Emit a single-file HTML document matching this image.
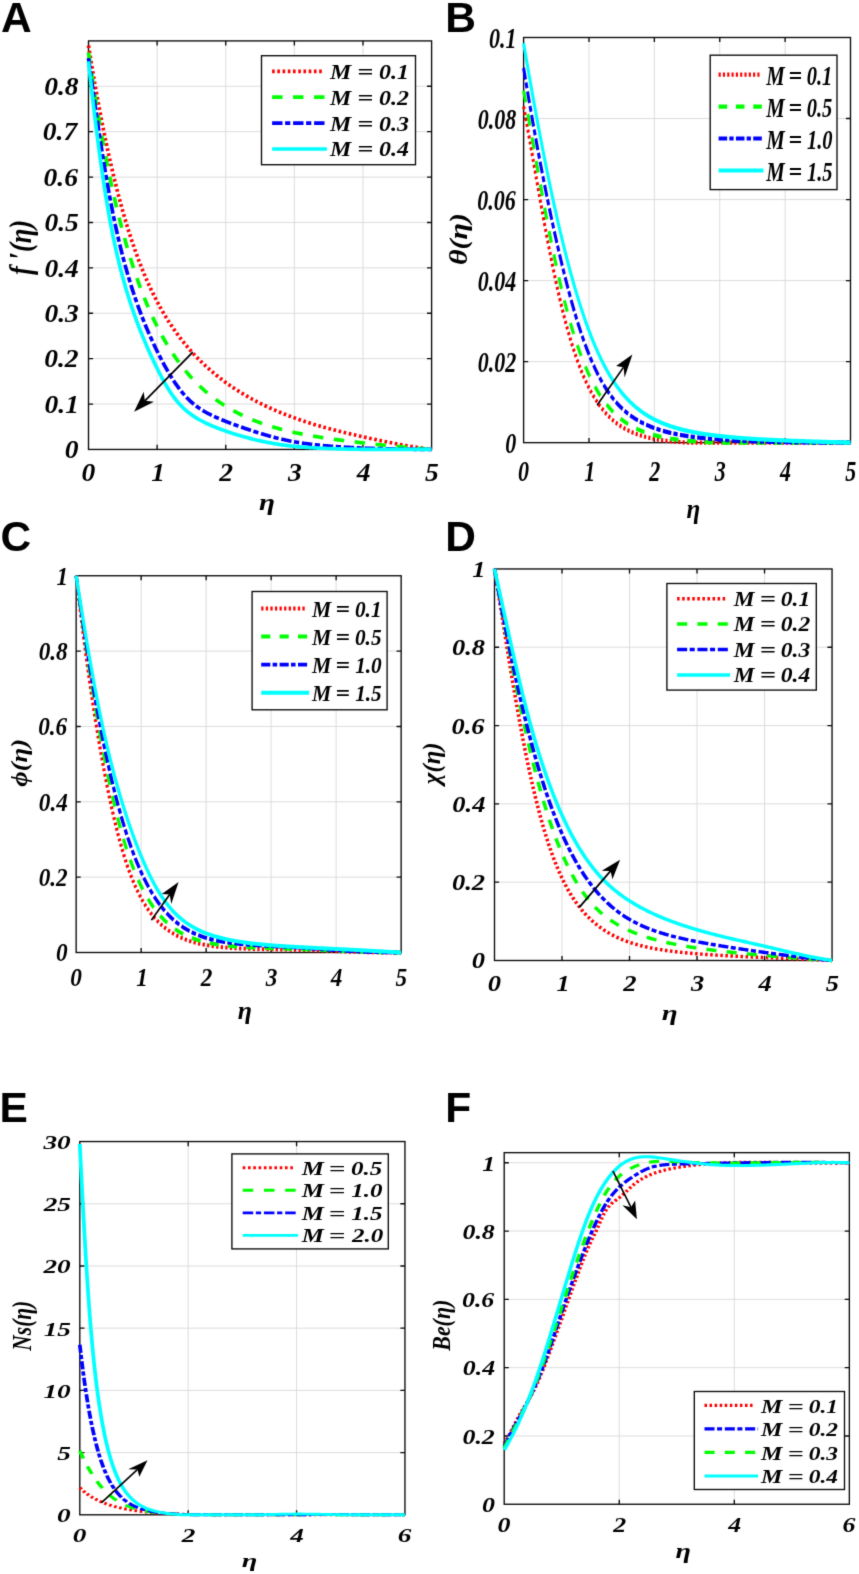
<!DOCTYPE html>
<html><head><meta charset="utf-8"><title>Figure</title>
<style>html,body{margin:0;padding:0;background:#fff}svg{display:block}text{fill:#000}</style></head>
<body><svg width="859" height="1574" viewBox="0 0 859 1574">
<defs><filter id="soft" filterUnits="userSpaceOnUse" x="0" y="0" width="859" height="1574" color-interpolation-filters="sRGB"><feConvolveMatrix order="3" kernelMatrix="0.0143 0.0910 0.0143 0.0910 0.5785 0.0910 0.0143 0.0910 0.0143" edgeMode="duplicate" preserveAlpha="true"/></filter></defs>
<rect width="859" height="1574" fill="#fff"/>
<g filter="url(#soft)">
<rect x="-20" y="-20" width="899" height="1614" fill="#fff"/>
<path d="M157.12,40.90V449.45M225.74,40.90V449.45M294.36,40.90V449.45M362.98,40.90V449.45M88.50,404.06H431.60M88.50,358.66H431.60M88.50,313.27H431.60M88.50,267.87H431.60M88.50,222.48H431.60M88.50,177.08H431.60M88.50,131.69H431.60M88.50,86.29H431.60" stroke="#d8d8d8" stroke-width="0.9" fill="none"/>
<path d="M157.12,449.45v-4.6M157.12,40.90v4.6M225.74,449.45v-4.6M225.74,40.90v4.6M294.36,449.45v-4.6M294.36,40.90v4.6M362.98,449.45v-4.6M362.98,40.90v4.6M88.50,404.06h4.6M431.60,404.06h-4.6M88.50,358.66h4.6M431.60,358.66h-4.6M88.50,313.27h4.6M431.60,313.27h-4.6M88.50,267.87h4.6M431.60,267.87h-4.6M88.50,222.48h4.6M431.60,222.48h-4.6M88.50,177.08h4.6M431.60,177.08h-4.6M88.50,131.69h4.6M431.60,131.69h-4.6M88.50,86.29h4.6M431.60,86.29h-4.6" stroke="#0a0a0a" stroke-width="1.35" fill="none"/>
<rect x="88.50" y="40.90" width="343.10" height="408.55" fill="none" stroke="#0a0a0a" stroke-width="1.35"/>
<g transform="scale(1.0,1)" fill="none" stroke-width="3.672">
<path d="M88.50,45.49 L88.52,45.64 L88.57,45.94 L88.64,46.36 L88.72,46.86 L88.81,47.45 L88.92,48.11 L89.03,48.84 L89.16,49.64 L89.30,50.50 L89.44,51.41 L89.60,52.37 L89.76,53.39 L89.93,54.46 L90.11,55.58 L90.30,56.74 L90.50,57.94 L90.70,59.19 L90.91,60.47 L91.13,61.80 L91.35,63.16 L91.59,64.56 L91.82,66.00 L92.07,67.47 L92.32,68.97 L92.58,70.50 L92.84,72.07 L93.11,73.66 L93.39,75.28 L93.67,76.93 L93.96,78.61 L94.25,80.31 L94.55,82.04 L94.86,83.80 L95.17,85.57 L95.49,87.37 L95.81,89.19 L96.14,91.03 L96.47,92.89 L96.81,94.77 L97.15,96.66 L97.50,98.58 L97.86,100.51 L98.21,102.46 L98.58,104.43 L98.95,106.41 L99.32,108.40 L99.70,110.41 L100.08,112.43 L100.47,114.46 L100.87,116.51 L101.26,118.56 L101.67,120.63 L102.07,122.70 L102.49,124.79 L102.90,126.88 L103.32,128.98 L103.75,131.09 L104.18,133.21 L104.61,135.33 L105.05,137.46 L105.50,139.60 L105.95,141.74 L106.40,143.88 L106.85,146.03 L107.32,148.18 L107.78,150.33 L108.25,152.49 L108.72,154.64 L109.20,156.80 L109.68,158.96 L110.17,161.12 L110.66,163.28 L111.16,165.44 L111.65,167.60 L112.16,169.76 L112.66,171.92 L113.17,174.07 L113.69,176.22 L114.21,178.37 L114.73,180.52 L115.26,182.66 L115.79,184.80 L116.32,186.93 L116.86,189.06 L117.40,191.19 L117.95,193.31 L118.50,195.42 L119.05,197.53 L119.61,199.63 L120.17,201.72 L120.74,203.81 L121.30,205.89 L121.88,207.96 L122.45,210.02 L123.03,212.08 L123.62,214.12 L124.20,216.16 L124.79,218.19 L125.39,220.21 L125.99,222.22 L126.59,224.22 L127.19,226.21 L127.80,228.20 L128.41,230.17 L129.03,232.13 L129.65,234.07 L130.27,236.01 L130.90,237.94 L131.53,239.85 L132.16,241.76 L132.80,243.65 L133.44,245.53 L134.08,247.40 L134.73,249.25 L135.38,251.09 L136.03,252.93 L136.69,254.74 L137.35,256.55 L138.02,258.34 L138.68,260.12 L139.35,261.88 L140.03,263.64 L140.71,265.38 L141.39,267.10 L142.07,268.81 L142.76,270.51 L143.45,272.20 L144.14,273.87 L144.84,275.52 L145.54,277.17 L146.24,278.80 L146.95,280.42 L147.66,282.02 L148.37,283.61 L149.09,285.19 L149.81,286.75 L150.53,288.30 L151.26,289.84 L151.99,291.36 L152.72,292.87 L153.46,294.37 L154.19,295.86 L154.94,297.33 L155.68,298.79 L156.43,300.23 L157.18,301.66 L157.93,303.08 L158.69,304.49 L159.45,305.88 L160.22,307.27 L160.98,308.64 L161.75,309.99 L162.52,311.34 L163.30,312.67 L164.08,313.99 L164.86,315.30 L165.64,316.60 L166.43,317.88 L167.22,319.15 L168.02,320.42 L168.81,321.67 L169.61,322.91 L170.42,324.13 L171.22,325.35 L172.03,326.55 L172.84,327.75 L173.66,328.93 L174.47,330.11 L175.29,331.27 L176.12,332.42 L176.94,333.56 L177.77,334.69 L178.60,335.81 L179.44,336.92 L180.28,338.03 L181.12,339.12 L181.96,340.20 L182.81,341.27 L183.65,342.33 L184.51,343.38 L185.36,344.43 L186.22,345.46 L187.08,346.49 L187.94,347.50 L188.81,348.51 L189.68,349.51 L190.55,350.50 L191.42,351.48 L192.30,352.45 L193.18,353.41 L194.06,354.37 L194.95,355.32 L195.84,356.26 L196.73,357.19 L197.62,358.11 L198.52,359.03 L199.42,359.93 L200.32,360.83 L201.23,361.73 L202.13,362.61 L203.05,363.49 L203.96,364.36 L204.87,365.22 L205.79,366.08 L206.71,366.92 L207.64,367.76 L208.57,368.60 L209.49,369.42 L210.43,370.24 L211.36,371.05 L212.30,371.86 L213.24,372.66 L214.18,373.45 L215.13,374.23 L216.08,375.01 L217.03,375.78 L217.98,376.55 L218.94,377.31 L219.89,378.06 L220.86,378.80 L221.82,379.54 L222.79,380.27 L223.75,381.00 L224.73,381.72 L225.70,382.43 L226.68,383.14 L227.66,383.84 L228.64,384.54 L229.62,385.22 L230.61,385.91 L231.60,386.59 L232.59,387.26 L233.59,387.92 L234.59,388.58 L235.59,389.24 L236.59,389.89 L237.59,390.53 L238.60,391.17 L239.61,391.80 L240.63,392.43 L241.64,393.05 L242.66,393.67 L243.68,394.28 L244.70,394.88 L245.73,395.49 L246.76,396.08 L247.79,396.67 L248.82,397.26 L249.86,397.84 L250.89,398.41 L251.93,398.99 L252.98,399.55 L254.02,400.11 L255.07,400.67 L256.12,401.22 L257.17,401.77 L258.23,402.31 L259.29,402.85 L260.35,403.38 L261.41,403.91 L262.48,404.44 L263.54,404.96 L264.61,405.47 L265.69,405.98 L266.76,406.49 L267.84,406.99 L268.92,407.49 L270.00,407.99 L271.09,408.48 L272.17,408.96 L273.26,409.45 L274.36,409.92 L275.45,410.40 L276.55,410.87 L277.65,411.34 L278.75,411.80 L279.85,412.26 L280.96,412.71 L282.07,413.16 L283.18,413.61 L284.29,414.05 L285.41,414.49 L286.53,414.93 L287.65,415.36 L288.77,415.79 L289.90,416.22 L291.02,416.64 L292.15,417.06 L293.29,417.48 L294.42,417.89 L295.56,418.30 L296.70,418.70 L297.84,419.10 L298.98,419.50 L300.13,419.90 L301.28,420.29 L302.43,420.68 L303.58,421.06 L304.74,421.44 L305.90,421.82 L307.06,422.20 L308.22,422.57 L309.39,422.94 L310.56,423.31 L311.73,423.67 L312.90,424.03 L314.07,424.39 L315.25,424.75 L316.43,425.10 L317.61,425.45 L318.79,425.79 L319.98,426.13 L321.17,426.47 L322.36,426.81 L323.55,427.15 L324.75,427.48 L325.94,427.81 L327.14,428.13 L328.34,428.46 L329.55,428.78 L330.75,429.10 L331.96,429.41 L333.17,429.72 L334.39,430.04 L335.60,430.34 L336.82,430.65 L338.04,430.96 L339.26,431.26 L340.49,431.56 L341.71,431.86 L342.94,432.16 L344.17,432.46 L345.41,432.75 L346.64,433.05 L347.88,433.34 L349.12,433.63 L350.36,433.92 L351.61,434.21 L352.85,434.50 L354.10,434.79 L355.35,435.08 L356.61,435.37 L357.86,435.65 L359.12,435.94 L360.38,436.22 L361.64,436.51 L362.90,436.79 L364.17,437.07 L365.44,437.36 L366.71,437.64 L367.98,437.92 L369.26,438.20 L370.54,438.48 L371.81,438.75 L373.10,439.03 L374.38,439.31 L375.67,439.58 L376.95,439.86 L378.24,440.13 L379.54,440.40 L380.83,440.68 L382.13,440.95 L383.43,441.22 L384.73,441.48 L386.03,441.75 L387.34,442.02 L388.64,442.28 L389.95,442.54 L391.27,442.80 L392.58,443.06 L393.90,443.32 L395.21,443.57 L396.53,443.83 L397.86,444.08 L399.18,444.33 L400.51,444.58 L401.84,444.82 L403.17,445.06 L404.50,445.30 L405.83,445.54 L407.17,445.77 L408.51,446.01 L409.85,446.23 L411.20,446.46 L412.54,446.68 L413.89,446.90 L415.24,447.12 L416.59,447.33 L417.95,447.54 L419.30,447.75 L420.66,447.95 L422.02,448.15 L423.38,448.34 L424.75,448.53 L426.11,448.72 L427.48,448.90 L428.85,449.08 L430.23,449.26 L431.60,449.43" stroke="#ff0000" stroke-dasharray="2.60 2.63"/>
<path d="M88.50,52.51 L88.52,52.68 L88.57,53.02 L88.64,53.49 L88.72,54.06 L88.81,54.72 L88.92,55.46 L89.03,56.29 L89.16,57.18 L89.30,58.14 L89.44,59.17 L89.60,60.25 L89.76,61.39 L89.93,62.59 L90.11,63.84 L90.30,65.14 L90.50,66.49 L90.70,67.88 L90.91,69.32 L91.13,70.80 L91.35,72.32 L91.59,73.88 L91.82,75.48 L92.07,77.12 L92.32,78.79 L92.58,80.49 L92.84,82.23 L93.11,84.00 L93.39,85.80 L93.67,87.62 L93.96,89.48 L94.25,91.36 L94.55,93.27 L94.86,95.20 L95.17,97.16 L95.49,99.14 L95.81,101.14 L96.14,103.17 L96.47,105.21 L96.81,107.27 L97.15,109.35 L97.50,111.45 L97.86,113.56 L98.21,115.69 L98.58,117.84 L98.95,120.00 L99.32,122.17 L99.70,124.35 L100.08,126.55 L100.47,128.76 L100.87,130.98 L101.26,133.21 L101.67,135.45 L102.07,137.69 L102.49,139.95 L102.90,142.21 L103.32,144.48 L103.75,146.75 L104.18,149.03 L104.61,151.32 L105.05,153.60 L105.50,155.90 L105.95,158.19 L106.40,160.49 L106.85,162.79 L107.32,165.09 L107.78,167.39 L108.25,169.70 L108.72,172.00 L109.20,174.30 L109.68,176.60 L110.17,178.90 L110.66,181.20 L111.16,183.50 L111.65,185.79 L112.16,188.08 L112.66,190.37 L113.17,192.65 L113.69,194.93 L114.21,197.20 L114.73,199.47 L115.26,201.74 L115.79,204.00 L116.32,206.25 L116.86,208.49 L117.40,210.73 L117.95,212.96 L118.50,215.19 L119.05,217.40 L119.61,219.61 L120.17,221.81 L120.74,224.00 L121.30,226.19 L121.88,228.36 L122.45,230.53 L123.03,232.68 L123.62,234.83 L124.20,236.97 L124.79,239.09 L125.39,241.21 L125.99,243.31 L126.59,245.41 L127.19,247.49 L127.80,249.56 L128.41,251.62 L129.03,253.67 L129.65,255.71 L130.27,257.73 L130.90,259.75 L131.53,261.75 L132.16,263.74 L132.80,265.72 L133.44,267.68 L134.08,269.63 L134.73,271.57 L135.38,273.50 L136.03,275.41 L136.69,277.31 L137.35,279.20 L138.02,281.07 L138.68,282.93 L139.35,284.78 L140.03,286.62 L140.71,288.44 L141.39,290.24 L142.07,292.04 L142.76,293.82 L143.45,295.58 L144.14,297.33 L144.84,299.07 L145.54,300.80 L146.24,302.51 L146.95,304.20 L147.66,305.89 L148.37,307.56 L149.09,309.21 L149.81,310.85 L150.53,312.48 L151.26,314.09 L151.99,315.69 L152.72,317.28 L153.46,318.85 L154.19,320.40 L154.94,321.95 L155.68,323.48 L156.43,324.99 L157.18,326.49 L157.93,327.98 L158.69,329.45 L159.45,330.91 L160.22,332.36 L160.98,333.79 L161.75,335.21 L162.52,336.62 L163.30,338.01 L164.08,339.39 L164.86,340.75 L165.64,342.10 L166.43,343.44 L167.22,344.76 L168.02,346.07 L168.81,347.37 L169.61,348.65 L170.42,349.92 L171.22,351.18 L172.03,352.43 L172.84,353.66 L173.66,354.88 L174.47,356.08 L175.29,357.28 L176.12,358.46 L176.94,359.62 L177.77,360.78 L178.60,361.92 L179.44,363.05 L180.28,364.17 L181.12,365.28 L181.96,366.37 L182.81,367.45 L183.65,368.52 L184.51,369.58 L185.36,370.62 L186.22,371.66 L187.08,372.68 L187.94,373.69 L188.81,374.69 L189.68,375.68 L190.55,376.66 L191.42,377.62 L192.30,378.57 L193.18,379.52 L194.06,380.45 L194.95,381.37 L195.84,382.28 L196.73,383.18 L197.62,384.07 L198.52,384.95 L199.42,385.81 L200.32,386.67 L201.23,387.52 L202.13,388.36 L203.05,389.18 L203.96,390.00 L204.87,390.81 L205.79,391.60 L206.71,392.39 L207.64,393.17 L208.57,393.94 L209.49,394.69 L210.43,395.44 L211.36,396.18 L212.30,396.91 L213.24,397.63 L214.18,398.35 L215.13,399.05 L216.08,399.75 L217.03,400.43 L217.98,401.11 L218.94,401.78 L219.89,402.44 L220.86,403.09 L221.82,403.73 L222.79,404.37 L223.75,404.99 L224.73,405.61 L225.70,406.22 L226.68,406.83 L227.66,407.42 L228.64,408.01 L229.62,408.59 L230.61,409.16 L231.60,409.73 L232.59,410.28 L233.59,410.83 L234.59,411.38 L235.59,411.91 L236.59,412.44 L237.59,412.96 L238.60,413.48 L239.61,413.98 L240.63,414.48 L241.64,414.98 L242.66,415.47 L243.68,415.95 L244.70,416.42 L245.73,416.89 L246.76,417.35 L247.79,417.81 L248.82,418.26 L249.86,418.70 L250.89,419.14 L251.93,419.57 L252.98,419.99 L254.02,420.41 L255.07,420.83 L256.12,421.24 L257.17,421.64 L258.23,422.04 L259.29,422.43 L260.35,422.82 L261.41,423.20 L262.48,423.57 L263.54,423.94 L264.61,424.31 L265.69,424.67 L266.76,425.03 L267.84,425.38 L268.92,425.72 L270.00,426.06 L271.09,426.40 L272.17,426.73 L273.26,427.06 L274.36,427.38 L275.45,427.70 L276.55,428.01 L277.65,428.32 L278.75,428.62 L279.85,428.92 L280.96,429.22 L282.07,429.51 L283.18,429.80 L284.29,430.08 L285.41,430.36 L286.53,430.64 L287.65,430.91 L288.77,431.18 L289.90,431.44 L291.02,431.70 L292.15,431.96 L293.29,432.21 L294.42,432.46 L295.56,432.70 L296.70,432.95 L297.84,433.19 L298.98,433.42 L300.13,433.65 L301.28,433.88 L302.43,434.11 L303.58,434.33 L304.74,434.55 L305.90,434.77 L307.06,434.98 L308.22,435.20 L309.39,435.41 L310.56,435.61 L311.73,435.82 L312.90,436.02 L314.07,436.22 L315.25,436.42 L316.43,436.61 L317.61,436.81 L318.79,437.00 L319.98,437.19 L321.17,437.38 L322.36,437.56 L323.55,437.74 L324.75,437.93 L325.94,438.11 L327.14,438.29 L328.34,438.46 L329.55,438.64 L330.75,438.81 L331.96,438.98 L333.17,439.15 L334.39,439.32 L335.60,439.49 L336.82,439.66 L338.04,439.82 L339.26,439.99 L340.49,440.15 L341.71,440.31 L342.94,440.47 L344.17,440.63 L345.41,440.79 L346.64,440.95 L347.88,441.10 L349.12,441.26 L350.36,441.41 L351.61,441.57 L352.85,441.72 L354.10,441.87 L355.35,442.02 L356.61,442.17 L357.86,442.32 L359.12,442.47 L360.38,442.61 L361.64,442.76 L362.90,442.91 L364.17,443.05 L365.44,443.20 L366.71,443.34 L367.98,443.48 L369.26,443.62 L370.54,443.76 L371.81,443.90 L373.10,444.04 L374.38,444.18 L375.67,444.32 L376.95,444.46 L378.24,444.60 L379.54,444.73 L380.83,444.87 L382.13,445.00 L383.43,445.14 L384.73,445.27 L386.03,445.40 L387.34,445.53 L388.64,445.67 L389.95,445.80 L391.27,445.93 L392.58,446.05 L393.90,446.18 L395.21,446.31 L396.53,446.44 L397.86,446.56 L399.18,446.69 L400.51,446.81 L401.84,446.94 L403.17,447.06 L404.50,447.18 L405.83,447.30 L407.17,447.42 L408.51,447.54 L409.85,447.66 L411.20,447.78 L412.54,447.89 L413.89,448.01 L415.24,448.13 L416.59,448.24 L417.95,448.35 L419.30,448.46 L420.66,448.57 L422.02,448.68 L423.38,448.79 L424.75,448.90 L426.11,449.01 L427.48,449.11 L428.85,449.22 L430.23,449.32 L431.60,449.42" stroke="#00ff00" stroke-dasharray="10.40 10.60"/>
<path d="M88.50,58.13 L88.52,58.30 L88.57,58.65 L88.64,59.13 L88.72,59.71 L88.81,60.39 L88.92,61.16 L89.03,62.01 L89.16,62.93 L89.30,63.92 L89.44,64.98 L89.60,66.11 L89.76,67.30 L89.93,68.55 L90.11,69.86 L90.30,71.23 L90.50,72.64 L90.70,74.12 L90.91,75.64 L91.13,77.21 L91.35,78.84 L91.59,80.50 L91.82,82.22 L92.07,83.98 L92.32,85.78 L92.58,87.63 L92.84,89.51 L93.11,91.44 L93.39,93.40 L93.67,95.40 L93.96,97.44 L94.25,99.52 L94.55,101.63 L94.86,103.77 L95.17,105.94 L95.49,108.15 L95.81,110.39 L96.14,112.65 L96.47,114.94 L96.81,117.27 L97.15,119.61 L97.50,121.98 L97.86,124.38 L98.21,126.79 L98.58,129.23 L98.95,131.69 L99.32,134.17 L99.70,136.66 L100.08,139.18 L100.47,141.71 L100.87,144.25 L101.26,146.81 L101.67,149.38 L102.07,151.96 L102.49,154.55 L102.90,157.16 L103.32,159.77 L103.75,162.38 L104.18,165.01 L104.61,167.64 L105.05,170.27 L105.50,172.90 L105.95,175.54 L106.40,178.18 L106.85,180.82 L107.32,183.45 L107.78,186.09 L108.25,188.72 L108.72,191.34 L109.20,193.96 L109.68,196.57 L110.17,199.18 L110.66,201.78 L111.16,204.36 L111.65,206.94 L112.16,209.51 L112.66,212.06 L113.17,214.60 L113.69,217.12 L114.21,219.63 L114.73,222.13 L115.26,224.60 L115.79,227.06 L116.32,229.50 L116.86,231.93 L117.40,234.33 L117.95,236.72 L118.50,239.10 L119.05,241.45 L119.61,243.79 L120.17,246.10 L120.74,248.40 L121.30,250.69 L121.88,252.95 L122.45,255.20 L123.03,257.43 L123.62,259.64 L124.20,261.84 L124.79,264.02 L125.39,266.18 L125.99,268.32 L126.59,270.45 L127.19,272.56 L127.80,274.66 L128.41,276.74 L129.03,278.80 L129.65,280.84 L130.27,282.87 L130.90,284.88 L131.53,286.88 L132.16,288.86 L132.80,290.83 L133.44,292.78 L134.08,294.72 L134.73,296.64 L135.38,298.54 L136.03,300.43 L136.69,302.31 L137.35,304.17 L138.02,306.02 L138.68,307.86 L139.35,309.68 L140.03,311.49 L140.71,313.28 L141.39,315.06 L142.07,316.83 L142.76,318.59 L143.45,320.33 L144.14,322.06 L144.84,323.78 L145.54,325.48 L146.24,327.18 L146.95,328.86 L147.66,330.53 L148.37,332.19 L149.09,333.83 L149.81,335.47 L150.53,337.09 L151.26,338.71 L151.99,340.31 L152.72,341.90 L153.46,343.49 L154.19,345.06 L154.94,346.62 L155.68,348.17 L156.43,349.71 L157.18,351.24 L157.93,352.76 L158.69,354.27 L159.45,355.77 L160.22,357.27 L160.98,358.75 L161.75,360.22 L162.52,361.68 L163.30,363.14 L164.08,364.58 L164.86,366.01 L165.64,367.42 L166.43,368.82 L167.22,370.21 L168.02,371.58 L168.81,372.94 L169.61,374.28 L170.42,375.60 L171.22,376.91 L172.03,378.19 L172.84,379.46 L173.66,380.71 L174.47,381.94 L175.29,383.16 L176.12,384.35 L176.94,385.52 L177.77,386.67 L178.60,387.80 L179.44,388.91 L180.28,389.99 L181.12,391.06 L181.96,392.10 L182.81,393.12 L183.65,394.12 L184.51,395.10 L185.36,396.05 L186.22,396.98 L187.08,397.89 L187.94,398.78 L188.81,399.65 L189.68,400.49 L190.55,401.31 L191.42,402.10 L192.30,402.88 L193.18,403.63 L194.06,404.36 L194.95,405.07 L195.84,405.76 L196.73,406.43 L197.62,407.08 L198.52,407.71 L199.42,408.33 L200.32,408.93 L201.23,409.52 L202.13,410.09 L203.05,410.65 L203.96,411.20 L204.87,411.73 L205.79,412.25 L206.71,412.76 L207.64,413.26 L208.57,413.75 L209.49,414.23 L210.43,414.70 L211.36,415.16 L212.30,415.61 L213.24,416.05 L214.18,416.49 L215.13,416.92 L216.08,417.35 L217.03,417.77 L217.98,418.18 L218.94,418.59 L219.89,418.99 L220.86,419.39 L221.82,419.79 L222.79,420.18 L223.75,420.57 L224.73,420.96 L225.70,421.34 L226.68,421.73 L227.66,422.11 L228.64,422.49 L229.62,422.86 L230.61,423.24 L231.60,423.61 L232.59,423.98 L233.59,424.35 L234.59,424.72 L235.59,425.08 L236.59,425.45 L237.59,425.81 L238.60,426.17 L239.61,426.53 L240.63,426.89 L241.64,427.24 L242.66,427.60 L243.68,427.95 L244.70,428.30 L245.73,428.65 L246.76,429.00 L247.79,429.35 L248.82,429.69 L249.86,430.03 L250.89,430.38 L251.93,430.72 L252.98,431.05 L254.02,431.39 L255.07,431.73 L256.12,432.06 L257.17,432.39 L258.23,432.72 L259.29,433.05 L260.35,433.38 L261.41,433.71 L262.48,434.03 L263.54,434.35 L264.61,434.67 L265.69,434.99 L266.76,435.30 L267.84,435.61 L268.92,435.92 L270.00,436.22 L271.09,436.53 L272.17,436.82 L273.26,437.12 L274.36,437.40 L275.45,437.69 L276.55,437.97 L277.65,438.25 L278.75,438.52 L279.85,438.79 L280.96,439.05 L282.07,439.31 L283.18,439.56 L284.29,439.81 L285.41,440.06 L286.53,440.29 L287.65,440.53 L288.77,440.76 L289.90,440.98 L291.02,441.20 L292.15,441.42 L293.29,441.63 L294.42,441.83 L295.56,442.03 L296.70,442.23 L297.84,442.42 L298.98,442.60 L300.13,442.78 L301.28,442.96 L302.43,443.13 L303.58,443.30 L304.74,443.46 L305.90,443.62 L307.06,443.78 L308.22,443.93 L309.39,444.08 L310.56,444.23 L311.73,444.37 L312.90,444.51 L314.07,444.64 L315.25,444.77 L316.43,444.90 L317.61,445.03 L318.79,445.15 L319.98,445.27 L321.17,445.39 L322.36,445.50 L323.55,445.61 L324.75,445.72 L325.94,445.83 L327.14,445.93 L328.34,446.04 L329.55,446.13 L330.75,446.23 L331.96,446.33 L333.17,446.42 L334.39,446.51 L335.60,446.60 L336.82,446.68 L338.04,446.76 L339.26,446.85 L340.49,446.93 L341.71,447.00 L342.94,447.08 L344.17,447.16 L345.41,447.23 L346.64,447.30 L347.88,447.37 L349.12,447.44 L350.36,447.50 L351.61,447.57 L352.85,447.63 L354.10,447.69 L355.35,447.75 L356.61,447.81 L357.86,447.86 L359.12,447.92 L360.38,447.97 L361.64,448.03 L362.90,448.08 L364.17,448.13 L365.44,448.18 L366.71,448.23 L367.98,448.27 L369.26,448.32 L370.54,448.36 L371.81,448.41 L373.10,448.45 L374.38,448.49 L375.67,448.53 L376.95,448.57 L378.24,448.61 L379.54,448.64 L380.83,448.68 L382.13,448.71 L383.43,448.75 L384.73,448.78 L386.03,448.81 L387.34,448.84 L388.64,448.88 L389.95,448.90 L391.27,448.93 L392.58,448.96 L393.90,448.99 L395.21,449.01 L396.53,449.04 L397.86,449.06 L399.18,449.09 L400.51,449.11 L401.84,449.13 L403.17,449.15 L404.50,449.18 L405.83,449.20 L407.17,449.21 L408.51,449.23 L409.85,449.25 L411.20,449.27 L412.54,449.28 L413.89,449.30 L415.24,449.32 L416.59,449.33 L417.95,449.34 L419.30,449.36 L420.66,449.37 L422.02,449.38 L423.38,449.39 L424.75,449.40 L426.11,449.41 L427.48,449.42 L428.85,449.43 L430.23,449.44 L431.60,449.45" stroke="#0000ff" stroke-dasharray="10.40 2.60 5.20 2.80"/>
<path d="M88.50,61.33 L88.52,61.55 L88.57,61.99 L88.64,62.59 L88.72,63.32 L88.81,64.18 L88.92,65.14 L89.03,66.20 L89.16,67.36 L89.30,68.60 L89.44,69.93 L89.60,71.34 L89.76,72.82 L89.93,74.37 L90.11,75.99 L90.30,77.68 L90.50,79.43 L90.70,81.25 L90.91,83.12 L91.13,85.05 L91.35,87.03 L91.59,89.07 L91.82,91.16 L92.07,93.29 L92.32,95.47 L92.58,97.70 L92.84,99.97 L93.11,102.28 L93.39,104.63 L93.67,107.02 L93.96,109.45 L94.25,111.91 L94.55,114.40 L94.86,116.92 L95.17,119.48 L95.49,122.06 L95.81,124.67 L96.14,127.30 L96.47,129.96 L96.81,132.64 L97.15,135.34 L97.50,138.06 L97.86,140.80 L98.21,143.55 L98.58,146.32 L98.95,149.10 L99.32,151.89 L99.70,154.69 L100.08,157.50 L100.47,160.31 L100.87,163.14 L101.26,165.96 L101.67,168.79 L102.07,171.62 L102.49,174.46 L102.90,177.29 L103.32,180.11 L103.75,182.94 L104.18,185.76 L104.61,188.57 L105.05,191.37 L105.50,194.17 L105.95,196.96 L106.40,199.73 L106.85,202.49 L107.32,205.24 L107.78,207.98 L108.25,210.69 L108.72,213.39 L109.20,216.08 L109.68,218.74 L110.17,221.38 L110.66,224.00 L111.16,226.60 L111.65,229.18 L112.16,231.74 L112.66,234.27 L113.17,236.78 L113.69,239.27 L114.21,241.74 L114.73,244.18 L115.26,246.61 L115.79,249.01 L116.32,251.39 L116.86,253.75 L117.40,256.08 L117.95,258.40 L118.50,260.70 L119.05,262.97 L119.61,265.22 L120.17,267.46 L120.74,269.67 L121.30,271.86 L121.88,274.04 L122.45,276.19 L123.03,278.32 L123.62,280.44 L124.20,282.54 L124.79,284.62 L125.39,286.68 L125.99,288.72 L126.59,290.75 L127.19,292.75 L127.80,294.75 L128.41,296.72 L129.03,298.68 L129.65,300.62 L130.27,302.55 L130.90,304.46 L131.53,306.36 L132.16,308.24 L132.80,310.11 L133.44,311.96 L134.08,313.80 L134.73,315.63 L135.38,317.44 L136.03,319.24 L136.69,321.03 L137.35,322.81 L138.02,324.57 L138.68,326.32 L139.35,328.07 L140.03,329.80 L140.71,331.51 L141.39,333.22 L142.07,334.92 L142.76,336.61 L143.45,338.29 L144.14,339.96 L144.84,341.61 L145.54,343.26 L146.24,344.90 L146.95,346.54 L147.66,348.16 L148.37,349.77 L149.09,351.38 L149.81,352.98 L150.53,354.57 L151.26,356.15 L151.99,357.72 L152.72,359.29 L153.46,360.85 L154.19,362.40 L154.94,363.94 L155.68,365.48 L156.43,367.01 L157.18,368.53 L157.93,370.04 L158.69,371.55 L159.45,373.04 L160.22,374.52 L160.98,375.99 L161.75,377.44 L162.52,378.88 L163.30,380.30 L164.08,381.71 L164.86,383.09 L165.64,384.46 L166.43,385.80 L167.22,387.12 L168.02,388.42 L168.81,389.70 L169.61,390.95 L170.42,392.18 L171.22,393.39 L172.03,394.57 L172.84,395.72 L173.66,396.84 L174.47,397.94 L175.29,399.02 L176.12,400.06 L176.94,401.08 L177.77,402.07 L178.60,403.04 L179.44,403.97 L180.28,404.88 L181.12,405.76 L181.96,406.62 L182.81,407.45 L183.65,408.27 L184.51,409.05 L185.36,409.82 L186.22,410.57 L187.08,411.29 L187.94,412.00 L188.81,412.69 L189.68,413.36 L190.55,414.01 L191.42,414.65 L192.30,415.27 L193.18,415.88 L194.06,416.47 L194.95,417.04 L195.84,417.61 L196.73,418.16 L197.62,418.70 L198.52,419.22 L199.42,419.74 L200.32,420.24 L201.23,420.74 L202.13,421.22 L203.05,421.70 L203.96,422.16 L204.87,422.62 L205.79,423.06 L206.71,423.50 L207.64,423.93 L208.57,424.36 L209.49,424.78 L210.43,425.19 L211.36,425.59 L212.30,425.99 L213.24,426.38 L214.18,426.77 L215.13,427.15 L216.08,427.52 L217.03,427.90 L217.98,428.26 L218.94,428.63 L219.89,428.99 L220.86,429.34 L221.82,429.69 L222.79,430.04 L223.75,430.39 L224.73,430.73 L225.70,431.07 L226.68,431.41 L227.66,431.74 L228.64,432.08 L229.62,432.41 L230.61,432.73 L231.60,433.06 L232.59,433.38 L233.59,433.70 L234.59,434.01 L235.59,434.33 L236.59,434.64 L237.59,434.94 L238.60,435.25 L239.61,435.55 L240.63,435.85 L241.64,436.14 L242.66,436.43 L243.68,436.72 L244.70,437.01 L245.73,437.29 L246.76,437.57 L247.79,437.84 L248.82,438.12 L249.86,438.39 L250.89,438.65 L251.93,438.91 L252.98,439.17 L254.02,439.43 L255.07,439.68 L256.12,439.93 L257.17,440.18 L258.23,440.42 L259.29,440.66 L260.35,440.90 L261.41,441.13 L262.48,441.36 L263.54,441.58 L264.61,441.81 L265.69,442.02 L266.76,442.24 L267.84,442.45 L268.92,442.66 L270.00,442.86 L271.09,443.06 L272.17,443.26 L273.26,443.45 L274.36,443.64 L275.45,443.82 L276.55,444.00 L277.65,444.18 L278.75,444.35 L279.85,444.52 L280.96,444.68 L282.07,444.84 L283.18,445.00 L284.29,445.15 L285.41,445.30 L286.53,445.44 L287.65,445.58 L288.77,445.72 L289.90,445.85 L291.02,445.98 L292.15,446.10 L293.29,446.23 L294.42,446.34 L295.56,446.46 L296.70,446.57 L297.84,446.67 L298.98,446.78 L300.13,446.88 L301.28,446.97 L302.43,447.07 L303.58,447.16 L304.74,447.25 L305.90,447.33 L307.06,447.41 L308.22,447.49 L309.39,447.57 L310.56,447.65 L311.73,447.72 L312.90,447.79 L314.07,447.86 L315.25,447.92 L316.43,447.99 L317.61,448.05 L318.79,448.11 L319.98,448.17 L321.17,448.22 L322.36,448.28 L323.55,448.33 L324.75,448.38 L325.94,448.43 L327.14,448.48 L328.34,448.52 L329.55,448.57 L330.75,448.61 L331.96,448.65 L333.17,448.69 L334.39,448.73 L335.60,448.77 L336.82,448.80 L338.04,448.84 L339.26,448.87 L340.49,448.91 L341.71,448.94 L342.94,448.97 L344.17,449.00 L345.41,449.02 L346.64,449.05 L347.88,449.08 L349.12,449.10 L350.36,449.13 L351.61,449.15 L352.85,449.17 L354.10,449.19 L355.35,449.21 L356.61,449.23 L357.86,449.25 L359.12,449.27 L360.38,449.29 L361.64,449.30 L362.90,449.32 L364.17,449.33 L365.44,449.35 L366.71,449.36 L367.98,449.37 L369.26,449.38 L370.54,449.40 L371.81,449.41 L373.10,449.42 L374.38,449.42 L375.67,449.43 L376.95,449.44 L378.24,449.45 L379.54,449.45 L380.83,449.45 L382.13,449.45 L383.43,449.45 L384.73,449.45 L386.03,449.45 L387.34,449.45 L388.64,449.45 L389.95,449.45 L391.27,449.45 L392.58,449.45 L393.90,449.45 L395.21,449.45 L396.53,449.45 L397.86,449.45 L399.18,449.45 L400.51,449.45 L401.84,449.45 L403.17,449.45 L404.50,449.45 L405.83,449.45 L407.17,449.45 L408.51,449.45 L409.85,449.45 L411.20,449.45 L412.54,449.45 L413.89,449.45 L415.24,449.45 L416.59,449.45 L417.95,449.45 L419.30,449.45 L420.66,449.45 L422.02,449.45 L423.38,449.45 L424.75,449.45 L426.11,449.45 L427.48,449.45 L428.85,449.45 L430.23,449.45 L431.60,449.45" stroke="#00ffff"/>
</g>
<rect x="261.50" y="55.70" width="154.00" height="109.00" fill="#fff" stroke="#0a0a0a" stroke-width="1.35"/>
<g transform="scale(1.0,1)" fill="none" stroke-width="3.672">
<path d="M272.10,71.40H321.87" stroke="#ff0000" stroke-dasharray="2.60 2.63"/>
<path d="M272.10,97.20H326.90" stroke="#00ff00" stroke-dasharray="10.40 10.60"/>
<path d="M272.10,123.10H326.90" stroke="#0000ff" stroke-dasharray="10.40 2.60 5.20 2.80"/>
<path d="M272.10,149.00H326.90" stroke="#00ffff"/>
</g>
<text transform="translate(330.04,78.75) scale(1.1247,1.0000)" font-size="21.32" text-anchor="start" font-family="Liberation Serif" font-weight="bold" font-style="italic"  xml:space="preserve">M</text>
<text transform="translate(357.30,78.75) scale(1.3256,1.0000)" font-size="21.32" text-anchor="start" font-family="Liberation Serif" font-weight="bold" font-style="italic"  xml:space="preserve">=</text>
<text transform="translate(379.08,78.75) scale(1.1218,1.0000)" font-size="21.32" text-anchor="start" font-family="Liberation Serif" font-weight="bold" font-style="italic"  xml:space="preserve">0.1</text>
<text transform="translate(330.04,104.65) scale(1.1247,1.0000)" font-size="21.32" text-anchor="start" font-family="Liberation Serif" font-weight="bold" font-style="italic"  xml:space="preserve">M</text>
<text transform="translate(357.30,104.65) scale(1.3256,1.0000)" font-size="21.32" text-anchor="start" font-family="Liberation Serif" font-weight="bold" font-style="italic"  xml:space="preserve">=</text>
<text transform="translate(379.08,104.65) scale(1.1218,1.0000)" font-size="21.32" text-anchor="start" font-family="Liberation Serif" font-weight="bold" font-style="italic"  xml:space="preserve">0.2</text>
<text transform="translate(330.04,130.55) scale(1.1247,1.0000)" font-size="21.32" text-anchor="start" font-family="Liberation Serif" font-weight="bold" font-style="italic"  xml:space="preserve">M</text>
<text transform="translate(357.30,130.55) scale(1.3256,1.0000)" font-size="21.32" text-anchor="start" font-family="Liberation Serif" font-weight="bold" font-style="italic"  xml:space="preserve">=</text>
<text transform="translate(379.08,130.55) scale(1.1218,1.0000)" font-size="21.32" text-anchor="start" font-family="Liberation Serif" font-weight="bold" font-style="italic"  xml:space="preserve">0.3</text>
<text transform="translate(330.04,156.45) scale(1.1247,1.0000)" font-size="21.32" text-anchor="start" font-family="Liberation Serif" font-weight="bold" font-style="italic"  xml:space="preserve">M</text>
<text transform="translate(357.30,156.45) scale(1.3256,1.0000)" font-size="21.32" text-anchor="start" font-family="Liberation Serif" font-weight="bold" font-style="italic"  xml:space="preserve">=</text>
<text transform="translate(379.08,156.45) scale(1.1218,1.0000)" font-size="21.32" text-anchor="start" font-family="Liberation Serif" font-weight="bold" font-style="italic"  xml:space="preserve">0.4</text>
<g transform="scale(1.0,1)"><path d="M192.80,352.10L144.86,400.78" stroke="#000" stroke-width="1.80" fill="none"/><path d="M134.10,411.70L143.71,391.69L144.86,400.78L153.97,401.79Z" fill="#000"/></g>
<text transform="translate(64.82,458.17) scale(1.1250,1.0000)" font-size="24.50" text-anchor="start" font-family="Liberation Serif" font-weight="bold" font-style="italic"  xml:space="preserve">0</text>
<text transform="translate(44.56,412.90) scale(1.1250,1.0000)" font-size="24.50" text-anchor="start" font-family="Liberation Serif" font-weight="bold" font-style="italic"  xml:space="preserve">0.1</text>
<text transform="translate(44.15,367.38) scale(1.1250,1.0000)" font-size="24.50" text-anchor="start" font-family="Liberation Serif" font-weight="bold" font-style="italic"  xml:space="preserve">0.2</text>
<text transform="translate(44.42,321.98) scale(1.1250,1.0000)" font-size="24.50" text-anchor="start" font-family="Liberation Serif" font-weight="bold" font-style="italic"  xml:space="preserve">0.3</text>
<text transform="translate(44.42,276.59) scale(1.1250,1.0000)" font-size="24.50" text-anchor="start" font-family="Liberation Serif" font-weight="bold" font-style="italic"  xml:space="preserve">0.4</text>
<text transform="translate(44.42,231.20) scale(1.1250,1.0000)" font-size="24.50" text-anchor="start" font-family="Liberation Serif" font-weight="bold" font-style="italic"  xml:space="preserve">0.5</text>
<text transform="translate(43.60,185.80) scale(1.1250,1.0000)" font-size="24.50" text-anchor="start" font-family="Liberation Serif" font-weight="bold" font-style="italic"  xml:space="preserve">0.6</text>
<text transform="translate(42.77,140.41) scale(1.1250,1.0000)" font-size="24.50" text-anchor="start" font-family="Liberation Serif" font-weight="bold" font-style="italic"  xml:space="preserve">0.7</text>
<text transform="translate(44.15,95.01) scale(1.1250,1.0000)" font-size="24.50" text-anchor="start" font-family="Liberation Serif" font-weight="bold" font-style="italic"  xml:space="preserve">0.8</text>
<text transform="translate(81.47,480.50) scale(1.1250,1.0000)" font-size="24.50" text-anchor="start" font-family="Liberation Serif" font-weight="bold" font-style="italic"  xml:space="preserve">0</text>
<text transform="translate(151.33,480.50) scale(1.1250,1.0000)" font-size="24.50" text-anchor="start" font-family="Liberation Serif" font-weight="bold" font-style="italic"  xml:space="preserve">1</text>
<text transform="translate(219.26,480.50) scale(1.1250,1.0000)" font-size="24.50" text-anchor="start" font-family="Liberation Serif" font-weight="bold" font-style="italic"  xml:space="preserve">2</text>
<text transform="translate(288.02,480.50) scale(1.1250,1.0000)" font-size="24.50" text-anchor="start" font-family="Liberation Serif" font-weight="bold" font-style="italic"  xml:space="preserve">3</text>
<text transform="translate(356.64,480.50) scale(1.1250,1.0000)" font-size="24.50" text-anchor="start" font-family="Liberation Serif" font-weight="bold" font-style="italic"  xml:space="preserve">4</text>
<text transform="translate(424.99,480.50) scale(1.1250,1.0000)" font-size="24.50" text-anchor="start" font-family="Liberation Serif" font-weight="bold" font-style="italic"  xml:space="preserve">5</text>
<text transform="translate(259.12,509.80) scale(1.2243,1.0000)" font-size="23.82" text-anchor="start" font-family="Liberation Serif" font-weight="bold" font-style="italic"  xml:space="preserve">η</text>
<text transform="translate(31.28,275.00) scale(1.1893,1.0000) rotate(-90)" font-size="26.52" text-anchor="start" font-family="Liberation Serif" font-weight="bold" font-style="italic"  xml:space="preserve">f ′(η)</text>
<text transform="translate(1.02,32.32) scale(1.0000,1.0000)" font-size="42.50" text-anchor="start" font-family="Liberation Sans" font-weight="bold"  xml:space="preserve">A</text>
<path d="M588.98,37.50V442.65M654.36,37.50V442.65M719.74,37.50V442.65M785.12,37.50V442.65M523.60,361.62H850.50M523.60,280.59H850.50M523.60,199.56H850.50M523.60,118.53H850.50" stroke="#d8d8d8" stroke-width="0.9" fill="none"/>
<path d="M588.98,442.65v-4.6M588.98,37.50v4.6M654.36,442.65v-4.6M654.36,37.50v4.6M719.74,442.65v-4.6M719.74,37.50v4.6M785.12,442.65v-4.6M785.12,37.50v4.6M523.60,361.62h4.6M850.50,361.62h-4.6M523.60,280.59h4.6M850.50,280.59h-4.6M523.60,199.56h4.6M850.50,199.56h-4.6M523.60,118.53h4.6M850.50,118.53h-4.6" stroke="#0a0a0a" stroke-width="1.35" fill="none"/>
<rect x="523.60" y="37.50" width="326.90" height="405.15" fill="none" stroke="#0a0a0a" stroke-width="1.35"/>
<g transform="scale(0.717,1)" fill="none" stroke-width="4.212">
<path d="M730.26,106.42 L730.30,106.54 L730.36,106.79 L730.45,107.12 L730.55,107.53 L730.68,108.00 L730.82,108.54 L730.97,109.14 L731.14,109.79 L731.32,110.49 L731.52,111.24 L731.72,112.04 L731.94,112.88 L732.17,113.78 L732.41,114.71 L732.66,115.69 L732.92,116.71 L733.19,117.77 L733.47,118.88 L733.76,120.02 L734.06,121.20 L734.37,122.42 L734.68,123.68 L735.01,124.98 L735.34,126.31 L735.69,127.69 L736.04,129.09 L736.40,130.54 L736.76,132.02 L737.14,133.53 L737.52,135.08 L737.91,136.66 L738.31,138.28 L738.72,139.93 L739.13,141.61 L739.55,143.33 L739.98,145.08 L740.41,146.86 L740.86,148.67 L741.31,150.51 L741.76,152.38 L742.23,154.29 L742.70,156.22 L743.17,158.18 L743.66,160.17 L744.15,162.19 L744.64,164.23 L745.15,166.30 L745.66,168.40 L746.17,170.53 L746.70,172.68 L747.23,174.85 L747.76,177.05 L748.30,179.27 L748.85,181.52 L749.40,183.78 L749.96,186.07 L750.53,188.38 L751.10,190.71 L751.68,193.06 L752.26,195.43 L752.85,197.82 L753.45,200.22 L754.05,202.65 L754.66,205.08 L755.27,207.54 L755.89,210.00 L756.51,212.48 L757.14,214.98 L757.78,217.48 L758.42,220.00 L759.06,222.53 L759.71,225.07 L760.37,227.61 L761.03,230.17 L761.70,232.73 L762.38,235.30 L763.05,237.87 L763.74,240.45 L764.43,243.04 L765.12,245.62 L765.82,248.21 L766.53,250.80 L767.24,253.39 L767.95,255.98 L768.67,258.57 L769.40,261.15 L770.13,263.74 L770.86,266.32 L771.60,268.90 L772.35,271.47 L773.10,274.03 L773.86,276.59 L774.62,279.14 L775.38,281.68 L776.15,284.21 L776.93,286.74 L777.71,289.25 L778.49,291.75 L779.28,294.24 L780.08,296.71 L780.88,299.18 L781.68,301.62 L782.49,304.06 L783.30,306.47 L784.12,308.87 L784.94,311.26 L785.77,313.63 L786.61,315.97 L787.44,318.30 L788.28,320.62 L789.13,322.91 L789.98,325.18 L790.84,327.43 L791.70,329.66 L792.56,331.87 L793.43,334.05 L794.30,336.21 L795.18,338.35 L796.06,340.47 L796.95,342.57 L797.84,344.63 L798.74,346.68 L799.64,348.70 L800.54,350.69 L801.45,352.67 L802.36,354.61 L803.28,356.53 L804.20,358.42 L805.13,360.29 L806.06,362.13 L807.00,363.95 L807.94,365.73 L808.88,367.50 L809.83,369.23 L810.78,370.94 L811.74,372.62 L812.70,374.28 L813.66,375.91 L814.63,377.51 L815.60,379.08 L816.58,380.63 L817.56,382.15 L818.55,383.65 L819.54,385.11 L820.53,386.56 L821.53,387.97 L822.53,389.36 L823.54,390.72 L824.55,392.06 L825.56,393.37 L826.58,394.66 L827.60,395.92 L828.63,397.16 L829.66,398.37 L830.70,399.55 L831.74,400.72 L832.78,401.85 L833.82,402.97 L834.88,404.06 L835.93,405.13 L836.99,406.17 L838.05,407.19 L839.12,408.19 L840.19,409.17 L841.26,410.12 L842.34,411.06 L843.42,411.97 L844.51,412.86 L845.60,413.73 L846.69,414.58 L847.79,415.41 L848.89,416.22 L850.00,417.01 L851.11,417.78 L852.22,418.54 L853.34,419.27 L854.46,419.99 L855.58,420.69 L856.71,421.37 L857.84,422.03 L858.98,422.68 L860.12,423.31 L861.26,423.93 L862.41,424.52 L863.56,425.11 L864.71,425.68 L865.87,426.23 L867.04,426.77 L868.20,427.29 L869.37,427.80 L870.54,428.30 L871.72,428.78 L872.90,429.25 L874.09,429.71 L875.27,430.15 L876.47,430.58 L877.66,431.00 L878.86,431.41 L880.06,431.81 L881.27,432.19 L882.48,432.57 L883.69,432.93 L884.91,433.29 L886.13,433.63 L887.35,433.96 L888.58,434.29 L889.81,434.60 L891.05,434.91 L892.29,435.20 L893.53,435.49 L894.77,435.77 L896.02,436.04 L897.28,436.30 L898.53,436.56 L899.79,436.80 L901.06,437.04 L902.32,437.28 L903.59,437.50 L904.87,437.72 L906.14,437.93 L907.43,438.14 L908.71,438.34 L910.00,438.53 L911.29,438.72 L912.58,438.90 L913.88,439.07 L915.18,439.24 L916.49,439.41 L917.80,439.57 L919.11,439.72 L920.42,439.87 L921.74,440.02 L923.07,440.16 L924.39,440.29 L925.72,440.42 L927.05,440.55 L928.39,440.67 L929.73,440.79 L931.07,440.91 L932.42,441.02 L933.77,441.13 L935.12,441.23 L936.47,441.33 L937.83,441.43 L939.20,441.52 L940.56,441.61 L941.93,441.70 L943.31,441.78 L944.68,441.86 L946.06,441.94 L947.44,442.02 L948.83,442.09 L950.22,442.16 L951.61,442.23 L953.01,442.29 L954.41,442.35 L955.81,442.41 L957.22,442.47 L958.62,442.52 L960.04,442.58 L961.45,442.63 L962.87,442.65 L964.29,442.65 L965.72,442.65 L967.15,442.65 L968.58,442.65 L970.01,442.65 L971.45,442.65 L972.89,442.65 L974.34,442.65 L975.79,442.65 L977.24,442.65 L978.69,442.65 L980.15,442.65 L981.61,442.65 L983.07,442.65 L984.54,442.65 L986.01,442.65 L987.49,442.65 L988.96,442.65 L990.44,442.65 L991.93,442.65 L993.41,442.65 L994.90,442.65 L996.39,442.65 L997.89,442.65 L999.39,442.65 L1000.89,442.65 L1002.39,442.65 L1003.90,442.65 L1005.41,442.65 L1006.93,442.65 L1008.45,442.65 L1009.97,442.65 L1011.49,442.65 L1013.02,442.65 L1014.55,442.65 L1016.08,442.65 L1017.62,442.65 L1019.16,442.65 L1020.70,442.65 L1022.24,442.65 L1023.79,442.65 L1025.34,442.65 L1026.90,442.65 L1028.46,442.65 L1030.02,442.65 L1031.58,442.65 L1033.15,442.65 L1034.72,442.65 L1036.29,442.65 L1037.87,442.65 L1039.44,442.65 L1041.03,442.65 L1042.61,442.65 L1044.20,442.65 L1045.79,442.65 L1047.38,442.65 L1048.98,442.65 L1050.58,442.65 L1052.18,442.65 L1053.79,442.65 L1055.40,442.65 L1057.01,442.65 L1058.63,442.65 L1060.24,442.65 L1061.87,442.65 L1063.49,442.65 L1065.12,442.65 L1066.75,442.65 L1068.38,442.65 L1070.02,442.65 L1071.65,442.65 L1073.30,442.65 L1074.94,442.65 L1076.59,442.65 L1078.24,442.65 L1079.89,442.65 L1081.55,442.65 L1083.21,442.65 L1084.87,442.65 L1086.54,442.65 L1088.20,442.65 L1089.88,442.65 L1091.55,442.65 L1093.23,442.65 L1094.91,442.65 L1096.59,442.65 L1098.28,442.65 L1099.96,442.65 L1101.66,442.65 L1103.35,442.65 L1105.05,442.65 L1106.75,442.65 L1108.45,442.65 L1110.16,442.65 L1111.86,442.65 L1113.58,442.65 L1115.29,442.65 L1117.01,442.65 L1118.73,442.65 L1120.45,442.65 L1122.18,442.64 L1123.91,442.63 L1125.64,442.61 L1127.37,442.59 L1129.11,442.58 L1130.85,442.56 L1132.59,442.55 L1134.34,442.54 L1136.09,442.52 L1137.84,442.51 L1139.59,442.50 L1141.35,442.49 L1143.11,442.48 L1144.87,442.48 L1146.64,442.47 L1148.41,442.46 L1150.18,442.46 L1151.95,442.45 L1153.73,442.45 L1155.51,442.45 L1157.29,442.45 L1159.08,442.45 L1160.87,442.45 L1162.66,442.46 L1164.45,442.46 L1166.25,442.47 L1168.05,442.48 L1169.85,442.49 L1171.65,442.50 L1173.46,442.51 L1175.27,442.52 L1177.09,442.54 L1178.90,442.56 L1180.72,442.58 L1182.54,442.60 L1184.37,442.62 L1186.19,442.65" stroke="#ff0000" stroke-dasharray="2.99 3.02"/>
<path d="M730.26,90.67 L730.30,90.79 L730.36,91.04 L730.45,91.37 L730.55,91.78 L730.68,92.26 L730.82,92.80 L730.97,93.40 L731.14,94.05 L731.32,94.76 L731.52,95.51 L731.72,96.31 L731.94,97.16 L732.17,98.05 L732.41,98.99 L732.66,99.97 L732.92,100.99 L733.19,102.06 L733.47,103.16 L733.76,104.30 L734.06,105.48 L734.37,106.70 L734.68,107.96 L735.01,109.25 L735.34,110.58 L735.69,111.94 L736.04,113.34 L736.40,114.78 L736.76,116.25 L737.14,117.75 L737.52,119.29 L737.91,120.86 L738.31,122.47 L738.72,124.10 L739.13,125.77 L739.55,127.47 L739.98,129.20 L740.41,130.96 L740.86,132.75 L741.31,134.58 L741.76,136.43 L742.23,138.31 L742.70,140.21 L743.17,142.15 L743.66,144.11 L744.15,146.10 L744.64,148.12 L745.15,150.17 L745.66,152.23 L746.17,154.33 L746.70,156.45 L747.23,158.59 L747.76,160.75 L748.30,162.94 L748.85,165.15 L749.40,167.39 L749.96,169.64 L750.53,171.92 L751.10,174.21 L751.68,176.52 L752.26,178.86 L752.85,181.21 L753.45,183.58 L754.05,185.96 L754.66,188.36 L755.27,190.78 L755.89,193.21 L756.51,195.66 L757.14,198.11 L757.78,200.59 L758.42,203.07 L759.06,205.56 L759.71,208.07 L760.37,210.58 L761.03,213.11 L761.70,215.64 L762.38,218.18 L763.05,220.73 L763.74,223.28 L764.43,225.84 L765.12,228.40 L765.82,230.97 L766.53,233.54 L767.24,236.11 L767.95,238.68 L768.67,241.26 L769.40,243.83 L770.13,246.40 L770.86,248.98 L771.60,251.55 L772.35,254.11 L773.10,256.68 L773.86,259.24 L774.62,261.79 L775.38,264.34 L776.15,266.88 L776.93,269.42 L777.71,271.94 L778.49,274.46 L779.28,276.97 L780.08,279.47 L780.88,281.96 L781.68,284.43 L782.49,286.90 L783.30,289.35 L784.12,291.79 L784.94,294.21 L785.77,296.63 L786.61,299.02 L787.44,301.40 L788.28,303.77 L789.13,306.11 L789.98,308.45 L790.84,310.76 L791.70,313.05 L792.56,315.33 L793.43,317.59 L794.30,319.83 L795.18,322.05 L796.06,324.24 L796.95,326.42 L797.84,328.58 L798.74,330.71 L799.64,332.83 L800.54,334.92 L801.45,336.99 L802.36,339.03 L803.28,341.06 L804.20,343.06 L805.13,345.03 L806.06,346.99 L807.00,348.92 L807.94,350.82 L808.88,352.70 L809.83,354.56 L810.78,356.39 L811.74,358.20 L812.70,359.98 L813.66,361.74 L814.63,363.47 L815.60,365.18 L816.58,366.86 L817.56,368.52 L818.55,370.15 L819.54,371.76 L820.53,373.34 L821.53,374.90 L822.53,376.43 L823.54,377.94 L824.55,379.42 L825.56,380.88 L826.58,382.31 L827.60,383.72 L828.63,385.10 L829.66,386.46 L830.70,387.79 L831.74,389.10 L832.78,390.39 L833.82,391.65 L834.88,392.89 L835.93,394.11 L836.99,395.30 L838.05,396.47 L839.12,397.62 L840.19,398.74 L841.26,399.84 L842.34,400.92 L843.42,401.98 L844.51,403.01 L845.60,404.03 L846.69,405.02 L847.79,405.99 L848.89,406.94 L850.00,407.88 L851.11,408.79 L852.22,409.68 L853.34,410.55 L854.46,411.40 L855.58,412.23 L856.71,413.05 L857.84,413.84 L858.98,414.62 L860.12,415.38 L861.26,416.12 L862.41,416.84 L863.56,417.55 L864.71,418.24 L865.87,418.91 L867.04,419.57 L868.20,420.21 L869.37,420.84 L870.54,421.45 L871.72,422.05 L872.90,422.63 L874.09,423.19 L875.27,423.75 L876.47,424.29 L877.66,424.81 L878.86,425.32 L880.06,425.82 L881.27,426.31 L882.48,426.79 L883.69,427.25 L884.91,427.70 L886.13,428.14 L887.35,428.57 L888.58,428.99 L889.81,429.40 L891.05,429.79 L892.29,430.18 L893.53,430.56 L894.77,430.93 L896.02,431.28 L897.28,431.63 L898.53,431.97 L899.79,432.30 L901.06,432.63 L902.32,432.94 L903.59,433.25 L904.87,433.55 L906.14,433.84 L907.43,434.12 L908.71,434.39 L910.00,434.66 L911.29,434.92 L912.58,435.18 L913.88,435.43 L915.18,435.67 L916.49,435.90 L917.80,436.13 L919.11,436.35 L920.42,436.57 L921.74,436.78 L923.07,436.99 L924.39,437.19 L925.72,437.38 L927.05,437.57 L928.39,437.75 L929.73,437.93 L931.07,438.11 L932.42,438.28 L933.77,438.44 L935.12,438.60 L936.47,438.76 L937.83,438.91 L939.20,439.06 L940.56,439.20 L941.93,439.34 L943.31,439.48 L944.68,439.61 L946.06,439.74 L947.44,439.87 L948.83,439.99 L950.22,440.11 L951.61,440.22 L953.01,440.33 L954.41,440.44 L955.81,440.55 L957.22,440.65 L958.62,440.75 L960.04,440.85 L961.45,440.94 L962.87,441.04 L964.29,441.12 L965.72,441.21 L967.15,441.29 L968.58,441.38 L970.01,441.46 L971.45,441.53 L972.89,441.61 L974.34,441.68 L975.79,441.75 L977.24,441.82 L978.69,441.88 L980.15,441.95 L981.61,442.01 L983.07,442.07 L984.54,442.13 L986.01,442.19 L987.49,442.24 L988.96,442.29 L990.44,442.34 L991.93,442.39 L993.41,442.44 L994.90,442.49 L996.39,442.53 L997.89,442.58 L999.39,442.62 L1000.89,442.65 L1002.39,442.65 L1003.90,442.65 L1005.41,442.65 L1006.93,442.65 L1008.45,442.65 L1009.97,442.65 L1011.49,442.65 L1013.02,442.65 L1014.55,442.65 L1016.08,442.65 L1017.62,442.65 L1019.16,442.65 L1020.70,442.65 L1022.24,442.65 L1023.79,442.65 L1025.34,442.65 L1026.90,442.65 L1028.46,442.65 L1030.02,442.65 L1031.58,442.65 L1033.15,442.65 L1034.72,442.65 L1036.29,442.65 L1037.87,442.65 L1039.44,442.65 L1041.03,442.65 L1042.61,442.65 L1044.20,442.65 L1045.79,442.65 L1047.38,442.65 L1048.98,442.65 L1050.58,442.65 L1052.18,442.65 L1053.79,442.65 L1055.40,442.65 L1057.01,442.65 L1058.63,442.65 L1060.24,442.65 L1061.87,442.65 L1063.49,442.65 L1065.12,442.65 L1066.75,442.65 L1068.38,442.65 L1070.02,442.65 L1071.65,442.65 L1073.30,442.65 L1074.94,442.65 L1076.59,442.65 L1078.24,442.65 L1079.89,442.65 L1081.55,442.65 L1083.21,442.65 L1084.87,442.65 L1086.54,442.65 L1088.20,442.65 L1089.88,442.65 L1091.55,442.65 L1093.23,442.65 L1094.91,442.65 L1096.59,442.65 L1098.28,442.65 L1099.96,442.65 L1101.66,442.65 L1103.35,442.65 L1105.05,442.65 L1106.75,442.65 L1108.45,442.65 L1110.16,442.65 L1111.86,442.65 L1113.58,442.65 L1115.29,442.65 L1117.01,442.65 L1118.73,442.65 L1120.45,442.65 L1122.18,442.65 L1123.91,442.65 L1125.64,442.65 L1127.37,442.65 L1129.11,442.65 L1130.85,442.65 L1132.59,442.65 L1134.34,442.65 L1136.09,442.65 L1137.84,442.65 L1139.59,442.65 L1141.35,442.65 L1143.11,442.65 L1144.87,442.65 L1146.64,442.65 L1148.41,442.65 L1150.18,442.65 L1151.95,442.65 L1153.73,442.65 L1155.51,442.65 L1157.29,442.65 L1159.08,442.65 L1160.87,442.65 L1162.66,442.65 L1164.45,442.65 L1166.25,442.65 L1168.05,442.65 L1169.85,442.65 L1171.65,442.65 L1173.46,442.65 L1175.27,442.65 L1177.09,442.65 L1178.90,442.65 L1180.72,442.65 L1182.54,442.65 L1184.37,442.65 L1186.19,442.64" stroke="#00ff00" stroke-dasharray="11.96 12.19"/>
<path d="M730.26,67.93 L730.30,68.07 L730.36,68.35 L730.45,68.73 L730.55,69.20 L730.68,69.74 L730.82,70.35 L730.97,71.03 L731.14,71.76 L731.32,72.56 L731.52,73.40 L731.72,74.30 L731.94,75.24 L732.17,76.24 L732.41,77.28 L732.66,78.36 L732.92,79.48 L733.19,80.65 L733.47,81.86 L733.76,83.10 L734.06,84.38 L734.37,85.70 L734.68,87.05 L735.01,88.44 L735.34,89.87 L735.69,91.32 L736.04,92.81 L736.40,94.33 L736.76,95.87 L737.14,97.45 L737.52,99.06 L737.91,100.70 L738.31,102.36 L738.72,104.05 L739.13,105.77 L739.55,107.51 L739.98,109.28 L740.41,111.07 L740.86,112.89 L741.31,114.73 L741.76,116.60 L742.23,118.48 L742.70,120.39 L743.17,122.32 L743.66,124.27 L744.15,126.24 L744.64,128.24 L745.15,130.25 L745.66,132.28 L746.17,134.32 L746.70,136.39 L747.23,138.47 L747.76,140.58 L748.30,142.69 L748.85,144.83 L749.40,146.98 L749.96,149.14 L750.53,151.32 L751.10,153.52 L751.68,155.73 L752.26,157.95 L752.85,160.18 L753.45,162.43 L754.05,164.69 L754.66,166.97 L755.27,169.25 L755.89,171.55 L756.51,173.85 L757.14,176.17 L757.78,178.50 L758.42,180.83 L759.06,183.18 L759.71,185.53 L760.37,187.89 L761.03,190.26 L761.70,192.64 L762.38,195.03 L763.05,197.42 L763.74,199.82 L764.43,202.22 L765.12,204.63 L765.82,207.05 L766.53,209.47 L767.24,211.89 L767.95,214.32 L768.67,216.75 L769.40,219.18 L770.13,221.62 L770.86,224.06 L771.60,226.50 L772.35,228.95 L773.10,231.39 L773.86,233.84 L774.62,236.29 L775.38,238.73 L776.15,241.18 L776.93,243.62 L777.71,246.07 L778.49,248.51 L779.28,250.95 L780.08,253.39 L780.88,255.82 L781.68,258.26 L782.49,260.69 L783.30,263.11 L784.12,265.53 L784.94,267.95 L785.77,270.36 L786.61,272.76 L787.44,275.16 L788.28,277.56 L789.13,279.94 L789.98,282.32 L790.84,284.70 L791.70,287.06 L792.56,289.42 L793.43,291.76 L794.30,294.10 L795.18,296.42 L796.06,298.73 L796.95,301.03 L797.84,303.32 L798.74,305.59 L799.64,307.85 L800.54,310.09 L801.45,312.32 L802.36,314.53 L803.28,316.72 L804.20,318.90 L805.13,321.06 L806.06,323.20 L807.00,325.32 L807.94,327.42 L808.88,329.50 L809.83,331.56 L810.78,333.61 L811.74,335.63 L812.70,337.62 L813.66,339.60 L814.63,341.56 L815.60,343.49 L816.58,345.40 L817.56,347.28 L818.55,349.15 L819.54,350.99 L820.53,352.80 L821.53,354.59 L822.53,356.36 L823.54,358.10 L824.55,359.82 L825.56,361.52 L826.58,363.19 L827.60,364.83 L828.63,366.45 L829.66,368.05 L830.70,369.62 L831.74,371.17 L832.78,372.69 L833.82,374.18 L834.88,375.65 L835.93,377.10 L836.99,378.52 L838.05,379.92 L839.12,381.29 L840.19,382.64 L841.26,383.96 L842.34,385.26 L843.42,386.54 L844.51,387.79 L845.60,389.02 L846.69,390.22 L847.79,391.40 L848.89,392.56 L850.00,393.70 L851.11,394.81 L852.22,395.90 L853.34,396.96 L854.46,398.01 L855.58,399.03 L856.71,400.03 L857.84,401.01 L858.98,401.97 L860.12,402.91 L861.26,403.82 L862.41,404.72 L863.56,405.59 L864.71,406.45 L865.87,407.29 L867.04,408.10 L868.20,408.90 L869.37,409.68 L870.54,410.44 L871.72,411.19 L872.90,411.91 L874.09,412.62 L875.27,413.31 L876.47,413.99 L877.66,414.65 L878.86,415.29 L880.06,415.92 L881.27,416.54 L882.48,417.14 L883.69,417.73 L884.91,418.30 L886.13,418.86 L887.35,419.41 L888.58,419.94 L889.81,420.46 L891.05,420.97 L892.29,421.47 L893.53,421.96 L894.77,422.43 L896.02,422.90 L897.28,423.35 L898.53,423.79 L899.79,424.23 L901.06,424.65 L902.32,425.06 L903.59,425.46 L904.87,425.86 L906.14,426.24 L907.43,426.62 L908.71,426.99 L910.00,427.35 L911.29,427.70 L912.58,428.04 L913.88,428.38 L915.18,428.70 L916.49,429.02 L917.80,429.34 L919.11,429.64 L920.42,429.94 L921.74,430.23 L923.07,430.52 L924.39,430.80 L925.72,431.07 L927.05,431.33 L928.39,431.60 L929.73,431.85 L931.07,432.10 L932.42,432.34 L933.77,432.58 L935.12,432.81 L936.47,433.04 L937.83,433.26 L939.20,433.48 L940.56,433.69 L941.93,433.90 L943.31,434.10 L944.68,434.30 L946.06,434.49 L947.44,434.68 L948.83,434.87 L950.22,435.05 L951.61,435.23 L953.01,435.40 L954.41,435.57 L955.81,435.74 L957.22,435.90 L958.62,436.06 L960.04,436.21 L961.45,436.36 L962.87,436.51 L964.29,436.66 L965.72,436.80 L967.15,436.94 L968.58,437.08 L970.01,437.21 L971.45,437.34 L972.89,437.47 L974.34,437.59 L975.79,437.71 L977.24,437.83 L978.69,437.95 L980.15,438.06 L981.61,438.17 L983.07,438.28 L984.54,438.39 L986.01,438.50 L987.49,438.60 L988.96,438.70 L990.44,438.80 L991.93,438.89 L993.41,438.99 L994.90,439.08 L996.39,439.17 L997.89,439.26 L999.39,439.34 L1000.89,439.43 L1002.39,439.51 L1003.90,439.59 L1005.41,439.67 L1006.93,439.74 L1008.45,439.82 L1009.97,439.89 L1011.49,439.97 L1013.02,440.04 L1014.55,440.11 L1016.08,440.17 L1017.62,440.24 L1019.16,440.31 L1020.70,440.37 L1022.24,440.43 L1023.79,440.49 L1025.34,440.55 L1026.90,440.61 L1028.46,440.67 L1030.02,440.72 L1031.58,440.78 L1033.15,440.83 L1034.72,440.88 L1036.29,440.93 L1037.87,440.98 L1039.44,441.03 L1041.03,441.08 L1042.61,441.13 L1044.20,441.17 L1045.79,441.22 L1047.38,441.26 L1048.98,441.30 L1050.58,441.35 L1052.18,441.39 L1053.79,441.43 L1055.40,441.47 L1057.01,441.50 L1058.63,441.54 L1060.24,441.58 L1061.87,441.61 L1063.49,441.65 L1065.12,441.68 L1066.75,441.71 L1068.38,441.75 L1070.02,441.78 L1071.65,441.81 L1073.30,441.84 L1074.94,441.87 L1076.59,441.90 L1078.24,441.93 L1079.89,441.95 L1081.55,441.98 L1083.21,442.01 L1084.87,442.03 L1086.54,442.05 L1088.20,442.08 L1089.88,442.10 L1091.55,442.12 L1093.23,442.15 L1094.91,442.17 L1096.59,442.19 L1098.28,442.21 L1099.96,442.23 L1101.66,442.25 L1103.35,442.27 L1105.05,442.29 L1106.75,442.30 L1108.45,442.32 L1110.16,442.34 L1111.86,442.35 L1113.58,442.37 L1115.29,442.38 L1117.01,442.40 L1118.73,442.41 L1120.45,442.43 L1122.18,442.44 L1123.91,442.45 L1125.64,442.46 L1127.37,442.48 L1129.11,442.49 L1130.85,442.50 L1132.59,442.51 L1134.34,442.52 L1136.09,442.53 L1137.84,442.54 L1139.59,442.55 L1141.35,442.55 L1143.11,442.56 L1144.87,442.57 L1146.64,442.58 L1148.41,442.58 L1150.18,442.59 L1151.95,442.60 L1153.73,442.60 L1155.51,442.61 L1157.29,442.61 L1159.08,442.62 L1160.87,442.62 L1162.66,442.62 L1164.45,442.63 L1166.25,442.63 L1168.05,442.63 L1169.85,442.63 L1171.65,442.64 L1173.46,442.64 L1175.27,442.64 L1177.09,442.64 L1178.90,442.64 L1180.72,442.64 L1182.54,442.64 L1184.37,442.64 L1186.19,442.64" stroke="#0000ff" stroke-dasharray="11.96 2.99 5.98 3.22"/>
<path d="M730.26,43.19 L730.30,43.33 L730.36,43.60 L730.45,43.96 L730.55,44.41 L730.68,44.94 L730.82,45.52 L730.97,46.18 L731.14,46.89 L731.32,47.65 L731.52,48.47 L731.72,49.33 L731.94,50.25 L732.17,51.21 L732.41,52.21 L732.66,53.26 L732.92,54.35 L733.19,55.48 L733.47,56.65 L733.76,57.86 L734.06,59.10 L734.37,60.38 L734.68,61.70 L735.01,63.05 L735.34,64.44 L735.69,65.86 L736.04,67.31 L736.40,68.79 L736.76,70.30 L737.14,71.85 L737.52,73.42 L737.91,75.02 L738.31,76.66 L738.72,78.32 L739.13,80.00 L739.55,81.71 L739.98,83.45 L740.41,85.22 L740.86,87.01 L741.31,88.82 L741.76,90.66 L742.23,92.53 L742.70,94.41 L743.17,96.32 L743.66,98.25 L744.15,100.20 L744.64,102.17 L745.15,104.17 L745.66,106.18 L746.17,108.22 L746.70,110.27 L747.23,112.34 L747.76,114.43 L748.30,116.54 L748.85,118.66 L749.40,120.81 L749.96,122.97 L750.53,125.14 L751.10,127.33 L751.68,129.54 L752.26,131.76 L752.85,134.00 L753.45,136.24 L754.05,138.51 L754.66,140.78 L755.27,143.07 L755.89,145.37 L756.51,147.68 L757.14,150.01 L757.78,152.34 L758.42,154.69 L759.06,157.04 L759.71,159.40 L760.37,161.78 L761.03,164.16 L761.70,166.55 L762.38,168.94 L763.05,171.35 L763.74,173.76 L764.43,176.18 L765.12,178.60 L765.82,181.03 L766.53,183.47 L767.24,185.91 L767.95,188.35 L768.67,190.80 L769.40,193.25 L770.13,195.70 L770.86,198.16 L771.60,200.62 L772.35,203.08 L773.10,205.54 L773.86,208.00 L774.62,210.47 L775.38,212.93 L776.15,215.39 L776.93,217.85 L777.71,220.31 L778.49,222.77 L779.28,225.23 L780.08,227.68 L780.88,230.13 L781.68,232.58 L782.49,235.02 L783.30,237.46 L784.12,239.89 L784.94,242.32 L785.77,244.74 L786.61,247.16 L787.44,249.57 L788.28,251.97 L789.13,254.36 L789.98,256.75 L790.84,259.13 L791.70,261.50 L792.56,263.87 L793.43,266.22 L794.30,268.57 L795.18,270.90 L796.06,273.23 L796.95,275.54 L797.84,277.84 L798.74,280.13 L799.64,282.41 L800.54,284.68 L801.45,286.94 L802.36,289.18 L803.28,291.41 L804.20,293.63 L805.13,295.83 L806.06,298.02 L807.00,300.20 L807.94,302.36 L808.88,304.50 L809.83,306.63 L810.78,308.74 L811.74,310.84 L812.70,312.91 L813.66,314.98 L814.63,317.02 L815.60,319.05 L816.58,321.06 L817.56,323.05 L818.55,325.02 L819.54,326.98 L820.53,328.92 L821.53,330.83 L822.53,332.73 L823.54,334.61 L824.55,336.47 L825.56,338.31 L826.58,340.13 L827.60,341.93 L828.63,343.71 L829.66,345.47 L830.70,347.21 L831.74,348.92 L832.78,350.62 L833.82,352.29 L834.88,353.95 L835.93,355.58 L836.99,357.19 L838.05,358.78 L839.12,360.34 L840.19,361.89 L841.26,363.41 L842.34,364.91 L843.42,366.40 L844.51,367.85 L845.60,369.29 L846.69,370.71 L847.79,372.10 L848.89,373.47 L850.00,374.82 L851.11,376.15 L852.22,377.46 L853.34,378.75 L854.46,380.01 L855.58,381.26 L856.71,382.48 L857.84,383.68 L858.98,384.86 L860.12,386.02 L861.26,387.16 L862.41,388.28 L863.56,389.38 L864.71,390.46 L865.87,391.52 L867.04,392.56 L868.20,393.58 L869.37,394.58 L870.54,395.57 L871.72,396.53 L872.90,397.47 L874.09,398.40 L875.27,399.31 L876.47,400.20 L877.66,401.07 L878.86,401.93 L880.06,402.77 L881.27,403.59 L882.48,404.40 L883.69,405.19 L884.91,405.96 L886.13,406.72 L887.35,407.47 L888.58,408.19 L889.81,408.91 L891.05,409.60 L892.29,410.29 L893.53,410.96 L894.77,411.61 L896.02,412.25 L897.28,412.88 L898.53,413.50 L899.79,414.10 L901.06,414.69 L902.32,415.26 L903.59,415.83 L904.87,416.38 L906.14,416.92 L907.43,417.44 L908.71,417.96 L910.00,418.46 L911.29,418.96 L912.58,419.44 L913.88,419.91 L915.18,420.37 L916.49,420.82 L917.80,421.26 L919.11,421.69 L920.42,422.12 L921.74,422.53 L923.07,422.93 L924.39,423.32 L925.72,423.71 L927.05,424.09 L928.39,424.46 L929.73,424.82 L931.07,425.17 L932.42,425.51 L933.77,425.85 L935.12,426.18 L936.47,426.50 L937.83,426.82 L939.20,427.13 L940.56,427.43 L941.93,427.73 L943.31,428.02 L944.68,428.30 L946.06,428.58 L947.44,428.85 L948.83,429.12 L950.22,429.38 L951.61,429.63 L953.01,429.88 L954.41,430.13 L955.81,430.36 L957.22,430.60 L958.62,430.83 L960.04,431.05 L961.45,431.27 L962.87,431.49 L964.29,431.70 L965.72,431.91 L967.15,432.11 L968.58,432.31 L970.01,432.50 L971.45,432.69 L972.89,432.88 L974.34,433.06 L975.79,433.24 L977.24,433.41 L978.69,433.59 L980.15,433.75 L981.61,433.92 L983.07,434.08 L984.54,434.24 L986.01,434.40 L987.49,434.55 L988.96,434.70 L990.44,434.84 L991.93,434.99 L993.41,435.13 L994.90,435.27 L996.39,435.40 L997.89,435.54 L999.39,435.67 L1000.89,435.80 L1002.39,435.92 L1003.90,436.04 L1005.41,436.17 L1006.93,436.28 L1008.45,436.40 L1009.97,436.52 L1011.49,436.63 L1013.02,436.74 L1014.55,436.85 L1016.08,436.95 L1017.62,437.06 L1019.16,437.16 L1020.70,437.26 L1022.24,437.36 L1023.79,437.46 L1025.34,437.55 L1026.90,437.65 L1028.46,437.74 L1030.02,437.83 L1031.58,437.92 L1033.15,438.01 L1034.72,438.09 L1036.29,438.18 L1037.87,438.26 L1039.44,438.34 L1041.03,438.42 L1042.61,438.50 L1044.20,438.58 L1045.79,438.65 L1047.38,438.73 L1048.98,438.80 L1050.58,438.88 L1052.18,438.95 L1053.79,439.02 L1055.40,439.09 L1057.01,439.16 L1058.63,439.23 L1060.24,439.29 L1061.87,439.36 L1063.49,439.42 L1065.12,439.49 L1066.75,439.55 L1068.38,439.61 L1070.02,439.67 L1071.65,439.73 L1073.30,439.79 L1074.94,439.85 L1076.59,439.91 L1078.24,439.96 L1079.89,440.02 L1081.55,440.08 L1083.21,440.13 L1084.87,440.18 L1086.54,440.24 L1088.20,440.29 L1089.88,440.34 L1091.55,440.39 L1093.23,440.45 L1094.91,440.50 L1096.59,440.55 L1098.28,440.59 L1099.96,440.64 L1101.66,440.69 L1103.35,440.74 L1105.05,440.79 L1106.75,440.83 L1108.45,440.88 L1110.16,440.93 L1111.86,440.97 L1113.58,441.02 L1115.29,441.06 L1117.01,441.10 L1118.73,441.15 L1120.45,441.19 L1122.18,441.23 L1123.91,441.28 L1125.64,441.32 L1127.37,441.36 L1129.11,441.40 L1130.85,441.45 L1132.59,441.49 L1134.34,441.53 L1136.09,441.57 L1137.84,441.61 L1139.59,441.65 L1141.35,441.69 L1143.11,441.73 L1144.87,441.77 L1146.64,441.81 L1148.41,441.85 L1150.18,441.89 L1151.95,441.93 L1153.73,441.97 L1155.51,442.00 L1157.29,442.04 L1159.08,442.08 L1160.87,442.12 L1162.66,442.16 L1164.45,442.20 L1166.25,442.23 L1168.05,442.27 L1169.85,442.31 L1171.65,442.35 L1173.46,442.39 L1175.27,442.42 L1177.09,442.46 L1178.90,442.50 L1180.72,442.54 L1182.54,442.57 L1184.37,442.61 L1186.19,442.65" stroke="#00ffff"/>
</g>
<rect x="710.20" y="55.20" width="126.80" height="134.40" fill="#fff" stroke="#0a0a0a" stroke-width="1.35"/>
<g transform="scale(0.717,1)" fill="none" stroke-width="4.212">
<path d="M1002.23,74.60H1059.47" stroke="#ff0000" stroke-dasharray="2.99 3.02"/>
<path d="M1002.23,106.60H1064.71" stroke="#00ff00" stroke-dasharray="11.96 12.19"/>
<path d="M1002.23,138.50H1064.71" stroke="#0000ff" stroke-dasharray="11.96 2.99 5.98 3.22"/>
<path d="M1002.23,170.50H1064.71" stroke="#00ffff"/>
</g>
<text transform="translate(766.21,84.65) scale(0.7655,1.0000)" font-size="27.25" text-anchor="start" font-family="Liberation Serif" font-weight="bold" font-style="italic"  xml:space="preserve">M</text>
<text transform="translate(788.57,84.65) scale(0.8775,1.0000)" font-size="27.25" text-anchor="start" font-family="Liberation Serif" font-weight="bold" font-style="italic"  xml:space="preserve">=</text>
<text transform="translate(806.68,84.65) scale(0.7524,1.0000)" font-size="27.25" text-anchor="start" font-family="Liberation Serif" font-weight="bold" font-style="italic"  xml:space="preserve">0.1</text>
<text transform="translate(766.21,116.65) scale(0.7655,1.0000)" font-size="27.25" text-anchor="start" font-family="Liberation Serif" font-weight="bold" font-style="italic"  xml:space="preserve">M</text>
<text transform="translate(788.57,116.65) scale(0.8775,1.0000)" font-size="27.25" text-anchor="start" font-family="Liberation Serif" font-weight="bold" font-style="italic"  xml:space="preserve">=</text>
<text transform="translate(806.68,116.65) scale(0.7524,1.0000)" font-size="27.25" text-anchor="start" font-family="Liberation Serif" font-weight="bold" font-style="italic"  xml:space="preserve">0.5</text>
<text transform="translate(766.21,148.65) scale(0.7655,1.0000)" font-size="27.25" text-anchor="start" font-family="Liberation Serif" font-weight="bold" font-style="italic"  xml:space="preserve">M</text>
<text transform="translate(788.57,148.65) scale(0.8775,1.0000)" font-size="27.25" text-anchor="start" font-family="Liberation Serif" font-weight="bold" font-style="italic"  xml:space="preserve">=</text>
<text transform="translate(806.89,148.65) scale(0.7524,1.0000)" font-size="27.25" text-anchor="start" font-family="Liberation Serif" font-weight="bold" font-style="italic"  xml:space="preserve">1.0</text>
<text transform="translate(766.21,180.65) scale(0.7655,1.0000)" font-size="27.25" text-anchor="start" font-family="Liberation Serif" font-weight="bold" font-style="italic"  xml:space="preserve">M</text>
<text transform="translate(788.57,180.65) scale(0.8775,1.0000)" font-size="27.25" text-anchor="start" font-family="Liberation Serif" font-weight="bold" font-style="italic"  xml:space="preserve">=</text>
<text transform="translate(806.89,180.65) scale(0.7524,1.0000)" font-size="27.25" text-anchor="start" font-family="Liberation Serif" font-weight="bold" font-style="italic"  xml:space="preserve">1.5</text>
<g transform="scale(0.717,1)"><path d="M832.78,405.20L869.73,367.15" stroke="#000" stroke-width="2.07" fill="none"/><path d="M882.01,354.50L871.12,377.59L869.73,367.15L859.24,366.06Z" fill="#000"/></g>
<text transform="translate(505.14,453.37) scale(0.7430,1.0000)" font-size="29.60" text-anchor="start" font-family="Liberation Serif" font-weight="bold" font-style="italic"  xml:space="preserve">0</text>
<text transform="translate(477.65,372.34) scale(0.7430,1.0000)" font-size="29.60" text-anchor="start" font-family="Liberation Serif" font-weight="bold" font-style="italic"  xml:space="preserve">0.02</text>
<text transform="translate(477.87,291.31) scale(0.7430,1.0000)" font-size="29.60" text-anchor="start" font-family="Liberation Serif" font-weight="bold" font-style="italic"  xml:space="preserve">0.04</text>
<text transform="translate(477.21,210.28) scale(0.7430,1.0000)" font-size="29.60" text-anchor="start" font-family="Liberation Serif" font-weight="bold" font-style="italic"  xml:space="preserve">0.06</text>
<text transform="translate(477.65,129.25) scale(0.7430,1.0000)" font-size="29.60" text-anchor="start" font-family="Liberation Serif" font-weight="bold" font-style="italic"  xml:space="preserve">0.08</text>
<text transform="translate(488.98,48.37) scale(0.7430,1.0000)" font-size="29.60" text-anchor="start" font-family="Liberation Serif" font-weight="bold" font-style="italic"  xml:space="preserve">0.1</text>
<text transform="translate(517.99,480.50) scale(0.7430,1.0000)" font-size="29.60" text-anchor="start" font-family="Liberation Serif" font-weight="bold" font-style="italic"  xml:space="preserve">0</text>
<text transform="translate(584.36,480.50) scale(0.7430,1.0000)" font-size="29.60" text-anchor="start" font-family="Liberation Serif" font-weight="bold" font-style="italic"  xml:space="preserve">1</text>
<text transform="translate(649.19,480.50) scale(0.7430,1.0000)" font-size="29.60" text-anchor="start" font-family="Liberation Serif" font-weight="bold" font-style="italic"  xml:space="preserve">2</text>
<text transform="translate(714.68,480.50) scale(0.7430,1.0000)" font-size="29.60" text-anchor="start" font-family="Liberation Serif" font-weight="bold" font-style="italic"  xml:space="preserve">3</text>
<text transform="translate(780.06,480.50) scale(0.7430,1.0000)" font-size="29.60" text-anchor="start" font-family="Liberation Serif" font-weight="bold" font-style="italic"  xml:space="preserve">4</text>
<text transform="translate(845.22,480.50) scale(0.7430,1.0000)" font-size="29.60" text-anchor="start" font-family="Liberation Serif" font-weight="bold" font-style="italic"  xml:space="preserve">5</text>
<text transform="translate(686.40,517.86) scale(0.8995,1.0000)" font-size="27.79" text-anchor="start" font-family="Liberation Serif" font-weight="bold" font-style="italic"  xml:space="preserve">η</text>
<text transform="translate(466.50,265.00) scale(0.8095,1.0000) rotate(-90)" font-size="30.00" text-anchor="start" font-family="Liberation Serif" font-weight="bold" font-style="italic"  xml:space="preserve">θ(η)</text>
<text transform="translate(445.22,32.40) scale(1.0000,1.0000)" font-size="42.50" text-anchor="start" font-family="Liberation Sans" font-weight="bold"  xml:space="preserve">B</text>
<path d="M141.15,575.75V952.50M206.15,575.75V952.50M271.15,575.75V952.50M336.15,575.75V952.50M76.15,877.15H401.15M76.15,801.80H401.15M76.15,726.45H401.15M76.15,651.10H401.15" stroke="#d8d8d8" stroke-width="0.9" fill="none"/>
<path d="M141.15,952.50v-4.6M141.15,575.75v4.6M206.15,952.50v-4.6M206.15,575.75v4.6M271.15,952.50v-4.6M271.15,575.75v4.6M336.15,952.50v-4.6M336.15,575.75v4.6M76.15,877.15h4.6M401.15,877.15h-4.6M76.15,801.80h4.6M401.15,801.80h-4.6M76.15,726.45h4.6M401.15,726.45h-4.6M76.15,651.10h4.6M401.15,651.10h-4.6" stroke="#0a0a0a" stroke-width="1.35" fill="none"/>
<rect x="76.15" y="575.75" width="325.00" height="376.75" fill="none" stroke="#0a0a0a" stroke-width="1.35"/>
<g transform="scale(0.819,1)" fill="none" stroke-width="3.942">
<path d="M92.98,575.76 L93.01,575.95 L93.06,576.35 L93.14,576.89 L93.23,577.55 L93.34,578.31 L93.46,579.18 L93.59,580.13 L93.74,581.16 L93.90,582.28 L94.07,583.47 L94.25,584.73 L94.44,586.05 L94.64,587.44 L94.84,588.90 L95.06,590.41 L95.29,591.98 L95.52,593.61 L95.77,595.29 L96.02,597.02 L96.28,598.80 L96.55,600.63 L96.82,602.50 L97.11,604.42 L97.40,606.38 L97.70,608.39 L98.00,610.43 L98.32,612.52 L98.64,614.64 L98.96,616.80 L99.30,619.00 L99.64,621.23 L99.98,623.49 L100.34,625.79 L100.70,628.12 L101.06,630.47 L101.43,632.86 L101.81,635.27 L102.20,637.71 L102.59,640.18 L102.99,642.67 L103.39,645.19 L103.80,647.73 L104.21,650.29 L104.64,652.88 L105.06,655.48 L105.49,658.10 L105.93,660.75 L106.38,663.41 L106.83,666.08 L107.28,668.78 L107.74,671.49 L108.21,674.21 L108.68,676.95 L109.16,679.70 L109.64,682.46 L110.12,685.23 L110.62,688.02 L111.11,690.81 L111.62,693.61 L112.13,696.42 L112.64,699.24 L113.16,702.07 L113.68,704.90 L114.21,707.74 L114.74,710.58 L115.28,713.42 L115.82,716.27 L116.37,719.12 L116.92,721.98 L117.48,724.83 L118.04,727.69 L118.61,730.54 L119.18,733.40 L119.76,736.25 L120.34,739.10 L120.93,741.95 L121.52,744.79 L122.11,747.63 L122.71,750.46 L123.32,753.29 L123.93,756.11 L124.54,758.93 L125.16,761.73 L125.78,764.53 L126.41,767.32 L127.04,770.10 L127.67,772.87 L128.32,775.62 L128.96,778.37 L129.61,781.10 L130.26,783.82 L130.92,786.53 L131.58,789.23 L132.25,791.91 L132.92,794.57 L133.59,797.22 L134.27,799.85 L134.96,802.47 L135.64,805.07 L136.33,807.65 L137.03,810.21 L137.73,812.76 L138.43,815.28 L139.14,817.78 L139.85,820.26 L140.57,822.72 L141.29,825.16 L142.02,827.57 L142.74,829.96 L143.48,832.32 L144.21,834.66 L144.95,836.97 L145.70,839.26 L146.45,841.52 L147.20,843.75 L147.96,845.95 L148.72,848.13 L149.48,850.27 L150.25,852.39 L151.02,854.48 L151.80,856.54 L152.58,858.57 L153.36,860.57 L154.15,862.54 L154.94,864.48 L155.73,866.39 L156.53,868.26 L157.33,870.11 L158.14,871.93 L158.95,873.72 L159.76,875.47 L160.58,877.20 L161.40,878.89 L162.23,880.55 L163.06,882.19 L163.89,883.79 L164.72,885.36 L165.56,886.91 L166.41,888.42 L167.26,889.91 L168.11,891.36 L168.96,892.79 L169.82,894.19 L170.68,895.57 L171.54,896.91 L172.41,898.23 L173.29,899.52 L174.16,900.79 L175.04,902.03 L175.92,903.24 L176.81,904.43 L177.70,905.60 L178.59,906.74 L179.49,907.85 L180.39,908.94 L181.30,910.01 L182.20,911.05 L183.11,912.08 L184.03,913.07 L184.95,914.05 L185.87,915.01 L186.79,915.94 L187.72,916.85 L188.65,917.75 L189.59,918.62 L190.53,919.47 L191.47,920.30 L192.41,921.11 L193.36,921.91 L194.31,922.68 L195.27,923.44 L196.23,924.18 L197.19,924.90 L198.16,925.60 L199.13,926.29 L200.10,926.96 L201.07,927.61 L202.05,928.25 L203.03,928.87 L204.02,929.48 L205.01,930.07 L206.00,930.65 L206.99,931.21 L207.99,931.76 L209.00,932.29 L210.00,932.81 L211.01,933.32 L212.02,933.82 L213.03,934.30 L214.05,934.77 L215.07,935.22 L216.10,935.67 L217.13,936.10 L218.16,936.52 L219.19,936.93 L220.23,937.33 L221.27,937.72 L222.31,938.10 L223.36,938.47 L224.41,938.83 L225.46,939.18 L226.52,939.51 L227.58,939.84 L228.64,940.16 L229.70,940.48 L230.77,940.78 L231.85,941.07 L232.92,941.36 L234.00,941.64 L235.08,941.90 L236.16,942.17 L237.25,942.42 L238.34,942.67 L239.43,942.91 L240.53,943.14 L241.63,943.36 L242.73,943.58 L243.84,943.79 L244.95,944.00 L246.06,944.19 L247.17,944.39 L248.29,944.57 L249.41,944.75 L250.54,944.93 L251.66,945.09 L252.79,945.26 L253.93,945.41 L255.06,945.56 L256.20,945.71 L257.34,945.85 L258.49,945.99 L259.64,946.12 L260.79,946.25 L261.94,946.37 L263.10,946.49 L264.26,946.60 L265.42,946.71 L266.59,946.82 L267.75,946.92 L268.93,947.02 L270.10,947.12 L271.28,947.21 L272.46,947.30 L273.64,947.39 L274.83,947.47 L276.02,947.55 L277.21,947.63 L278.40,947.71 L279.60,947.78 L280.80,947.85 L282.00,947.92 L283.21,947.98 L284.42,948.04 L285.63,948.10 L286.85,948.16 L288.07,948.22 L289.29,948.27 L290.51,948.32 L291.74,948.37 L292.97,948.42 L294.20,948.47 L295.43,948.52 L296.67,948.56 L297.91,948.60 L299.15,948.64 L300.40,948.68 L301.65,948.72 L302.90,948.75 L304.16,948.79 L305.41,948.82 L306.67,948.85 L307.94,948.88 L309.20,948.91 L310.47,948.94 L311.74,948.97 L313.02,949.00 L314.29,949.03 L315.57,949.05 L316.86,949.08 L318.14,949.10 L319.43,949.12 L320.72,949.15 L322.01,949.17 L323.31,949.19 L324.61,949.21 L325.91,949.23 L327.22,949.25 L328.52,949.27 L329.83,949.29 L331.15,949.31 L332.46,949.33 L333.78,949.35 L335.10,949.37 L336.42,949.38 L337.75,949.40 L339.08,949.42 L340.41,949.44 L341.74,949.46 L343.08,949.48 L344.42,949.50 L345.76,949.52 L347.11,949.54 L348.46,949.56 L349.81,949.58 L351.16,949.60 L352.51,949.62 L353.87,949.65 L355.23,949.67 L356.60,949.69 L357.96,949.72 L359.33,949.75 L360.71,949.77 L362.08,949.80 L363.46,949.83 L364.84,949.86 L366.22,949.89 L367.60,949.92 L368.99,949.95 L370.38,949.98 L371.77,950.02 L373.17,950.05 L374.57,950.09 L375.97,950.13 L377.37,950.17 L378.78,950.21 L380.18,950.25 L381.59,950.29 L383.01,950.33 L384.42,950.37 L385.84,950.42 L387.26,950.46 L388.69,950.51 L390.11,950.55 L391.54,950.60 L392.97,950.64 L394.41,950.69 L395.85,950.73 L397.28,950.78 L398.73,950.83 L400.17,950.87 L401.62,950.92 L403.07,950.97 L404.52,951.01 L405.97,951.06 L407.43,951.11 L408.89,951.15 L410.35,951.20 L411.82,951.25 L413.28,951.29 L414.75,951.34 L416.23,951.38 L417.70,951.42 L419.18,951.47 L420.66,951.51 L422.14,951.55 L423.62,951.60 L425.11,951.64 L426.60,951.68 L428.09,951.72 L429.59,951.76 L431.09,951.80 L432.59,951.84 L434.09,951.87 L435.59,951.91 L437.10,951.95 L438.61,951.98 L440.12,952.02 L441.64,952.05 L443.15,952.08 L444.67,952.11 L446.20,952.14 L447.72,952.17 L449.25,952.20 L450.78,952.23 L452.31,952.25 L453.84,952.28 L455.38,952.30 L456.92,952.33 L458.46,952.35 L460.01,952.37 L461.55,952.39 L463.10,952.41 L464.65,952.42 L466.21,952.44 L467.76,952.45 L469.32,952.47 L470.88,952.48 L472.45,952.49 L474.01,952.50 L475.58,952.50 L477.15,952.50 L478.72,952.50 L480.30,952.50 L481.88,952.50 L483.46,952.50 L485.04,952.50 L486.63,952.50 L488.21,952.50 L489.80,952.50" stroke="#ff0000" stroke-dasharray="2.78 2.81"/>
<path d="M92.98,575.78 L93.01,575.95 L93.06,576.29 L93.14,576.76 L93.23,577.33 L93.34,577.99 L93.46,578.74 L93.59,579.57 L93.74,580.47 L93.90,581.44 L94.07,582.47 L94.25,583.57 L94.44,584.73 L94.64,585.94 L94.84,587.22 L95.06,588.54 L95.29,589.92 L95.52,591.34 L95.77,592.82 L96.02,594.34 L96.28,595.91 L96.55,597.52 L96.82,599.18 L97.11,600.88 L97.40,602.62 L97.70,604.40 L98.00,606.22 L98.32,608.07 L98.64,609.97 L98.96,611.89 L99.30,613.86 L99.64,615.86 L99.98,617.89 L100.34,619.95 L100.70,622.05 L101.06,624.17 L101.43,626.33 L101.81,628.51 L102.20,630.73 L102.59,632.97 L102.99,635.24 L103.39,637.53 L103.80,639.85 L104.21,642.19 L104.64,644.56 L105.06,646.94 L105.49,649.36 L105.93,651.79 L106.38,654.24 L106.83,656.71 L107.28,659.21 L107.74,661.72 L108.21,664.25 L108.68,666.79 L109.16,669.35 L109.64,671.93 L110.12,674.52 L110.62,677.13 L111.11,679.75 L111.62,682.38 L112.13,685.03 L112.64,687.69 L113.16,690.35 L113.68,693.03 L114.21,695.72 L114.74,698.41 L115.28,701.12 L115.82,703.83 L116.37,706.54 L116.92,709.27 L117.48,712.00 L118.04,714.73 L118.61,717.47 L119.18,720.21 L119.76,722.95 L120.34,725.70 L120.93,728.44 L121.52,731.19 L122.11,733.94 L122.71,736.68 L123.32,739.42 L123.93,742.17 L124.54,744.90 L125.16,747.64 L125.78,750.36 L126.41,753.08 L127.04,755.80 L127.67,758.51 L128.32,761.21 L128.96,763.90 L129.61,766.58 L130.26,769.25 L130.92,771.91 L131.58,774.56 L132.25,777.20 L132.92,779.83 L133.59,782.44 L134.27,785.03 L134.96,787.62 L135.64,790.18 L136.33,792.74 L137.03,795.27 L137.73,797.79 L138.43,800.29 L139.14,802.77 L139.85,805.24 L140.57,807.68 L141.29,810.11 L142.02,812.51 L142.74,814.90 L143.48,817.26 L144.21,819.61 L144.95,821.93 L145.70,824.23 L146.45,826.51 L147.20,828.76 L147.96,830.99 L148.72,833.20 L149.48,835.39 L150.25,837.55 L151.02,839.69 L151.80,841.80 L152.58,843.89 L153.36,845.95 L154.15,847.99 L154.94,850.00 L155.73,851.99 L156.53,853.95 L157.33,855.89 L158.14,857.80 L158.95,859.68 L159.76,861.54 L160.58,863.38 L161.40,865.18 L162.23,866.97 L163.06,868.72 L163.89,870.45 L164.72,872.15 L165.56,873.83 L166.41,875.48 L167.26,877.11 L168.11,878.71 L168.96,880.28 L169.82,881.83 L170.68,883.35 L171.54,884.85 L172.41,886.32 L173.29,887.77 L174.16,889.19 L175.04,890.59 L175.92,891.96 L176.81,893.30 L177.70,894.63 L178.59,895.93 L179.49,897.20 L180.39,898.45 L181.30,899.68 L182.20,900.89 L183.11,902.07 L184.03,903.23 L184.95,904.36 L185.87,905.48 L186.79,906.57 L187.72,907.64 L188.65,908.68 L189.59,909.71 L190.53,910.72 L191.47,911.70 L192.41,912.66 L193.36,913.61 L194.31,914.53 L195.27,915.44 L196.23,916.32 L197.19,917.19 L198.16,918.03 L199.13,918.86 L200.10,919.67 L201.07,920.46 L202.05,921.24 L203.03,921.99 L204.02,922.73 L205.01,923.45 L206.00,924.16 L206.99,924.85 L207.99,925.52 L209.00,926.18 L210.00,926.82 L211.01,927.44 L212.02,928.05 L213.03,928.65 L214.05,929.23 L215.07,929.80 L216.10,930.35 L217.13,930.89 L218.16,931.42 L219.19,931.93 L220.23,932.43 L221.27,932.92 L222.31,933.40 L223.36,933.86 L224.41,934.31 L225.46,934.75 L226.52,935.18 L227.58,935.59 L228.64,936.00 L229.70,936.39 L230.77,936.78 L231.85,937.15 L232.92,937.52 L234.00,937.87 L235.08,938.21 L236.16,938.55 L237.25,938.87 L238.34,939.19 L239.43,939.49 L240.53,939.79 L241.63,940.08 L242.73,940.36 L243.84,940.63 L244.95,940.90 L246.06,941.16 L247.17,941.40 L248.29,941.64 L249.41,941.88 L250.54,942.10 L251.66,942.32 L252.79,942.53 L253.93,942.74 L255.06,942.94 L256.20,943.13 L257.34,943.31 L258.49,943.49 L259.64,943.67 L260.79,943.83 L261.94,944.00 L263.10,944.15 L264.26,944.31 L265.42,944.45 L266.59,944.60 L267.75,944.73 L268.93,944.87 L270.10,945.00 L271.28,945.12 L272.46,945.24 L273.64,945.36 L274.83,945.47 L276.02,945.58 L277.21,945.69 L278.40,945.79 L279.60,945.89 L280.80,945.99 L282.00,946.08 L283.21,946.17 L284.42,946.26 L285.63,946.35 L286.85,946.43 L288.07,946.51 L289.29,946.59 L290.51,946.66 L291.74,946.73 L292.97,946.80 L294.20,946.87 L295.43,946.94 L296.67,947.00 L297.91,947.06 L299.15,947.12 L300.40,947.18 L301.65,947.24 L302.90,947.29 L304.16,947.34 L305.41,947.40 L306.67,947.45 L307.94,947.49 L309.20,947.54 L310.47,947.59 L311.74,947.63 L313.02,947.67 L314.29,947.72 L315.57,947.76 L316.86,947.80 L318.14,947.84 L319.43,947.88 L320.72,947.91 L322.01,947.95 L323.31,947.99 L324.61,948.02 L325.91,948.06 L327.22,948.09 L328.52,948.12 L329.83,948.16 L331.15,948.19 L332.46,948.22 L333.78,948.26 L335.10,948.29 L336.42,948.32 L337.75,948.35 L339.08,948.38 L340.41,948.41 L341.74,948.45 L343.08,948.48 L344.42,948.51 L345.76,948.54 L347.11,948.57 L348.46,948.61 L349.81,948.64 L351.16,948.67 L352.51,948.71 L353.87,948.74 L355.23,948.78 L356.60,948.81 L357.96,948.85 L359.33,948.88 L360.71,948.92 L362.08,948.96 L363.46,949.00 L364.84,949.04 L366.22,949.08 L367.60,949.12 L368.99,949.16 L370.38,949.21 L371.77,949.25 L373.17,949.30 L374.57,949.34 L375.97,949.39 L377.37,949.44 L378.78,949.49 L380.18,949.54 L381.59,949.59 L383.01,949.64 L384.42,949.69 L385.84,949.75 L387.26,949.80 L388.69,949.85 L390.11,949.91 L391.54,949.96 L392.97,950.01 L394.41,950.07 L395.85,950.12 L397.28,950.18 L398.73,950.23 L400.17,950.29 L401.62,950.34 L403.07,950.40 L404.52,950.46 L405.97,950.51 L407.43,950.56 L408.89,950.62 L410.35,950.67 L411.82,950.73 L413.28,950.78 L414.75,950.83 L416.23,950.89 L417.70,950.94 L419.18,950.99 L420.66,951.04 L422.14,951.10 L423.62,951.15 L425.11,951.20 L426.60,951.25 L428.09,951.29 L429.59,951.34 L431.09,951.39 L432.59,951.44 L434.09,951.48 L435.59,951.53 L437.10,951.57 L438.61,951.62 L440.12,951.66 L441.64,951.70 L443.15,951.74 L444.67,951.78 L446.20,951.82 L447.72,951.86 L449.25,951.90 L450.78,951.94 L452.31,951.97 L453.84,952.01 L455.38,952.04 L456.92,952.07 L458.46,952.10 L460.01,952.13 L461.55,952.16 L463.10,952.19 L464.65,952.22 L466.21,952.25 L467.76,952.27 L469.32,952.30 L470.88,952.32 L472.45,952.34 L474.01,952.36 L475.58,952.38 L477.15,952.40 L478.72,952.42 L480.30,952.43 L481.88,952.45 L483.46,952.46 L485.04,952.47 L486.63,952.48 L488.21,952.49 L489.80,952.50" stroke="#00ff00" stroke-dasharray="11.13 11.34"/>
<path d="M92.98,575.74 L93.01,575.90 L93.06,576.23 L93.14,576.67 L93.23,577.22 L93.34,577.86 L93.46,578.57 L93.59,579.36 L93.74,580.22 L93.90,581.15 L94.07,582.14 L94.25,583.19 L94.44,584.29 L94.64,585.45 L94.84,586.67 L95.06,587.93 L95.29,589.24 L95.52,590.61 L95.77,592.01 L96.02,593.47 L96.28,594.96 L96.55,596.50 L96.82,598.08 L97.11,599.70 L97.40,601.35 L97.70,603.05 L98.00,604.78 L98.32,606.54 L98.64,608.34 L98.96,610.18 L99.30,612.04 L99.64,613.94 L99.98,615.87 L100.34,617.83 L100.70,619.82 L101.06,621.83 L101.43,623.88 L101.81,625.95 L102.20,628.04 L102.59,630.17 L102.99,632.31 L103.39,634.48 L103.80,636.67 L104.21,638.89 L104.64,641.12 L105.06,643.38 L105.49,645.65 L105.93,647.95 L106.38,650.26 L106.83,652.59 L107.28,654.94 L107.74,657.31 L108.21,659.69 L108.68,662.08 L109.16,664.49 L109.64,666.91 L110.12,669.35 L110.62,671.80 L111.11,674.26 L111.62,676.73 L112.13,679.21 L112.64,681.70 L113.16,684.20 L113.68,686.70 L114.21,689.22 L114.74,691.74 L115.28,694.27 L115.82,696.80 L116.37,699.34 L116.92,701.88 L117.48,704.43 L118.04,706.98 L118.61,709.53 L119.18,712.08 L119.76,714.64 L120.34,717.19 L120.93,719.75 L121.52,722.31 L122.11,724.86 L122.71,727.41 L123.32,729.97 L123.93,732.51 L124.54,735.06 L125.16,737.60 L125.78,740.14 L126.41,742.67 L127.04,745.20 L127.67,747.72 L128.32,750.24 L128.96,752.74 L129.61,755.24 L130.26,757.74 L130.92,760.22 L131.58,762.70 L132.25,765.17 L132.92,767.62 L133.59,770.07 L134.27,772.51 L134.96,774.93 L135.64,777.34 L136.33,779.75 L137.03,782.14 L137.73,784.51 L138.43,786.88 L139.14,789.23 L139.85,791.56 L140.57,793.89 L141.29,796.20 L142.02,798.49 L142.74,800.77 L143.48,803.03 L144.21,805.28 L144.95,807.51 L145.70,809.72 L146.45,811.92 L147.20,814.10 L147.96,816.27 L148.72,818.42 L149.48,820.54 L150.25,822.66 L151.02,824.75 L151.80,826.82 L152.58,828.88 L153.36,830.92 L154.15,832.94 L154.94,834.93 L155.73,836.91 L156.53,838.88 L157.33,840.82 L158.14,842.74 L158.95,844.64 L159.76,846.52 L160.58,848.38 L161.40,850.22 L162.23,852.05 L163.06,853.85 L163.89,855.63 L164.72,857.39 L165.56,859.13 L166.41,860.84 L167.26,862.54 L168.11,864.22 L168.96,865.88 L169.82,867.51 L170.68,869.13 L171.54,870.72 L172.41,872.30 L173.29,873.85 L174.16,875.38 L175.04,876.89 L175.92,878.38 L176.81,879.85 L177.70,881.30 L178.59,882.73 L179.49,884.14 L180.39,885.52 L181.30,886.89 L182.20,888.23 L183.11,889.55 L184.03,890.85 L184.95,892.13 L185.87,893.39 L186.79,894.63 L187.72,895.85 L188.65,897.05 L189.59,898.22 L190.53,899.38 L191.47,900.51 L192.41,901.63 L193.36,902.72 L194.31,903.80 L195.27,904.85 L196.23,905.89 L197.19,906.91 L198.16,907.90 L199.13,908.88 L200.10,909.84 L201.07,910.78 L202.05,911.70 L203.03,912.60 L204.02,913.49 L205.01,914.36 L206.00,915.20 L206.99,916.04 L207.99,916.85 L209.00,917.65 L210.00,918.43 L211.01,919.19 L212.02,919.94 L213.03,920.67 L214.05,921.38 L215.07,922.08 L216.10,922.76 L217.13,923.43 L218.16,924.08 L219.19,924.71 L220.23,925.34 L221.27,925.94 L222.31,926.54 L223.36,927.12 L224.41,927.68 L225.46,928.23 L226.52,928.77 L227.58,929.30 L228.64,929.81 L229.70,930.31 L230.77,930.79 L231.85,931.27 L232.92,931.73 L234.00,932.18 L235.08,932.62 L236.16,933.05 L237.25,933.46 L238.34,933.87 L239.43,934.26 L240.53,934.64 L241.63,935.01 L242.73,935.38 L243.84,935.73 L244.95,936.07 L246.06,936.40 L247.17,936.72 L248.29,937.04 L249.41,937.34 L250.54,937.63 L251.66,937.92 L252.79,938.19 L253.93,938.46 L255.06,938.72 L256.20,938.97 L257.34,939.22 L258.49,939.45 L259.64,939.68 L260.79,939.90 L261.94,940.12 L263.10,940.32 L264.26,940.53 L265.42,940.72 L266.59,940.91 L267.75,941.10 L268.93,941.28 L270.10,941.45 L271.28,941.62 L272.46,941.78 L273.64,941.94 L274.83,942.09 L276.02,942.24 L277.21,942.39 L278.40,942.53 L279.60,942.66 L280.80,942.80 L282.00,942.92 L283.21,943.05 L284.42,943.17 L285.63,943.29 L286.85,943.40 L288.07,943.52 L289.29,943.62 L290.51,943.73 L291.74,943.83 L292.97,943.93 L294.20,944.03 L295.43,944.12 L296.67,944.22 L297.91,944.31 L299.15,944.39 L300.40,944.48 L301.65,944.56 L302.90,944.64 L304.16,944.72 L305.41,944.80 L306.67,944.88 L307.94,944.95 L309.20,945.03 L310.47,945.10 L311.74,945.17 L313.02,945.23 L314.29,945.30 L315.57,945.37 L316.86,945.43 L318.14,945.50 L319.43,945.56 L320.72,945.62 L322.01,945.68 L323.31,945.74 L324.61,945.80 L325.91,945.86 L327.22,945.92 L328.52,945.98 L329.83,946.04 L331.15,946.10 L332.46,946.15 L333.78,946.21 L335.10,946.27 L336.42,946.33 L337.75,946.38 L339.08,946.44 L340.41,946.50 L341.74,946.55 L343.08,946.61 L344.42,946.67 L345.76,946.73 L347.11,946.79 L348.46,946.85 L349.81,946.91 L351.16,946.97 L352.51,947.03 L353.87,947.09 L355.23,947.15 L356.60,947.22 L357.96,947.28 L359.33,947.34 L360.71,947.41 L362.08,947.48 L363.46,947.55 L364.84,947.61 L366.22,947.68 L367.60,947.76 L368.99,947.83 L370.38,947.90 L371.77,947.98 L373.17,948.05 L374.57,948.13 L375.97,948.21 L377.37,948.29 L378.78,948.37 L380.18,948.45 L381.59,948.53 L383.01,948.61 L384.42,948.69 L385.84,948.78 L387.26,948.86 L388.69,948.94 L390.11,949.03 L391.54,949.11 L392.97,949.19 L394.41,949.28 L395.85,949.36 L397.28,949.44 L398.73,949.52 L400.17,949.61 L401.62,949.69 L403.07,949.77 L404.52,949.85 L405.97,949.93 L407.43,950.01 L408.89,950.09 L410.35,950.17 L411.82,950.24 L413.28,950.32 L414.75,950.39 L416.23,950.47 L417.70,950.54 L419.18,950.62 L420.66,950.69 L422.14,950.76 L423.62,950.83 L425.11,950.90 L426.60,950.96 L428.09,951.03 L429.59,951.09 L431.09,951.16 L432.59,951.22 L434.09,951.28 L435.59,951.34 L437.10,951.40 L438.61,951.45 L440.12,951.51 L441.64,951.56 L443.15,951.62 L444.67,951.67 L446.20,951.72 L447.72,951.77 L449.25,951.82 L450.78,951.86 L452.31,951.91 L453.84,951.95 L455.38,951.99 L456.92,952.03 L458.46,952.07 L460.01,952.11 L461.55,952.14 L463.10,952.17 L464.65,952.21 L466.21,952.24 L467.76,952.27 L469.32,952.29 L470.88,952.32 L472.45,952.34 L474.01,952.37 L475.58,952.39 L477.15,952.41 L478.72,952.42 L480.30,952.44 L481.88,952.45 L483.46,952.47 L485.04,952.48 L486.63,952.48 L488.21,952.49 L489.80,952.50" stroke="#0000ff" stroke-dasharray="11.13 2.78 5.56 3.00"/>
<path d="M92.98,575.72 L93.01,575.86 L93.06,576.15 L93.14,576.55 L93.23,577.03 L93.34,577.60 L93.46,578.23 L93.59,578.93 L93.74,579.70 L93.90,580.52 L94.07,581.40 L94.25,582.34 L94.44,583.33 L94.64,584.36 L94.84,585.45 L95.06,586.58 L95.29,587.76 L95.52,588.98 L95.77,590.25 L96.02,591.56 L96.28,592.91 L96.55,594.29 L96.82,595.72 L97.11,597.19 L97.40,598.69 L97.70,600.23 L98.00,601.80 L98.32,603.41 L98.64,605.05 L98.96,606.73 L99.30,608.43 L99.64,610.17 L99.98,611.94 L100.34,613.74 L100.70,615.57 L101.06,617.43 L101.43,619.31 L101.81,621.22 L102.20,623.16 L102.59,625.13 L102.99,627.11 L103.39,629.13 L103.80,631.16 L104.21,633.22 L104.64,635.30 L105.06,637.41 L105.49,639.53 L105.93,641.67 L106.38,643.83 L106.83,646.02 L107.28,648.21 L107.74,650.43 L108.21,652.66 L108.68,654.91 L109.16,657.17 L109.64,659.44 L110.12,661.73 L110.62,664.04 L111.11,666.35 L111.62,668.67 L112.13,671.01 L112.64,673.35 L113.16,675.71 L113.68,678.07 L114.21,680.44 L114.74,682.81 L115.28,685.19 L115.82,687.58 L116.37,689.97 L116.92,692.36 L117.48,694.76 L118.04,697.16 L118.61,699.56 L119.18,701.96 L119.76,704.36 L120.34,706.76 L120.93,709.16 L121.52,711.56 L122.11,713.96 L122.71,716.35 L123.32,718.73 L123.93,721.12 L124.54,723.49 L125.16,725.86 L125.78,728.23 L126.41,730.58 L127.04,732.93 L127.67,735.27 L128.32,737.61 L128.96,739.94 L129.61,742.25 L130.26,744.57 L130.92,746.87 L131.58,749.16 L132.25,751.45 L132.92,753.72 L133.59,755.99 L134.27,758.25 L134.96,760.50 L135.64,762.74 L136.33,764.98 L137.03,767.20 L137.73,769.41 L138.43,771.61 L139.14,773.81 L139.85,775.99 L140.57,778.17 L141.29,780.33 L142.02,782.48 L142.74,784.63 L143.48,786.76 L144.21,788.89 L144.95,791.00 L145.70,793.10 L146.45,795.19 L147.20,797.28 L147.96,799.35 L148.72,801.41 L149.48,803.46 L150.25,805.49 L151.02,807.52 L151.80,809.54 L152.58,811.55 L153.36,813.54 L154.15,815.53 L154.94,817.50 L155.73,819.46 L156.53,821.41 L157.33,823.35 L158.14,825.28 L158.95,827.19 L159.76,829.10 L160.58,830.99 L161.40,832.87 L162.23,834.74 L163.06,836.60 L163.89,838.44 L164.72,840.28 L165.56,842.10 L166.41,843.91 L167.26,845.71 L168.11,847.49 L168.96,849.27 L169.82,851.03 L170.68,852.78 L171.54,854.51 L172.41,856.24 L173.29,857.95 L174.16,859.64 L175.04,861.33 L175.92,862.99 L176.81,864.65 L177.70,866.28 L178.59,867.91 L179.49,869.51 L180.39,871.09 L181.30,872.66 L182.20,874.21 L183.11,875.74 L184.03,877.25 L184.95,878.75 L185.87,880.22 L186.79,881.67 L187.72,883.10 L188.65,884.51 L189.59,885.90 L190.53,887.27 L191.47,888.61 L192.41,889.94 L193.36,891.24 L194.31,892.52 L195.27,893.78 L196.23,895.02 L197.19,896.23 L198.16,897.42 L199.13,898.59 L200.10,899.74 L201.07,900.87 L202.05,901.97 L203.03,903.05 L204.02,904.11 L205.01,905.15 L206.00,906.16 L206.99,907.16 L207.99,908.13 L209.00,909.08 L210.00,910.01 L211.01,910.92 L212.02,911.81 L213.03,912.67 L214.05,913.52 L215.07,914.34 L216.10,915.15 L217.13,915.94 L218.16,916.70 L219.19,917.45 L220.23,918.19 L221.27,918.90 L222.31,919.60 L223.36,920.28 L224.41,920.95 L225.46,921.60 L226.52,922.23 L227.58,922.85 L228.64,923.46 L229.70,924.05 L230.77,924.62 L231.85,925.18 L232.92,925.73 L234.00,926.27 L235.08,926.79 L236.16,927.30 L237.25,927.80 L238.34,928.29 L239.43,928.76 L240.53,929.22 L241.63,929.67 L242.73,930.12 L243.84,930.55 L244.95,930.97 L246.06,931.38 L247.17,931.78 L248.29,932.17 L249.41,932.55 L250.54,932.92 L251.66,933.28 L252.79,933.63 L253.93,933.98 L255.06,934.32 L256.20,934.64 L257.34,934.97 L258.49,935.28 L259.64,935.58 L260.79,935.88 L261.94,936.17 L263.10,936.46 L264.26,936.73 L265.42,937.00 L266.59,937.27 L267.75,937.53 L268.93,937.78 L270.10,938.02 L271.28,938.26 L272.46,938.50 L273.64,938.73 L274.83,938.95 L276.02,939.17 L277.21,939.39 L278.40,939.59 L279.60,939.80 L280.80,940.00 L282.00,940.19 L283.21,940.38 L284.42,940.57 L285.63,940.75 L286.85,940.93 L288.07,941.10 L289.29,941.27 L290.51,941.44 L291.74,941.60 L292.97,941.76 L294.20,941.92 L295.43,942.07 L296.67,942.22 L297.91,942.37 L299.15,942.51 L300.40,942.65 L301.65,942.79 L302.90,942.92 L304.16,943.05 L305.41,943.18 L306.67,943.31 L307.94,943.43 L309.20,943.55 L310.47,943.67 L311.74,943.78 L313.02,943.90 L314.29,944.01 L315.57,944.12 L316.86,944.23 L318.14,944.33 L319.43,944.43 L320.72,944.54 L322.01,944.63 L323.31,944.73 L324.61,944.83 L325.91,944.92 L327.22,945.01 L328.52,945.10 L329.83,945.19 L331.15,945.28 L332.46,945.37 L333.78,945.45 L335.10,945.53 L336.42,945.61 L337.75,945.70 L339.08,945.77 L340.41,945.85 L341.74,945.93 L343.08,946.00 L344.42,946.08 L345.76,946.15 L347.11,946.22 L348.46,946.30 L349.81,946.37 L351.16,946.44 L352.51,946.51 L353.87,946.57 L355.23,946.64 L356.60,946.71 L357.96,946.77 L359.33,946.84 L360.71,946.90 L362.08,946.97 L363.46,947.03 L364.84,947.09 L366.22,947.15 L367.60,947.21 L368.99,947.28 L370.38,947.34 L371.77,947.40 L373.17,947.46 L374.57,947.52 L375.97,947.57 L377.37,947.63 L378.78,947.69 L380.18,947.75 L381.59,947.81 L383.01,947.87 L384.42,947.92 L385.84,947.98 L387.26,948.04 L388.69,948.10 L390.11,948.16 L391.54,948.21 L392.97,948.27 L394.41,948.33 L395.85,948.39 L397.28,948.44 L398.73,948.50 L400.17,948.56 L401.62,948.62 L403.07,948.68 L404.52,948.73 L405.97,948.79 L407.43,948.85 L408.89,948.91 L410.35,948.97 L411.82,949.03 L413.28,949.09 L414.75,949.15 L416.23,949.21 L417.70,949.27 L419.18,949.33 L420.66,949.39 L422.14,949.45 L423.62,949.51 L425.11,949.58 L426.60,949.64 L428.09,949.70 L429.59,949.77 L431.09,949.83 L432.59,949.89 L434.09,949.96 L435.59,950.02 L437.10,950.09 L438.61,950.15 L440.12,950.22 L441.64,950.29 L443.15,950.36 L444.67,950.42 L446.20,950.49 L447.72,950.56 L449.25,950.63 L450.78,950.70 L452.31,950.77 L453.84,950.84 L455.38,950.91 L456.92,950.98 L458.46,951.05 L460.01,951.12 L461.55,951.19 L463.10,951.26 L464.65,951.34 L466.21,951.41 L467.76,951.48 L469.32,951.56 L470.88,951.63 L472.45,951.70 L474.01,951.78 L475.58,951.85 L477.15,951.92 L478.72,952.00 L480.30,952.07 L481.88,952.15 L483.46,952.22 L485.04,952.30 L486.63,952.37 L488.21,952.44 L489.80,952.50" stroke="#00ffff"/>
</g>
<rect x="252.10" y="591.50" width="135.00" height="118.30" fill="#fff" stroke="#0a0a0a" stroke-width="1.35"/>
<g transform="scale(0.819,1)" fill="none" stroke-width="3.942">
<path d="M318.93,608.50H372.18" stroke="#ff0000" stroke-dasharray="2.78 2.81"/>
<path d="M318.93,636.50H377.41" stroke="#00ff00" stroke-dasharray="11.13 11.34"/>
<path d="M318.93,664.60H377.41" stroke="#0000ff" stroke-dasharray="11.13 2.78 5.56 3.00"/>
<path d="M318.93,692.70H377.41" stroke="#00ffff"/>
</g>
<text transform="translate(311.92,617.35) scale(0.9243,1.0000)" font-size="23.50" text-anchor="start" font-family="Liberation Serif" font-weight="bold" font-style="italic"  xml:space="preserve">M</text>
<text transform="translate(335.47,617.35) scale(1.0823,1.0000)" font-size="23.50" text-anchor="start" font-family="Liberation Serif" font-weight="bold" font-style="italic"  xml:space="preserve">=</text>
<text transform="translate(354.96,617.35) scale(0.9047,1.0000)" font-size="23.50" text-anchor="start" font-family="Liberation Serif" font-weight="bold" font-style="italic"  xml:space="preserve">0.1</text>
<text transform="translate(311.92,645.35) scale(0.9243,1.0000)" font-size="23.50" text-anchor="start" font-family="Liberation Serif" font-weight="bold" font-style="italic"  xml:space="preserve">M</text>
<text transform="translate(335.47,645.35) scale(1.0823,1.0000)" font-size="23.50" text-anchor="start" font-family="Liberation Serif" font-weight="bold" font-style="italic"  xml:space="preserve">=</text>
<text transform="translate(354.96,645.35) scale(0.9047,1.0000)" font-size="23.50" text-anchor="start" font-family="Liberation Serif" font-weight="bold" font-style="italic"  xml:space="preserve">0.5</text>
<text transform="translate(311.92,673.35) scale(0.9243,1.0000)" font-size="23.50" text-anchor="start" font-family="Liberation Serif" font-weight="bold" font-style="italic"  xml:space="preserve">M</text>
<text transform="translate(335.47,673.35) scale(1.0823,1.0000)" font-size="23.50" text-anchor="start" font-family="Liberation Serif" font-weight="bold" font-style="italic"  xml:space="preserve">=</text>
<text transform="translate(355.17,673.35) scale(0.9047,1.0000)" font-size="23.50" text-anchor="start" font-family="Liberation Serif" font-weight="bold" font-style="italic"  xml:space="preserve">1.0</text>
<text transform="translate(311.92,701.35) scale(0.9243,1.0000)" font-size="23.50" text-anchor="start" font-family="Liberation Serif" font-weight="bold" font-style="italic"  xml:space="preserve">M</text>
<text transform="translate(335.47,701.35) scale(1.0823,1.0000)" font-size="23.50" text-anchor="start" font-family="Liberation Serif" font-weight="bold" font-style="italic"  xml:space="preserve">=</text>
<text transform="translate(355.17,701.35) scale(0.9047,1.0000)" font-size="23.50" text-anchor="start" font-family="Liberation Serif" font-weight="bold" font-style="italic"  xml:space="preserve">1.5</text>
<g transform="scale(0.819,1)"><path d="M184.86,920.20L207.29,894.46" stroke="#000" stroke-width="1.93" fill="none"/><path d="M218.07,882.10L209.11,904.10L207.29,894.46L197.50,893.98Z" fill="#000"/></g>
<text transform="translate(56.05,961.47) scale(0.8850,1.0000)" font-size="26.25" text-anchor="start" font-family="Liberation Serif" font-weight="bold" font-style="italic"  xml:space="preserve">0</text>
<text transform="translate(38.63,886.12) scale(0.8850,1.0000)" font-size="26.25" text-anchor="start" font-family="Liberation Serif" font-weight="bold" font-style="italic"  xml:space="preserve">0.2</text>
<text transform="translate(38.86,810.77) scale(0.8850,1.0000)" font-size="26.25" text-anchor="start" font-family="Liberation Serif" font-weight="bold" font-style="italic"  xml:space="preserve">0.4</text>
<text transform="translate(38.16,735.42) scale(0.8850,1.0000)" font-size="26.25" text-anchor="start" font-family="Liberation Serif" font-weight="bold" font-style="italic"  xml:space="preserve">0.6</text>
<text transform="translate(38.63,660.07) scale(0.8850,1.0000)" font-size="26.25" text-anchor="start" font-family="Liberation Serif" font-weight="bold" font-style="italic"  xml:space="preserve">0.8</text>
<text transform="translate(56.40,585.11) scale(0.8850,1.0000)" font-size="26.25" text-anchor="start" font-family="Liberation Serif" font-weight="bold" font-style="italic"  xml:space="preserve">1</text>
<text transform="translate(70.23,986.00) scale(0.8850,1.0000)" font-size="26.25" text-anchor="start" font-family="Liberation Serif" font-weight="bold" font-style="italic"  xml:space="preserve">0</text>
<text transform="translate(136.27,986.00) scale(0.8850,1.0000)" font-size="26.25" text-anchor="start" font-family="Liberation Serif" font-weight="bold" font-style="italic"  xml:space="preserve">1</text>
<text transform="translate(200.69,986.00) scale(0.8850,1.0000)" font-size="26.25" text-anchor="start" font-family="Liberation Serif" font-weight="bold" font-style="italic"  xml:space="preserve">2</text>
<text transform="translate(265.81,986.00) scale(0.8850,1.0000)" font-size="26.25" text-anchor="start" font-family="Liberation Serif" font-weight="bold" font-style="italic"  xml:space="preserve">3</text>
<text transform="translate(330.81,986.00) scale(0.8850,1.0000)" font-size="26.25" text-anchor="start" font-family="Liberation Serif" font-weight="bold" font-style="italic"  xml:space="preserve">4</text>
<text transform="translate(395.57,986.00) scale(0.8850,1.0000)" font-size="26.25" text-anchor="start" font-family="Liberation Serif" font-weight="bold" font-style="italic"  xml:space="preserve">5</text>
<text transform="translate(237.78,1018.90) scale(1.0646,1.0000)" font-size="24.26" text-anchor="start" font-family="Liberation Serif" font-weight="bold" font-style="italic"  xml:space="preserve">η</text>
<text transform="translate(26.71,786.63) scale(0.8936,1.0000) rotate(-90)" font-size="26.61" text-anchor="start" font-family="Liberation Serif" font-weight="bold" font-style="italic"  xml:space="preserve">ϕ(η)</text>
<text transform="translate(0.40,550.58) scale(1.0000,1.0000)" font-size="42.50" text-anchor="start" font-family="Liberation Sans" font-weight="bold"  xml:space="preserve">C</text>
<path d="M562.01,568.95V960.50M629.52,568.95V960.50M697.03,568.95V960.50M764.54,568.95V960.50M494.50,882.19H832.05M494.50,803.88H832.05M494.50,725.57H832.05M494.50,647.26H832.05" stroke="#d8d8d8" stroke-width="0.9" fill="none"/>
<path d="M562.01,960.50v-4.6M562.01,568.95v4.6M629.52,960.50v-4.6M629.52,568.95v4.6M697.03,960.50v-4.6M697.03,568.95v4.6M764.54,960.50v-4.6M764.54,568.95v4.6M494.50,882.19h4.6M832.05,882.19h-4.6M494.50,803.88h4.6M832.05,803.88h-4.6M494.50,725.57h4.6M832.05,725.57h-4.6M494.50,647.26h4.6M832.05,647.26h-4.6" stroke="#0a0a0a" stroke-width="1.35" fill="none"/>
<rect x="494.50" y="568.95" width="337.55" height="391.55" fill="none" stroke="#0a0a0a" stroke-width="1.35"/>
<g transform="scale(1.03,1)" fill="none" stroke-width="3.4560000000000004">
<path d="M480.10,568.88 L480.12,569.03 L480.17,569.32 L480.23,569.72 L480.30,570.21 L480.39,570.78 L480.49,571.42 L480.61,572.13 L480.73,572.90 L480.86,573.73 L481.00,574.63 L481.14,575.58 L481.30,576.58 L481.47,577.64 L481.64,578.74 L481.82,579.90 L482.00,581.11 L482.20,582.36 L482.40,583.66 L482.61,585.00 L482.82,586.39 L483.04,587.82 L483.27,589.29 L483.51,590.81 L483.75,592.37 L483.99,593.97 L484.25,595.60 L484.50,597.28 L484.77,599.00 L485.04,600.75 L485.31,602.54 L485.59,604.37 L485.88,606.23 L486.17,608.13 L486.47,610.06 L486.77,612.03 L487.08,614.03 L487.39,616.07 L487.71,618.14 L488.03,620.24 L488.36,622.37 L488.70,624.53 L489.03,626.72 L489.38,628.94 L489.72,631.19 L490.08,633.47 L490.43,635.77 L490.80,638.10 L491.16,640.46 L491.53,642.84 L491.91,645.25 L492.29,647.68 L492.67,650.14 L493.06,652.62 L493.46,655.12 L493.85,657.64 L494.26,660.18 L494.66,662.74 L495.07,665.32 L495.49,667.92 L495.91,670.53 L496.33,673.16 L496.76,675.81 L497.19,678.47 L497.63,681.15 L498.07,683.84 L498.51,686.54 L498.96,689.25 L499.41,691.98 L499.87,694.71 L500.33,697.46 L500.80,700.21 L501.26,702.97 L501.74,705.73 L502.21,708.51 L502.69,711.28 L503.18,714.07 L503.67,716.85 L504.16,719.64 L504.65,722.43 L505.15,725.22 L505.65,728.01 L506.16,730.80 L506.67,733.58 L507.19,736.37 L507.70,739.15 L508.23,741.93 L508.75,744.70 L509.28,747.47 L509.81,750.23 L510.35,752.99 L510.89,755.73 L511.43,758.47 L511.98,761.20 L512.53,763.91 L513.08,766.62 L513.64,769.32 L514.20,772.00 L514.76,774.67 L515.33,777.32 L515.90,779.97 L516.48,782.59 L517.05,785.21 L517.64,787.80 L518.22,790.38 L518.81,792.94 L519.40,795.48 L520.00,798.01 L520.59,800.52 L521.20,803.00 L521.80,805.47 L522.41,807.91 L523.02,810.34 L523.64,812.74 L524.25,815.13 L524.87,817.49 L525.50,819.82 L526.13,822.14 L526.76,824.43 L527.39,826.70 L528.03,828.94 L528.67,831.16 L529.31,833.35 L529.96,835.52 L530.61,837.67 L531.27,839.79 L531.92,841.88 L532.58,843.95 L533.24,845.99 L533.91,848.01 L534.58,850.00 L535.25,851.96 L535.93,853.90 L536.60,855.81 L537.29,857.69 L537.97,859.55 L538.66,861.38 L539.35,863.19 L540.04,864.97 L540.74,866.72 L541.44,868.44 L542.14,870.14 L542.85,871.81 L543.55,873.45 L544.27,875.07 L544.98,876.66 L545.70,878.23 L546.42,879.76 L547.14,881.28 L547.87,882.76 L548.60,884.22 L549.33,885.66 L550.06,887.07 L550.80,888.46 L551.54,889.82 L552.29,891.16 L553.03,892.48 L553.78,893.77 L554.54,895.04 L555.29,896.28 L556.05,897.51 L556.81,898.71 L557.57,899.89 L558.34,901.05 L559.11,902.19 L559.88,903.31 L560.66,904.40 L561.43,905.48 L562.22,906.54 L563.00,907.57 L563.78,908.59 L564.57,909.59 L565.37,910.57 L566.16,911.53 L566.96,912.48 L567.76,913.40 L568.56,914.31 L569.37,915.20 L570.17,916.07 L570.99,916.93 L571.80,917.77 L572.62,918.60 L573.44,919.41 L574.26,920.20 L575.08,920.97 L575.91,921.74 L576.74,922.48 L577.57,923.22 L578.41,923.93 L579.24,924.64 L580.09,925.33 L580.93,926.00 L581.77,926.67 L582.62,927.31 L583.47,927.95 L584.33,928.57 L585.19,929.18 L586.04,929.78 L586.91,930.37 L587.77,930.94 L588.64,931.51 L589.51,932.06 L590.38,932.60 L591.25,933.12 L592.13,933.64 L593.01,934.15 L593.89,934.65 L594.78,935.13 L595.67,935.61 L596.56,936.07 L597.45,936.53 L598.35,936.98 L599.24,937.41 L600.14,937.84 L601.05,938.26 L601.95,938.67 L602.86,939.07 L603.77,939.46 L604.68,939.85 L605.60,940.22 L606.52,940.59 L607.44,940.95 L608.36,941.30 L609.29,941.65 L610.22,941.98 L611.15,942.31 L612.08,942.63 L613.02,942.95 L613.95,943.26 L614.89,943.56 L615.84,943.85 L616.78,944.14 L617.73,944.42 L618.68,944.69 L619.63,944.96 L620.59,945.23 L621.55,945.49 L622.51,945.74 L623.47,945.98 L624.44,946.23 L625.40,946.46 L626.37,946.69 L627.34,946.92 L628.32,947.14 L629.30,947.36 L630.28,947.57 L631.26,947.78 L632.24,947.98 L633.23,948.18 L634.22,948.38 L635.21,948.57 L636.20,948.76 L637.20,948.94 L638.20,949.12 L639.20,949.29 L640.20,949.47 L641.21,949.64 L642.22,949.80 L643.23,949.96 L644.24,950.12 L645.26,950.28 L646.27,950.43 L647.29,950.58 L648.32,950.73 L649.34,950.87 L650.37,951.01 L651.40,951.15 L652.43,951.28 L653.46,951.42 L654.50,951.55 L655.54,951.68 L656.58,951.80 L657.62,951.92 L658.67,952.05 L659.71,952.16 L660.76,952.28 L661.82,952.39 L662.87,952.51 L663.93,952.62 L664.99,952.72 L666.05,952.83 L667.11,952.94 L668.18,953.04 L669.25,953.14 L670.32,953.24 L671.39,953.33 L672.46,953.43 L673.54,953.52 L674.62,953.62 L675.70,953.71 L676.79,953.80 L677.87,953.89 L678.96,953.97 L680.05,954.06 L681.15,954.14 L682.24,954.22 L683.34,954.30 L684.44,954.38 L685.54,954.46 L686.64,954.54 L687.75,954.62 L688.86,954.69 L689.97,954.77 L691.08,954.84 L692.20,954.91 L693.32,954.99 L694.43,955.06 L695.56,955.13 L696.68,955.20 L697.81,955.26 L698.94,955.33 L700.07,955.40 L701.20,955.46 L702.33,955.53 L703.47,955.59 L704.61,955.66 L705.75,955.72 L706.90,955.78 L708.04,955.84 L709.19,955.91 L710.34,955.97 L711.49,956.03 L712.65,956.09 L713.80,956.15 L714.96,956.20 L716.12,956.26 L717.28,956.32 L718.45,956.38 L719.62,956.44 L720.79,956.49 L721.96,956.55 L723.13,956.61 L724.31,956.66 L725.49,956.72 L726.67,956.77 L727.85,956.83 L729.03,956.89 L730.22,956.94 L731.41,957.00 L732.60,957.05 L733.79,957.10 L734.99,957.16 L736.18,957.21 L737.38,957.27 L738.58,957.32 L739.79,957.38 L740.99,957.43 L742.20,957.49 L743.41,957.54 L744.62,957.60 L745.83,957.65 L747.05,957.70 L748.27,957.76 L749.49,957.81 L750.71,957.87 L751.93,957.92 L753.16,957.98 L754.39,958.03 L755.62,958.09 L756.85,958.14 L758.09,958.20 L759.32,958.25 L760.56,958.31 L761.80,958.37 L763.04,958.42 L764.29,958.48 L765.54,958.54 L766.79,958.59 L768.04,958.65 L769.29,958.71 L770.54,958.76 L771.80,958.82 L773.06,958.88 L774.32,958.94 L775.58,959.00 L776.85,959.05 L778.12,959.11 L779.39,959.17 L780.66,959.23 L781.93,959.29 L783.21,959.35 L784.48,959.41 L785.76,959.47 L787.04,959.53 L788.33,959.59 L789.61,959.65 L790.90,959.71 L792.19,959.77 L793.48,959.83 L794.77,959.90 L796.07,959.96 L797.37,960.02 L798.66,960.08 L799.97,960.14 L801.27,960.20 L802.57,960.27 L803.88,960.33 L805.19,960.39 L806.50,960.45 L807.82,960.50" stroke="#ff0000" stroke-dasharray="2.44 2.47"/>
<path d="M480.10,568.92 L480.12,569.05 L480.17,569.31 L480.23,569.67 L480.30,570.11 L480.39,570.62 L480.49,571.20 L480.61,571.84 L480.73,572.54 L480.86,573.29 L481.00,574.10 L481.14,574.95 L481.30,575.85 L481.47,576.80 L481.64,577.79 L481.82,578.83 L482.00,579.90 L482.20,581.02 L482.40,582.18 L482.61,583.38 L482.82,584.62 L483.04,585.89 L483.27,587.20 L483.51,588.55 L483.75,589.93 L483.99,591.35 L484.25,592.80 L484.50,594.28 L484.77,595.80 L485.04,597.35 L485.31,598.93 L485.59,600.54 L485.88,602.18 L486.17,603.85 L486.47,605.54 L486.77,607.27 L487.08,609.03 L487.39,610.81 L487.71,612.62 L488.03,614.46 L488.36,616.32 L488.70,618.21 L489.03,620.12 L489.38,622.06 L489.72,624.02 L490.08,626.01 L490.43,628.02 L490.80,630.05 L491.16,632.10 L491.53,634.18 L491.91,636.27 L492.29,638.39 L492.67,640.52 L493.06,642.68 L493.46,644.85 L493.85,647.04 L494.26,649.25 L494.66,651.48 L495.07,653.72 L495.49,655.98 L495.91,658.25 L496.33,660.54 L496.76,662.85 L497.19,665.17 L497.63,667.50 L498.07,669.84 L498.51,672.20 L498.96,674.57 L499.41,676.95 L499.87,679.34 L500.33,681.74 L500.80,684.15 L501.26,686.56 L501.74,688.99 L502.21,691.43 L502.69,693.87 L503.18,696.31 L503.67,698.77 L504.16,701.23 L504.65,703.69 L505.15,706.16 L505.65,708.63 L506.16,711.11 L506.67,713.59 L507.19,716.07 L507.70,718.55 L508.23,721.03 L508.75,723.52 L509.28,726.00 L509.81,728.48 L510.35,730.96 L510.89,733.44 L511.43,735.92 L511.98,738.39 L512.53,740.86 L513.08,743.33 L513.64,745.79 L514.20,748.24 L514.76,750.70 L515.33,753.14 L515.90,755.58 L516.48,758.01 L517.05,760.43 L517.64,762.85 L518.22,765.26 L518.81,767.65 L519.40,770.04 L520.00,772.42 L520.59,774.79 L521.20,777.15 L521.80,779.49 L522.41,781.83 L523.02,784.15 L523.64,786.46 L524.25,788.76 L524.87,791.04 L525.50,793.31 L526.13,795.57 L526.76,797.81 L527.39,800.04 L528.03,802.25 L528.67,804.45 L529.31,806.63 L529.96,808.80 L530.61,810.95 L531.27,813.08 L531.92,815.19 L532.58,817.29 L533.24,819.37 L533.91,821.44 L534.58,823.48 L535.25,825.51 L535.93,827.52 L536.60,829.51 L537.29,831.48 L537.97,833.44 L538.66,835.37 L539.35,837.29 L540.04,839.18 L540.74,841.06 L541.44,842.92 L542.14,844.75 L542.85,846.57 L543.55,848.37 L544.27,850.14 L544.98,851.90 L545.70,853.64 L546.42,855.35 L547.14,857.05 L547.87,858.73 L548.60,860.38 L549.33,862.01 L550.06,863.63 L550.80,865.22 L551.54,866.79 L552.29,868.34 L553.03,869.87 L553.78,871.38 L554.54,872.86 L555.29,874.33 L556.05,875.77 L556.81,877.19 L557.57,878.60 L558.34,879.98 L559.11,881.34 L559.88,882.67 L560.66,883.99 L561.43,885.29 L562.22,886.56 L563.00,887.82 L563.78,889.05 L564.57,890.26 L565.37,891.46 L566.16,892.63 L566.96,893.78 L567.76,894.91 L568.56,896.03 L569.37,897.12 L570.17,898.19 L570.99,899.24 L571.80,900.27 L572.62,901.29 L573.44,902.28 L574.26,903.26 L575.08,904.21 L575.91,905.15 L576.74,906.07 L577.57,906.97 L578.41,907.85 L579.24,908.71 L580.09,909.56 L580.93,910.38 L581.77,911.20 L582.62,911.99 L583.47,912.77 L584.33,913.53 L585.19,914.28 L586.04,915.01 L586.91,915.73 L587.77,916.43 L588.64,917.12 L589.51,917.80 L590.38,918.46 L591.25,919.11 L592.13,919.75 L593.01,920.37 L593.89,920.99 L594.78,921.59 L595.67,922.18 L596.56,922.75 L597.45,923.32 L598.35,923.88 L599.24,924.42 L600.14,924.96 L601.05,925.48 L601.95,926.00 L602.86,926.51 L603.77,927.00 L604.68,927.49 L605.60,927.97 L606.52,928.44 L607.44,928.91 L608.36,929.36 L609.29,929.81 L610.22,930.25 L611.15,930.68 L612.08,931.10 L613.02,931.52 L613.95,931.93 L614.89,932.33 L615.84,932.73 L616.78,933.12 L617.73,933.50 L618.68,933.87 L619.63,934.24 L620.59,934.61 L621.55,934.97 L622.51,935.32 L623.47,935.66 L624.44,936.00 L625.40,936.34 L626.37,936.67 L627.34,936.99 L628.32,937.31 L629.30,937.63 L630.28,937.94 L631.26,938.24 L632.24,938.54 L633.23,938.83 L634.22,939.12 L635.21,939.41 L636.20,939.69 L637.20,939.97 L638.20,940.24 L639.20,940.51 L640.20,940.77 L641.21,941.03 L642.22,941.29 L643.23,941.54 L644.24,941.79 L645.26,942.04 L646.27,942.28 L647.29,942.52 L648.32,942.75 L649.34,942.98 L650.37,943.21 L651.40,943.43 L652.43,943.66 L653.46,943.87 L654.50,944.09 L655.54,944.30 L656.58,944.51 L657.62,944.72 L658.67,944.92 L659.71,945.13 L660.76,945.32 L661.82,945.52 L662.87,945.71 L663.93,945.91 L664.99,946.09 L666.05,946.28 L667.11,946.46 L668.18,946.65 L669.25,946.83 L670.32,947.00 L671.39,947.18 L672.46,947.35 L673.54,947.52 L674.62,947.69 L675.70,947.86 L676.79,948.03 L677.87,948.19 L678.96,948.35 L680.05,948.51 L681.15,948.67 L682.24,948.83 L683.34,948.98 L684.44,949.14 L685.54,949.29 L686.64,949.44 L687.75,949.59 L688.86,949.74 L689.97,949.88 L691.08,950.03 L692.20,950.17 L693.32,950.31 L694.43,950.46 L695.56,950.59 L696.68,950.73 L697.81,950.87 L698.94,951.01 L700.07,951.14 L701.20,951.28 L702.33,951.41 L703.47,951.54 L704.61,951.67 L705.75,951.80 L706.90,951.93 L708.04,952.06 L709.19,952.19 L710.34,952.31 L711.49,952.44 L712.65,952.56 L713.80,952.69 L714.96,952.81 L716.12,952.93 L717.28,953.05 L718.45,953.17 L719.62,953.29 L720.79,953.41 L721.96,953.53 L723.13,953.65 L724.31,953.77 L725.49,953.88 L726.67,954.00 L727.85,954.12 L729.03,954.23 L730.22,954.35 L731.41,954.46 L732.60,954.57 L733.79,954.68 L734.99,954.80 L736.18,954.91 L737.38,955.02 L738.58,955.13 L739.79,955.24 L740.99,955.35 L742.20,955.46 L743.41,955.57 L744.62,955.68 L745.83,955.78 L747.05,955.89 L748.27,956.00 L749.49,956.11 L750.71,956.21 L751.93,956.32 L753.16,956.42 L754.39,956.53 L755.62,956.63 L756.85,956.74 L758.09,956.84 L759.32,956.94 L760.56,957.04 L761.80,957.15 L763.04,957.25 L764.29,957.35 L765.54,957.45 L766.79,957.55 L768.04,957.65 L769.29,957.75 L770.54,957.85 L771.80,957.95 L773.06,958.05 L774.32,958.15 L775.58,958.24 L776.85,958.34 L778.12,958.44 L779.39,958.53 L780.66,958.63 L781.93,958.72 L783.21,958.82 L784.48,958.91 L785.76,959.00 L787.04,959.10 L788.33,959.19 L789.61,959.28 L790.90,959.37 L792.19,959.46 L793.48,959.55 L794.77,959.64 L796.07,959.73 L797.37,959.82 L798.66,959.91 L799.97,959.99 L801.27,960.08 L802.57,960.17 L803.88,960.25 L805.19,960.34 L806.50,960.42 L807.82,960.50" stroke="#00ff00" stroke-dasharray="9.78 9.96"/>
<path d="M480.10,568.83 L480.12,568.96 L480.17,569.23 L480.23,569.59 L480.30,570.03 L480.39,570.54 L480.49,571.12 L480.61,571.76 L480.73,572.46 L480.86,573.21 L481.00,574.01 L481.14,574.86 L481.30,575.76 L481.47,576.70 L481.64,577.69 L481.82,578.71 L482.00,579.78 L482.20,580.89 L482.40,582.03 L482.61,583.22 L482.82,584.43 L483.04,585.69 L483.27,586.97 L483.51,588.29 L483.75,589.64 L483.99,591.03 L484.25,592.44 L484.50,593.88 L484.77,595.36 L485.04,596.86 L485.31,598.39 L485.59,599.95 L485.88,601.53 L486.17,603.14 L486.47,604.77 L486.77,606.43 L487.08,608.12 L487.39,609.82 L487.71,611.55 L488.03,613.31 L488.36,615.08 L488.70,616.88 L489.03,618.69 L489.38,620.53 L489.72,622.38 L490.08,624.26 L490.43,626.15 L490.80,628.06 L491.16,629.99 L491.53,631.94 L491.91,633.90 L492.29,635.88 L492.67,637.88 L493.06,639.89 L493.46,641.91 L493.85,643.95 L494.26,646.00 L494.66,648.07 L495.07,650.14 L495.49,652.23 L495.91,654.34 L496.33,656.45 L496.76,658.57 L497.19,660.70 L497.63,662.85 L498.07,665.00 L498.51,667.16 L498.96,669.33 L499.41,671.51 L499.87,673.70 L500.33,675.89 L500.80,678.09 L501.26,680.29 L501.74,682.51 L502.21,684.72 L502.69,686.94 L503.18,689.17 L503.67,691.40 L504.16,693.63 L504.65,695.87 L505.15,698.11 L505.65,700.35 L506.16,702.59 L506.67,704.83 L507.19,707.08 L507.70,709.33 L508.23,711.57 L508.75,713.82 L509.28,716.06 L509.81,718.31 L510.35,720.55 L510.89,722.79 L511.43,725.03 L511.98,727.26 L512.53,729.50 L513.08,731.73 L513.64,733.95 L514.20,736.18 L514.76,738.39 L515.33,740.61 L515.90,742.81 L516.48,745.02 L517.05,747.21 L517.64,749.40 L518.22,751.59 L518.81,753.76 L519.40,755.93 L520.00,758.10 L520.59,760.25 L521.20,762.40 L521.80,764.53 L522.41,766.66 L523.02,768.78 L523.64,770.90 L524.25,773.00 L524.87,775.09 L525.50,777.17 L526.13,779.24 L526.76,781.30 L527.39,783.35 L528.03,785.39 L528.67,787.42 L529.31,789.44 L529.96,791.44 L530.61,793.43 L531.27,795.42 L531.92,797.38 L532.58,799.34 L533.24,801.28 L533.91,803.21 L534.58,805.13 L535.25,807.03 L535.93,808.92 L536.60,810.80 L537.29,812.66 L537.97,814.51 L538.66,816.34 L539.35,818.16 L540.04,819.97 L540.74,821.76 L541.44,823.53 L542.14,825.29 L542.85,827.04 L543.55,828.77 L544.27,830.49 L544.98,832.19 L545.70,833.88 L546.42,835.55 L547.14,837.20 L547.87,838.84 L548.60,840.47 L549.33,842.08 L550.06,843.67 L550.80,845.25 L551.54,846.81 L552.29,848.35 L553.03,849.88 L553.78,851.40 L554.54,852.90 L555.29,854.38 L556.05,855.84 L556.81,857.29 L557.57,858.73 L558.34,860.15 L559.11,861.55 L559.88,862.94 L560.66,864.31 L561.43,865.66 L562.22,867.00 L563.00,868.33 L563.78,869.63 L564.57,870.93 L565.37,872.20 L566.16,873.46 L566.96,874.71 L567.76,875.94 L568.56,877.15 L569.37,878.35 L570.17,879.53 L570.99,880.70 L571.80,881.85 L572.62,882.99 L573.44,884.11 L574.26,885.22 L575.08,886.31 L575.91,887.39 L576.74,888.45 L577.57,889.50 L578.41,890.53 L579.24,891.55 L580.09,892.55 L580.93,893.54 L581.77,894.52 L582.62,895.48 L583.47,896.42 L584.33,897.36 L585.19,898.28 L586.04,899.18 L586.91,900.07 L587.77,900.95 L588.64,901.82 L589.51,902.67 L590.38,903.51 L591.25,904.33 L592.13,905.14 L593.01,905.94 L593.89,906.73 L594.78,907.50 L595.67,908.26 L596.56,909.01 L597.45,909.75 L598.35,910.47 L599.24,911.19 L600.14,911.89 L601.05,912.57 L601.95,913.25 L602.86,913.91 L603.77,914.57 L604.68,915.21 L605.60,915.84 L606.52,916.46 L607.44,917.07 L608.36,917.67 L609.29,918.25 L610.22,918.83 L611.15,919.39 L612.08,919.95 L613.02,920.49 L613.95,921.03 L614.89,921.55 L615.84,922.07 L616.78,922.57 L617.73,923.07 L618.68,923.56 L619.63,924.03 L620.59,924.51 L621.55,924.97 L622.51,925.42 L623.47,925.87 L624.44,926.30 L625.40,926.74 L626.37,927.16 L627.34,927.57 L628.32,927.98 L629.30,928.38 L630.28,928.78 L631.26,929.17 L632.24,929.55 L633.23,929.93 L634.22,930.30 L635.21,930.66 L636.20,931.02 L637.20,931.37 L638.20,931.72 L639.20,932.06 L640.20,932.39 L641.21,932.72 L642.22,933.05 L643.23,933.37 L644.24,933.69 L645.26,934.00 L646.27,934.31 L647.29,934.61 L648.32,934.91 L649.34,935.20 L650.37,935.49 L651.40,935.78 L652.43,936.06 L653.46,936.34 L654.50,936.61 L655.54,936.88 L656.58,937.15 L657.62,937.41 L658.67,937.67 L659.71,937.93 L660.76,938.19 L661.82,938.44 L662.87,938.69 L663.93,938.93 L664.99,939.18 L666.05,939.42 L667.11,939.65 L668.18,939.89 L669.25,940.12 L670.32,940.35 L671.39,940.58 L672.46,940.81 L673.54,941.03 L674.62,941.25 L675.70,941.47 L676.79,941.69 L677.87,941.91 L678.96,942.12 L680.05,942.33 L681.15,942.54 L682.24,942.75 L683.34,942.96 L684.44,943.16 L685.54,943.37 L686.64,943.57 L687.75,943.77 L688.86,943.97 L689.97,944.17 L691.08,944.37 L692.20,944.57 L693.32,944.76 L694.43,944.96 L695.56,945.15 L696.68,945.34 L697.81,945.54 L698.94,945.73 L700.07,945.92 L701.20,946.11 L702.33,946.29 L703.47,946.48 L704.61,946.67 L705.75,946.86 L706.90,947.04 L708.04,947.23 L709.19,947.41 L710.34,947.60 L711.49,947.78 L712.65,947.96 L713.80,948.14 L714.96,948.33 L716.12,948.51 L717.28,948.69 L718.45,948.87 L719.62,949.05 L720.79,949.23 L721.96,949.41 L723.13,949.59 L724.31,949.77 L725.49,949.95 L726.67,950.13 L727.85,950.30 L729.03,950.48 L730.22,950.66 L731.41,950.84 L732.60,951.01 L733.79,951.19 L734.99,951.37 L736.18,951.54 L737.38,951.72 L738.58,951.90 L739.79,952.07 L740.99,952.25 L742.20,952.42 L743.41,952.59 L744.62,952.77 L745.83,952.94 L747.05,953.12 L748.27,953.29 L749.49,953.46 L750.71,953.63 L751.93,953.81 L753.16,953.98 L754.39,954.15 L755.62,954.32 L756.85,954.49 L758.09,954.66 L759.32,954.83 L760.56,954.99 L761.80,955.16 L763.04,955.33 L764.29,955.49 L765.54,955.66 L766.79,955.82 L768.04,955.99 L769.29,956.15 L770.54,956.31 L771.80,956.47 L773.06,956.63 L774.32,956.79 L775.58,956.95 L776.85,957.11 L778.12,957.26 L779.39,957.42 L780.66,957.57 L781.93,957.72 L783.21,957.88 L784.48,958.03 L785.76,958.17 L787.04,958.32 L788.33,958.47 L789.61,958.61 L790.90,958.75 L792.19,958.90 L793.48,959.04 L794.77,959.18 L796.07,959.31 L797.37,959.45 L798.66,959.58 L799.97,959.71 L801.27,959.84 L802.57,959.97 L803.88,960.10 L805.19,960.22 L806.50,960.34 L807.82,960.47" stroke="#0000ff" stroke-dasharray="9.78 2.44 4.89 2.63"/>
<path d="M480.10,568.92 L480.12,569.03 L480.17,569.24 L480.23,569.53 L480.30,569.88 L480.39,570.29 L480.49,570.76 L480.61,571.27 L480.73,571.83 L480.86,572.44 L481.00,573.09 L481.14,573.78 L481.30,574.50 L481.47,575.27 L481.64,576.07 L481.82,576.91 L482.00,577.79 L482.20,578.69 L482.40,579.64 L482.61,580.61 L482.82,581.62 L483.04,582.66 L483.27,583.73 L483.51,584.83 L483.75,585.96 L483.99,587.12 L484.25,588.31 L484.50,589.53 L484.77,590.78 L485.04,592.06 L485.31,593.36 L485.59,594.69 L485.88,596.05 L486.17,597.43 L486.47,598.84 L486.77,600.27 L487.08,601.73 L487.39,603.22 L487.71,604.73 L488.03,606.26 L488.36,607.82 L488.70,609.40 L489.03,611.00 L489.38,612.63 L489.72,614.28 L490.08,615.95 L490.43,617.64 L490.80,619.35 L491.16,621.09 L491.53,622.84 L491.91,624.61 L492.29,626.41 L492.67,628.22 L493.06,630.05 L493.46,631.89 L493.85,633.76 L494.26,635.64 L494.66,637.54 L495.07,639.46 L495.49,641.39 L495.91,643.33 L496.33,645.29 L496.76,647.27 L497.19,649.26 L497.63,651.26 L498.07,653.27 L498.51,655.30 L498.96,657.34 L499.41,659.39 L499.87,661.45 L500.33,663.52 L500.80,665.60 L501.26,667.69 L501.74,669.79 L502.21,671.90 L502.69,674.01 L503.18,676.13 L503.67,678.26 L504.16,680.39 L504.65,682.53 L505.15,684.67 L505.65,686.82 L506.16,688.97 L506.67,691.12 L507.19,693.28 L507.70,695.44 L508.23,697.60 L508.75,699.76 L509.28,701.92 L509.81,704.08 L510.35,706.24 L510.89,708.40 L511.43,710.56 L511.98,712.71 L512.53,714.86 L513.08,717.01 L513.64,719.16 L514.20,721.30 L514.76,723.43 L515.33,725.56 L515.90,727.68 L516.48,729.80 L517.05,731.91 L517.64,734.02 L518.22,736.12 L518.81,738.21 L519.40,740.29 L520.00,742.37 L520.59,744.44 L521.20,746.50 L521.80,748.55 L522.41,750.59 L523.02,752.63 L523.64,754.65 L524.25,756.67 L524.87,758.68 L525.50,760.67 L526.13,762.66 L526.76,764.64 L527.39,766.61 L528.03,768.56 L528.67,770.51 L529.31,772.45 L529.96,774.37 L530.61,776.29 L531.27,778.19 L531.92,780.08 L532.58,781.96 L533.24,783.83 L533.91,785.68 L534.58,787.53 L535.25,789.36 L535.93,791.18 L536.60,792.99 L537.29,794.79 L537.97,796.57 L538.66,798.34 L539.35,800.10 L540.04,801.84 L540.74,803.58 L541.44,805.29 L542.14,807.00 L542.85,808.69 L543.55,810.37 L544.27,812.04 L544.98,813.69 L545.70,815.33 L546.42,816.96 L547.14,818.57 L547.87,820.17 L548.60,821.75 L549.33,823.32 L550.06,824.88 L550.80,826.42 L551.54,827.95 L552.29,829.47 L553.03,830.97 L553.78,832.45 L554.54,833.93 L555.29,835.38 L556.05,836.83 L556.81,838.25 L557.57,839.67 L558.34,841.07 L559.11,842.45 L559.88,843.82 L560.66,845.18 L561.43,846.52 L562.22,847.85 L563.00,849.16 L563.78,850.46 L564.57,851.74 L565.37,853.01 L566.16,854.26 L566.96,855.50 L567.76,856.72 L568.56,857.93 L569.37,859.13 L570.17,860.31 L570.99,861.47 L571.80,862.62 L572.62,863.76 L573.44,864.88 L574.26,865.99 L575.08,867.08 L575.91,868.16 L576.74,869.23 L577.57,870.28 L578.41,871.32 L579.24,872.34 L580.09,873.35 L580.93,874.34 L581.77,875.32 L582.62,876.29 L583.47,877.24 L584.33,878.18 L585.19,879.10 L586.04,880.01 L586.91,880.91 L587.77,881.79 L588.64,882.66 L589.51,883.52 L590.38,884.37 L591.25,885.20 L592.13,886.02 L593.01,886.83 L593.89,887.62 L594.78,888.41 L595.67,889.18 L596.56,889.95 L597.45,890.70 L598.35,891.44 L599.24,892.17 L600.14,892.89 L601.05,893.61 L601.95,894.31 L602.86,895.00 L603.77,895.69 L604.68,896.36 L605.60,897.03 L606.52,897.69 L607.44,898.33 L608.36,898.98 L609.29,899.61 L610.22,900.24 L611.15,900.85 L612.08,901.47 L613.02,902.07 L613.95,902.67 L614.89,903.26 L615.84,903.84 L616.78,904.42 L617.73,904.99 L618.68,905.55 L619.63,906.11 L620.59,906.66 L621.55,907.20 L622.51,907.74 L623.47,908.27 L624.44,908.80 L625.40,909.32 L626.37,909.83 L627.34,910.34 L628.32,910.85 L629.30,911.35 L630.28,911.84 L631.26,912.33 L632.24,912.81 L633.23,913.29 L634.22,913.76 L635.21,914.23 L636.20,914.69 L637.20,915.15 L638.20,915.60 L639.20,916.05 L640.20,916.49 L641.21,916.93 L642.22,917.37 L643.23,917.80 L644.24,918.23 L645.26,918.65 L646.27,919.07 L647.29,919.48 L648.32,919.89 L649.34,920.30 L650.37,920.70 L651.40,921.10 L652.43,921.50 L653.46,921.89 L654.50,922.28 L655.54,922.67 L656.58,923.05 L657.62,923.43 L658.67,923.80 L659.71,924.18 L660.76,924.55 L661.82,924.91 L662.87,925.28 L663.93,925.64 L664.99,925.99 L666.05,926.35 L667.11,926.70 L668.18,927.05 L669.25,927.40 L670.32,927.74 L671.39,928.08 L672.46,928.42 L673.54,928.76 L674.62,929.09 L675.70,929.42 L676.79,929.75 L677.87,930.08 L678.96,930.40 L680.05,930.73 L681.15,931.05 L682.24,931.37 L683.34,931.68 L684.44,932.00 L685.54,932.31 L686.64,932.62 L687.75,932.93 L688.86,933.23 L689.97,933.54 L691.08,933.84 L692.20,934.14 L693.32,934.44 L694.43,934.74 L695.56,935.03 L696.68,935.33 L697.81,935.62 L698.94,935.91 L700.07,936.20 L701.20,936.49 L702.33,936.78 L703.47,937.06 L704.61,937.35 L705.75,937.63 L706.90,937.91 L708.04,938.19 L709.19,938.47 L710.34,938.74 L711.49,939.02 L712.65,939.29 L713.80,939.57 L714.96,939.84 L716.12,940.11 L717.28,940.38 L718.45,940.66 L719.62,940.93 L720.79,941.20 L721.96,941.47 L723.13,941.74 L724.31,942.02 L725.49,942.29 L726.67,942.56 L727.85,942.84 L729.03,943.11 L730.22,943.39 L731.41,943.67 L732.60,943.94 L733.79,944.22 L734.99,944.50 L736.18,944.79 L737.38,945.07 L738.58,945.35 L739.79,945.64 L740.99,945.92 L742.20,946.21 L743.41,946.50 L744.62,946.79 L745.83,947.08 L747.05,947.38 L748.27,947.67 L749.49,947.96 L750.71,948.26 L751.93,948.56 L753.16,948.86 L754.39,949.15 L755.62,949.45 L756.85,949.75 L758.09,950.05 L759.32,950.35 L760.56,950.66 L761.80,950.96 L763.04,951.26 L764.29,951.56 L765.54,951.86 L766.79,952.16 L768.04,952.46 L769.29,952.76 L770.54,953.06 L771.80,953.35 L773.06,953.65 L774.32,953.94 L775.58,954.23 L776.85,954.53 L778.12,954.81 L779.39,955.10 L780.66,955.38 L781.93,955.67 L783.21,955.94 L784.48,956.22 L785.76,956.49 L787.04,956.76 L788.33,957.03 L789.61,957.29 L790.90,957.55 L792.19,957.80 L793.48,958.05 L794.77,958.30 L796.07,958.54 L797.37,958.77 L798.66,959.01 L799.97,959.23 L801.27,959.45 L802.57,959.67 L803.88,959.88 L805.19,960.09 L806.50,960.29 L807.82,960.49" stroke="#00ffff"/>
</g>
<rect x="666.90" y="583.50" width="149.40" height="106.60" fill="#fff" stroke="#0a0a0a" stroke-width="1.35"/>
<g transform="scale(1.03,1)" fill="none" stroke-width="3.4560000000000004">
<path d="M657.38,598.70H704.16" stroke="#ff0000" stroke-dasharray="2.44 2.47"/>
<path d="M657.38,624.10H708.83" stroke="#00ff00" stroke-dasharray="9.78 9.96"/>
<path d="M657.38,649.50H708.83" stroke="#0000ff" stroke-dasharray="9.78 2.44 4.89 2.63"/>
<path d="M657.38,674.90H708.83" stroke="#00ffff"/>
</g>
<text transform="translate(733.63,606.05) scale(1.1157,1.0000)" font-size="21.01" text-anchor="start" font-family="Liberation Serif" font-weight="bold" font-style="italic"  xml:space="preserve">M</text>
<text transform="translate(759.69,606.05) scale(1.3555,1.0000)" font-size="21.01" text-anchor="start" font-family="Liberation Serif" font-weight="bold" font-style="italic"  xml:space="preserve">=</text>
<text transform="translate(780.79,606.05) scale(1.1185,1.0000)" font-size="21.01" text-anchor="start" font-family="Liberation Serif" font-weight="bold" font-style="italic"  xml:space="preserve">0.1</text>
<text transform="translate(733.63,631.45) scale(1.1157,1.0000)" font-size="21.01" text-anchor="start" font-family="Liberation Serif" font-weight="bold" font-style="italic"  xml:space="preserve">M</text>
<text transform="translate(759.69,631.45) scale(1.3555,1.0000)" font-size="21.01" text-anchor="start" font-family="Liberation Serif" font-weight="bold" font-style="italic"  xml:space="preserve">=</text>
<text transform="translate(780.79,631.45) scale(1.1185,1.0000)" font-size="21.01" text-anchor="start" font-family="Liberation Serif" font-weight="bold" font-style="italic"  xml:space="preserve">0.2</text>
<text transform="translate(733.63,656.85) scale(1.1157,1.0000)" font-size="21.01" text-anchor="start" font-family="Liberation Serif" font-weight="bold" font-style="italic"  xml:space="preserve">M</text>
<text transform="translate(759.69,656.85) scale(1.3555,1.0000)" font-size="21.01" text-anchor="start" font-family="Liberation Serif" font-weight="bold" font-style="italic"  xml:space="preserve">=</text>
<text transform="translate(780.79,656.85) scale(1.1185,1.0000)" font-size="21.01" text-anchor="start" font-family="Liberation Serif" font-weight="bold" font-style="italic"  xml:space="preserve">0.3</text>
<text transform="translate(733.63,682.25) scale(1.1157,1.0000)" font-size="21.01" text-anchor="start" font-family="Liberation Serif" font-weight="bold" font-style="italic"  xml:space="preserve">M</text>
<text transform="translate(759.69,682.25) scale(1.3555,1.0000)" font-size="21.01" text-anchor="start" font-family="Liberation Serif" font-weight="bold" font-style="italic"  xml:space="preserve">=</text>
<text transform="translate(780.79,682.25) scale(1.1185,1.0000)" font-size="21.01" text-anchor="start" font-family="Liberation Serif" font-weight="bold" font-style="italic"  xml:space="preserve">0.4</text>
<g transform="scale(1.03,1)"><path d="M562.43,907.40L592.82,870.88" stroke="#000" stroke-width="1.69" fill="none"/><path d="M602.04,859.80L594.61,879.30L592.82,870.88L584.21,870.64Z" fill="#000"/></g>
<text transform="translate(471.87,968.48) scale(1.1630,1.0000)" font-size="22.80" text-anchor="start" font-family="Liberation Serif" font-weight="bold" font-style="italic"  xml:space="preserve">0</text>
<text transform="translate(451.98,890.17) scale(1.1630,1.0000)" font-size="22.80" text-anchor="start" font-family="Liberation Serif" font-weight="bold" font-style="italic"  xml:space="preserve">0.2</text>
<text transform="translate(452.25,811.86) scale(1.1630,1.0000)" font-size="22.80" text-anchor="start" font-family="Liberation Serif" font-weight="bold" font-style="italic"  xml:space="preserve">0.4</text>
<text transform="translate(451.45,733.55) scale(1.1630,1.0000)" font-size="22.80" text-anchor="start" font-family="Liberation Serif" font-weight="bold" font-style="italic"  xml:space="preserve">0.6</text>
<text transform="translate(451.98,655.24) scale(1.1630,1.0000)" font-size="22.80" text-anchor="start" font-family="Liberation Serif" font-weight="bold" font-style="italic"  xml:space="preserve">0.8</text>
<text transform="translate(472.27,577.27) scale(1.1630,1.0000)" font-size="22.80" text-anchor="start" font-family="Liberation Serif" font-weight="bold" font-style="italic"  xml:space="preserve">1</text>
<text transform="translate(487.74,991.00) scale(1.1630,1.0000)" font-size="22.80" text-anchor="start" font-family="Liberation Serif" font-weight="bold" font-style="italic"  xml:space="preserve">0</text>
<text transform="translate(556.44,991.00) scale(1.1630,1.0000)" font-size="22.80" text-anchor="start" font-family="Liberation Serif" font-weight="bold" font-style="italic"  xml:space="preserve">1</text>
<text transform="translate(623.29,991.00) scale(1.1630,1.0000)" font-size="22.80" text-anchor="start" font-family="Liberation Serif" font-weight="bold" font-style="italic"  xml:space="preserve">2</text>
<text transform="translate(690.93,991.00) scale(1.1630,1.0000)" font-size="22.80" text-anchor="start" font-family="Liberation Serif" font-weight="bold" font-style="italic"  xml:space="preserve">3</text>
<text transform="translate(758.44,991.00) scale(1.1630,1.0000)" font-size="22.80" text-anchor="start" font-family="Liberation Serif" font-weight="bold" font-style="italic"  xml:space="preserve">4</text>
<text transform="translate(825.69,991.00) scale(1.1630,1.0000)" font-size="22.80" text-anchor="start" font-family="Liberation Serif" font-weight="bold" font-style="italic"  xml:space="preserve">5</text>
<text transform="translate(661.72,1019.65) scale(1.3675,1.0000)" font-size="21.18" text-anchor="start" font-family="Liberation Serif" font-weight="bold" font-style="italic"  xml:space="preserve">η</text>
<text transform="translate(439.84,784.17) scale(1.0460,1.0000) rotate(-90)" font-size="24.86" text-anchor="start" font-family="Liberation Serif" font-weight="bold" font-style="italic"  xml:space="preserve">χ(η)</text>
<text transform="translate(445.22,550.60) scale(1.0000,1.0000)" font-size="42.50" text-anchor="start" font-family="Liberation Sans" font-weight="bold"  xml:space="preserve">D</text>
<path d="M188.18,1141.55V1514.80M296.57,1141.55V1514.80M79.80,1452.59H404.95M79.80,1390.38H404.95M79.80,1328.17H404.95M79.80,1265.97H404.95M79.80,1203.76H404.95" stroke="#d8d8d8" stroke-width="0.9" fill="none"/>
<path d="M188.18,1514.80v-4.6M188.18,1141.55v4.6M296.57,1514.80v-4.6M296.57,1141.55v4.6M79.80,1452.59h4.6M404.95,1452.59h-4.6M79.80,1390.38h4.6M404.95,1390.38h-4.6M79.80,1328.17h4.6M404.95,1328.17h-4.6M79.80,1265.97h4.6M404.95,1265.97h-4.6M79.80,1203.76h4.6M404.95,1203.76h-4.6" stroke="#0a0a0a" stroke-width="1.35" fill="none"/>
<rect x="79.80" y="1141.55" width="325.15" height="373.25" fill="none" stroke="#0a0a0a" stroke-width="1.35"/>
<g transform="scale(1.28,1)" fill="none" stroke-width="2.9160000000000004">
<path d="M62.34,1487.80 L62.36,1487.82 L62.40,1487.87 L62.45,1487.93 L62.50,1488.00 L62.57,1488.09 L62.65,1488.18 L62.74,1488.29 L62.83,1488.40 L62.93,1488.52 L63.04,1488.65 L63.16,1488.79 L63.28,1488.93 L63.40,1489.09 L63.54,1489.24 L63.68,1489.40 L63.82,1489.57 L63.97,1489.75 L64.13,1489.92 L64.29,1490.11 L64.46,1490.29 L64.63,1490.48 L64.81,1490.68 L64.99,1490.87 L65.17,1491.07 L65.36,1491.28 L65.56,1491.49 L65.76,1491.70 L65.96,1491.91 L66.17,1492.12 L66.39,1492.34 L66.60,1492.56 L66.83,1492.78 L67.05,1493.00 L67.28,1493.22 L67.52,1493.45 L67.76,1493.67 L68.00,1493.90 L68.25,1494.13 L68.50,1494.36 L68.75,1494.59 L69.01,1494.82 L69.27,1495.05 L69.54,1495.28 L69.81,1495.51 L70.08,1495.74 L70.36,1495.97 L70.64,1496.20 L70.92,1496.43 L71.21,1496.66 L71.50,1496.89 L71.79,1497.12 L72.09,1497.34 L72.39,1497.57 L72.70,1497.80 L73.01,1498.03 L73.32,1498.25 L73.63,1498.47 L73.95,1498.70 L74.27,1498.92 L74.60,1499.14 L74.93,1499.36 L75.26,1499.58 L75.60,1499.80 L75.93,1500.01 L76.27,1500.23 L76.62,1500.44 L76.97,1500.65 L77.32,1500.86 L77.67,1501.07 L78.03,1501.28 L78.39,1501.49 L78.75,1501.69 L79.12,1501.89 L79.49,1502.09 L79.86,1502.29 L80.23,1502.49 L80.61,1502.68 L80.99,1502.88 L81.38,1503.07 L81.76,1503.26 L82.15,1503.45 L82.55,1503.63 L82.94,1503.82 L83.34,1504.00 L83.74,1504.18 L84.15,1504.36 L84.55,1504.54 L84.96,1504.72 L85.38,1504.89 L85.79,1505.06 L86.21,1505.23 L86.63,1505.40 L87.05,1505.56 L87.48,1505.73 L87.91,1505.89 L88.34,1506.05 L88.78,1506.21 L89.21,1506.37 L89.65,1506.52 L90.10,1506.67 L90.54,1506.83 L90.99,1506.97 L91.44,1507.12 L91.89,1507.27 L92.35,1507.41 L92.81,1507.55 L93.27,1507.69 L93.73,1507.83 L94.20,1507.97 L94.67,1508.10 L95.14,1508.24 L95.61,1508.37 L96.09,1508.50 L96.57,1508.62 L97.05,1508.75 L97.54,1508.88 L98.02,1509.00 L98.51,1509.12 L99.00,1509.24 L99.50,1509.36 L99.99,1509.47 L100.49,1509.59 L101.00,1509.70 L101.50,1509.81 L102.01,1509.92 L102.51,1510.03 L103.03,1510.13 L103.54,1510.24 L104.06,1510.34 L104.57,1510.44 L105.10,1510.54 L105.62,1510.64 L106.14,1510.74 L106.67,1510.83 L107.20,1510.93 L107.74,1511.02 L108.27,1511.11 L108.81,1511.20 L109.35,1511.29 L109.89,1511.38 L110.44,1511.46 L110.98,1511.55 L111.53,1511.63 L112.08,1511.71 L112.64,1511.79 L113.19,1511.87 L113.75,1511.94 L114.31,1512.02 L114.87,1512.09 L115.44,1512.17 L116.01,1512.24 L116.58,1512.31 L117.15,1512.38 L117.72,1512.44 L118.30,1512.51 L118.88,1512.57 L119.46,1512.64 L120.04,1512.70 L120.63,1512.76 L121.22,1512.82 L121.81,1512.88 L122.40,1512.93 L122.99,1512.99 L123.59,1513.04 L124.19,1513.10 L124.79,1513.15 L125.39,1513.20 L126.00,1513.25 L126.60,1513.30 L127.21,1513.34 L127.82,1513.39 L128.44,1513.44 L129.05,1513.48 L129.67,1513.52 L130.29,1513.56 L130.91,1513.61 L131.54,1513.65 L132.17,1513.68 L132.79,1513.72 L133.42,1513.76 L134.06,1513.79 L134.69,1513.83 L135.33,1513.86 L135.97,1513.90 L136.61,1513.93 L137.25,1513.96 L137.90,1513.99 L138.55,1514.02 L139.20,1514.05 L139.85,1514.08 L140.50,1514.10 L141.16,1514.13 L141.81,1514.15 L142.47,1514.18 L143.14,1514.20 L143.80,1514.23 L144.47,1514.25 L145.13,1514.27 L145.80,1514.29 L146.48,1514.31 L147.15,1514.33 L147.83,1514.35 L148.50,1514.37 L149.18,1514.39 L149.87,1514.41 L150.55,1514.42 L151.24,1514.44 L151.93,1514.46 L152.62,1514.47 L153.31,1514.49 L154.00,1514.50 L154.70,1514.52 L155.40,1514.53 L156.10,1514.54 L156.80,1514.55 L157.50,1514.57 L158.21,1514.58 L158.91,1514.59 L159.62,1514.60 L160.34,1514.61 L161.05,1514.62 L161.77,1514.63 L162.48,1514.64 L163.20,1514.65 L163.92,1514.66 L164.65,1514.67 L165.37,1514.68 L166.10,1514.68 L166.83,1514.69 L167.56,1514.70 L168.29,1514.71 L169.03,1514.71 L169.76,1514.72 L170.50,1514.73 L171.24,1514.73 L171.99,1514.74 L172.73,1514.74 L173.48,1514.75 L174.22,1514.75 L174.97,1514.76 L175.73,1514.76 L176.48,1514.77 L177.24,1514.77 L177.99,1514.78 L178.75,1514.78 L179.51,1514.78 L180.28,1514.79 L181.04,1514.79 L181.81,1514.79 L182.58,1514.80 L183.35,1514.80 L184.12,1514.80 L184.89,1514.80 L185.67,1514.80 L186.45,1514.80 L187.23,1514.80 L188.01,1514.80 L188.79,1514.80 L189.58,1514.80 L190.36,1514.80 L191.15,1514.80 L191.94,1514.80 L192.73,1514.80 L193.53,1514.80 L194.32,1514.80 L195.12,1514.80 L195.92,1514.80 L196.72,1514.80 L197.53,1514.80 L198.33,1514.80 L199.14,1514.80 L199.95,1514.80 L200.76,1514.80 L201.57,1514.80 L202.38,1514.80 L203.20,1514.80 L204.02,1514.80 L204.84,1514.80 L205.66,1514.80 L206.48,1514.80 L207.30,1514.80 L208.13,1514.80 L208.96,1514.80 L209.79,1514.80 L210.62,1514.80 L211.45,1514.80 L212.29,1514.80 L213.12,1514.80 L213.96,1514.80 L214.80,1514.80 L215.65,1514.80 L216.49,1514.80 L217.33,1514.80 L218.18,1514.80 L219.03,1514.80 L219.88,1514.80 L220.73,1514.80 L221.59,1514.80 L222.44,1514.80 L223.30,1514.80 L224.16,1514.80 L225.02,1514.80 L225.88,1514.80 L226.75,1514.80 L227.61,1514.80 L228.48,1514.80 L229.35,1514.80 L230.22,1514.80 L231.10,1514.80 L231.97,1514.80 L232.85,1514.80 L233.73,1514.80 L234.61,1514.80 L235.49,1514.80 L236.37,1514.80 L237.25,1514.80 L238.14,1514.80 L239.03,1514.80 L239.92,1514.80 L240.81,1514.80 L241.70,1514.80 L242.60,1514.80 L243.49,1514.80 L244.39,1514.80 L245.29,1514.80 L246.19,1514.80 L247.10,1514.80 L248.00,1514.80 L248.91,1514.80 L249.82,1514.80 L250.73,1514.80 L251.64,1514.80 L252.55,1514.80 L253.47,1514.80 L254.38,1514.80 L255.30,1514.80 L256.22,1514.80 L257.14,1514.80 L258.06,1514.79 L258.99,1514.79 L259.92,1514.79 L260.84,1514.79 L261.77,1514.79 L262.70,1514.79 L263.64,1514.79 L264.57,1514.79 L265.51,1514.79 L266.44,1514.78 L267.38,1514.78 L268.32,1514.78 L269.27,1514.78 L270.21,1514.78 L271.16,1514.78 L272.10,1514.78 L273.05,1514.78 L274.00,1514.78 L274.96,1514.78 L275.91,1514.78 L276.86,1514.78 L277.82,1514.78 L278.78,1514.77 L279.74,1514.77 L280.70,1514.77 L281.66,1514.77 L282.63,1514.77 L283.60,1514.77 L284.56,1514.77 L285.53,1514.77 L286.50,1514.77 L287.48,1514.77 L288.45,1514.77 L289.43,1514.77 L290.40,1514.77 L291.38,1514.77 L292.36,1514.77 L293.35,1514.77 L294.33,1514.77 L295.32,1514.77 L296.30,1514.78 L297.29,1514.78 L298.28,1514.78 L299.27,1514.78 L300.27,1514.78 L301.26,1514.78 L302.26,1514.78 L303.25,1514.78 L304.25,1514.78 L305.26,1514.78 L306.26,1514.78 L307.26,1514.79 L308.27,1514.79 L309.27,1514.79 L310.28,1514.79 L311.29,1514.79 L312.30,1514.79 L313.32,1514.79 L314.33,1514.80 L315.35,1514.80 L316.37,1514.80" stroke="#ff0000" stroke-dasharray="2.05 2.08"/>
<path d="M62.34,1450.84 L62.36,1450.89 L62.40,1450.99 L62.45,1451.13 L62.50,1451.30 L62.57,1451.50 L62.65,1451.71 L62.74,1451.96 L62.83,1452.22 L62.93,1452.50 L63.04,1452.80 L63.16,1453.12 L63.28,1453.46 L63.40,1453.81 L63.54,1454.18 L63.68,1454.56 L63.82,1454.95 L63.97,1455.36 L64.13,1455.78 L64.29,1456.21 L64.46,1456.66 L64.63,1457.11 L64.81,1457.58 L64.99,1458.06 L65.17,1458.54 L65.36,1459.04 L65.56,1459.54 L65.76,1460.05 L65.96,1460.57 L66.17,1461.10 L66.39,1461.63 L66.60,1462.18 L66.83,1462.72 L67.05,1463.28 L67.28,1463.84 L67.52,1464.40 L67.76,1464.97 L68.00,1465.54 L68.25,1466.12 L68.50,1466.71 L68.75,1467.29 L69.01,1467.88 L69.27,1468.47 L69.54,1469.07 L69.81,1469.67 L70.08,1470.26 L70.36,1470.87 L70.64,1471.47 L70.92,1472.07 L71.21,1472.68 L71.50,1473.28 L71.79,1473.89 L72.09,1474.49 L72.39,1475.10 L72.70,1475.70 L73.01,1476.30 L73.32,1476.91 L73.63,1477.51 L73.95,1478.11 L74.27,1478.71 L74.60,1479.30 L74.93,1479.90 L75.26,1480.49 L75.60,1481.07 L75.93,1481.66 L76.27,1482.24 L76.62,1482.82 L76.97,1483.40 L77.32,1483.97 L77.67,1484.54 L78.03,1485.10 L78.39,1485.66 L78.75,1486.22 L79.12,1486.77 L79.49,1487.32 L79.86,1487.86 L80.23,1488.40 L80.61,1488.93 L80.99,1489.45 L81.38,1489.97 L81.76,1490.49 L82.15,1491.00 L82.55,1491.50 L82.94,1492.00 L83.34,1492.50 L83.74,1492.98 L84.15,1493.46 L84.55,1493.94 L84.96,1494.41 L85.38,1494.87 L85.79,1495.32 L86.21,1495.77 L86.63,1496.22 L87.05,1496.65 L87.48,1497.08 L87.91,1497.51 L88.34,1497.92 L88.78,1498.33 L89.21,1498.74 L89.65,1499.13 L90.10,1499.53 L90.54,1499.91 L90.99,1500.29 L91.44,1500.66 L91.89,1501.02 L92.35,1501.38 L92.81,1501.73 L93.27,1502.08 L93.73,1502.41 L94.20,1502.75 L94.67,1503.07 L95.14,1503.39 L95.61,1503.70 L96.09,1504.01 L96.57,1504.31 L97.05,1504.60 L97.54,1504.89 L98.02,1505.17 L98.51,1505.44 L99.00,1505.71 L99.50,1505.98 L99.99,1506.23 L100.49,1506.49 L101.00,1506.73 L101.50,1506.97 L102.01,1507.21 L102.51,1507.44 L103.03,1507.66 L103.54,1507.88 L104.06,1508.09 L104.57,1508.30 L105.10,1508.50 L105.62,1508.70 L106.14,1508.89 L106.67,1509.08 L107.20,1509.26 L107.74,1509.44 L108.27,1509.62 L108.81,1509.79 L109.35,1509.95 L109.89,1510.11 L110.44,1510.27 L110.98,1510.42 L111.53,1510.57 L112.08,1510.71 L112.64,1510.85 L113.19,1510.99 L113.75,1511.12 L114.31,1511.25 L114.87,1511.37 L115.44,1511.49 L116.01,1511.61 L116.58,1511.72 L117.15,1511.83 L117.72,1511.94 L118.30,1512.05 L118.88,1512.15 L119.46,1512.25 L120.04,1512.34 L120.63,1512.44 L121.22,1512.53 L121.81,1512.61 L122.40,1512.70 L122.99,1512.78 L123.59,1512.86 L124.19,1512.94 L124.79,1513.01 L125.39,1513.08 L126.00,1513.15 L126.60,1513.22 L127.21,1513.29 L127.82,1513.35 L128.44,1513.41 L129.05,1513.47 L129.67,1513.53 L130.29,1513.58 L130.91,1513.64 L131.54,1513.69 L132.17,1513.74 L132.79,1513.79 L133.42,1513.84 L134.06,1513.88 L134.69,1513.93 L135.33,1513.97 L135.97,1514.01 L136.61,1514.05 L137.25,1514.09 L137.90,1514.13 L138.55,1514.16 L139.20,1514.20 L139.85,1514.23 L140.50,1514.26 L141.16,1514.29 L141.81,1514.32 L142.47,1514.35 L143.14,1514.38 L143.80,1514.41 L144.47,1514.44 L145.13,1514.46 L145.80,1514.49 L146.48,1514.51 L147.15,1514.53 L147.83,1514.55 L148.50,1514.57 L149.18,1514.60 L149.87,1514.61 L150.55,1514.63 L151.24,1514.65 L151.93,1514.67 L152.62,1514.69 L153.31,1514.70 L154.00,1514.72 L154.70,1514.73 L155.40,1514.75 L156.10,1514.76 L156.80,1514.78 L157.50,1514.79 L158.21,1514.80 L158.91,1514.80 L159.62,1514.80 L160.34,1514.80 L161.05,1514.80 L161.77,1514.80 L162.48,1514.80 L163.20,1514.80 L163.92,1514.80 L164.65,1514.80 L165.37,1514.80 L166.10,1514.80 L166.83,1514.80 L167.56,1514.80 L168.29,1514.80 L169.03,1514.80 L169.76,1514.80 L170.50,1514.80 L171.24,1514.80 L171.99,1514.80 L172.73,1514.80 L173.48,1514.80 L174.22,1514.80 L174.97,1514.80 L175.73,1514.80 L176.48,1514.80 L177.24,1514.80 L177.99,1514.80 L178.75,1514.80 L179.51,1514.80 L180.28,1514.80 L181.04,1514.80 L181.81,1514.80 L182.58,1514.80 L183.35,1514.80 L184.12,1514.80 L184.89,1514.80 L185.67,1514.80 L186.45,1514.80 L187.23,1514.80 L188.01,1514.80 L188.79,1514.80 L189.58,1514.80 L190.36,1514.80 L191.15,1514.80 L191.94,1514.80 L192.73,1514.80 L193.53,1514.80 L194.32,1514.80 L195.12,1514.80 L195.92,1514.80 L196.72,1514.80 L197.53,1514.80 L198.33,1514.80 L199.14,1514.80 L199.95,1514.80 L200.76,1514.80 L201.57,1514.80 L202.38,1514.80 L203.20,1514.80 L204.02,1514.80 L204.84,1514.80 L205.66,1514.80 L206.48,1514.80 L207.30,1514.80 L208.13,1514.80 L208.96,1514.80 L209.79,1514.80 L210.62,1514.80 L211.45,1514.80 L212.29,1514.80 L213.12,1514.80 L213.96,1514.80 L214.80,1514.80 L215.65,1514.80 L216.49,1514.80 L217.33,1514.80 L218.18,1514.80 L219.03,1514.80 L219.88,1514.80 L220.73,1514.80 L221.59,1514.80 L222.44,1514.80 L223.30,1514.79 L224.16,1514.79 L225.02,1514.78 L225.88,1514.77 L226.75,1514.77 L227.61,1514.76 L228.48,1514.75 L229.35,1514.75 L230.22,1514.74 L231.10,1514.73 L231.97,1514.73 L232.85,1514.72 L233.73,1514.71 L234.61,1514.71 L235.49,1514.70 L236.37,1514.70 L237.25,1514.69 L238.14,1514.68 L239.03,1514.68 L239.92,1514.67 L240.81,1514.67 L241.70,1514.67 L242.60,1514.66 L243.49,1514.66 L244.39,1514.65 L245.29,1514.65 L246.19,1514.65 L247.10,1514.65 L248.00,1514.64 L248.91,1514.64 L249.82,1514.64 L250.73,1514.64 L251.64,1514.64 L252.55,1514.64 L253.47,1514.64 L254.38,1514.64 L255.30,1514.65 L256.22,1514.65 L257.14,1514.65 L258.06,1514.66 L258.99,1514.66 L259.92,1514.66 L260.84,1514.67 L261.77,1514.67 L262.70,1514.68 L263.64,1514.69 L264.57,1514.69 L265.51,1514.70 L266.44,1514.70 L267.38,1514.71 L268.32,1514.72 L269.27,1514.72 L270.21,1514.73 L271.16,1514.74 L272.10,1514.74 L273.05,1514.75 L274.00,1514.76 L274.96,1514.76 L275.91,1514.77 L276.86,1514.78 L277.82,1514.79 L278.78,1514.79 L279.74,1514.80 L280.70,1514.80 L281.66,1514.80 L282.63,1514.80 L283.60,1514.80 L284.56,1514.80 L285.53,1514.80 L286.50,1514.80 L287.48,1514.80 L288.45,1514.80 L289.43,1514.80 L290.40,1514.80 L291.38,1514.80 L292.36,1514.80 L293.35,1514.80 L294.33,1514.80 L295.32,1514.80 L296.30,1514.80 L297.29,1514.80 L298.28,1514.80 L299.27,1514.80 L300.27,1514.80 L301.26,1514.80 L302.26,1514.80 L303.25,1514.80 L304.25,1514.80 L305.26,1514.80 L306.26,1514.80 L307.26,1514.80 L308.27,1514.80 L309.27,1514.80 L310.28,1514.80 L311.29,1514.80 L312.30,1514.80 L313.32,1514.80 L314.33,1514.80 L315.35,1514.80 L316.37,1514.80" stroke="#00ff00" stroke-dasharray="8.22 8.37"/>
<path d="M62.34,1344.73 L62.36,1344.93 L62.40,1345.33 L62.45,1345.88 L62.50,1346.55 L62.57,1347.32 L62.65,1348.19 L62.74,1349.15 L62.83,1350.18 L62.93,1351.29 L63.04,1352.47 L63.16,1353.72 L63.28,1355.02 L63.40,1356.39 L63.54,1357.80 L63.68,1359.27 L63.82,1360.78 L63.97,1362.33 L64.13,1363.93 L64.29,1365.56 L64.46,1367.23 L64.63,1368.93 L64.81,1370.66 L64.99,1372.42 L65.17,1374.20 L65.36,1376.01 L65.56,1377.84 L65.76,1379.69 L65.96,1381.56 L66.17,1383.44 L66.39,1385.34 L66.60,1387.25 L66.83,1389.17 L67.05,1391.10 L67.28,1393.03 L67.52,1394.97 L67.76,1396.91 L68.00,1398.86 L68.25,1400.81 L68.50,1402.75 L68.75,1404.70 L69.01,1406.64 L69.27,1408.57 L69.54,1410.50 L69.81,1412.43 L70.08,1414.34 L70.36,1416.25 L70.64,1418.15 L70.92,1420.03 L71.21,1421.91 L71.50,1423.77 L71.79,1425.61 L72.09,1427.44 L72.39,1429.26 L72.70,1431.06 L73.01,1432.84 L73.32,1434.61 L73.63,1436.36 L73.95,1438.08 L74.27,1439.79 L74.60,1441.48 L74.93,1443.15 L75.26,1444.80 L75.60,1446.42 L75.93,1448.03 L76.27,1449.61 L76.62,1451.17 L76.97,1452.71 L77.32,1454.22 L77.67,1455.71 L78.03,1457.18 L78.39,1458.62 L78.75,1460.04 L79.12,1461.44 L79.49,1462.81 L79.86,1464.16 L80.23,1465.48 L80.61,1466.78 L80.99,1468.06 L81.38,1469.31 L81.76,1470.54 L82.15,1471.74 L82.55,1472.92 L82.94,1474.08 L83.34,1475.21 L83.74,1476.32 L84.15,1477.40 L84.55,1478.46 L84.96,1479.50 L85.38,1480.52 L85.79,1481.51 L86.21,1482.48 L86.63,1483.43 L87.05,1484.35 L87.48,1485.26 L87.91,1486.14 L88.34,1487.00 L88.78,1487.84 L89.21,1488.66 L89.65,1489.46 L90.10,1490.24 L90.54,1491.00 L90.99,1491.74 L91.44,1492.46 L91.89,1493.16 L92.35,1493.85 L92.81,1494.51 L93.27,1495.16 L93.73,1495.79 L94.20,1496.40 L94.67,1497.00 L95.14,1497.58 L95.61,1498.14 L96.09,1498.69 L96.57,1499.22 L97.05,1499.74 L97.54,1500.24 L98.02,1500.73 L98.51,1501.20 L99.00,1501.66 L99.50,1502.10 L99.99,1502.54 L100.49,1502.96 L101.00,1503.36 L101.50,1503.76 L102.01,1504.14 L102.51,1504.51 L103.03,1504.87 L103.54,1505.22 L104.06,1505.56 L104.57,1505.88 L105.10,1506.20 L105.62,1506.51 L106.14,1506.81 L106.67,1507.09 L107.20,1507.37 L107.74,1507.64 L108.27,1507.90 L108.81,1508.16 L109.35,1508.40 L109.89,1508.64 L110.44,1508.87 L110.98,1509.09 L111.53,1509.30 L112.08,1509.51 L112.64,1509.71 L113.19,1509.91 L113.75,1510.09 L114.31,1510.27 L114.87,1510.45 L115.44,1510.62 L116.01,1510.78 L116.58,1510.94 L117.15,1511.09 L117.72,1511.24 L118.30,1511.38 L118.88,1511.52 L119.46,1511.65 L120.04,1511.78 L120.63,1511.90 L121.22,1512.02 L121.81,1512.14 L122.40,1512.25 L122.99,1512.36 L123.59,1512.47 L124.19,1512.57 L124.79,1512.66 L125.39,1512.76 L126.00,1512.85 L126.60,1512.94 L127.21,1513.02 L127.82,1513.11 L128.44,1513.18 L129.05,1513.26 L129.67,1513.34 L130.29,1513.41 L130.91,1513.48 L131.54,1513.54 L132.17,1513.61 L132.79,1513.67 L133.42,1513.73 L134.06,1513.79 L134.69,1513.85 L135.33,1513.90 L135.97,1513.95 L136.61,1514.00 L137.25,1514.05 L137.90,1514.10 L138.55,1514.15 L139.20,1514.19 L139.85,1514.23 L140.50,1514.27 L141.16,1514.31 L141.81,1514.35 L142.47,1514.39 L143.14,1514.43 L143.80,1514.46 L144.47,1514.49 L145.13,1514.52 L145.80,1514.56 L146.48,1514.59 L147.15,1514.61 L147.83,1514.64 L148.50,1514.67 L149.18,1514.69 L149.87,1514.72 L150.55,1514.74 L151.24,1514.76 L151.93,1514.78 L152.62,1514.80 L153.31,1514.80 L154.00,1514.80 L154.70,1514.80 L155.40,1514.80 L156.10,1514.80 L156.80,1514.80 L157.50,1514.80 L158.21,1514.80 L158.91,1514.80 L159.62,1514.80 L160.34,1514.80 L161.05,1514.80 L161.77,1514.80 L162.48,1514.80 L163.20,1514.80 L163.92,1514.80 L164.65,1514.80 L165.37,1514.80 L166.10,1514.80 L166.83,1514.80 L167.56,1514.80 L168.29,1514.80 L169.03,1514.80 L169.76,1514.80 L170.50,1514.80 L171.24,1514.80 L171.99,1514.80 L172.73,1514.80 L173.48,1514.80 L174.22,1514.80 L174.97,1514.80 L175.73,1514.80 L176.48,1514.80 L177.24,1514.80 L177.99,1514.80 L178.75,1514.80 L179.51,1514.80 L180.28,1514.80 L181.04,1514.80 L181.81,1514.80 L182.58,1514.80 L183.35,1514.80 L184.12,1514.80 L184.89,1514.80 L185.67,1514.80 L186.45,1514.80 L187.23,1514.80 L188.01,1514.80 L188.79,1514.80 L189.58,1514.80 L190.36,1514.80 L191.15,1514.80 L191.94,1514.80 L192.73,1514.80 L193.53,1514.80 L194.32,1514.80 L195.12,1514.80 L195.92,1514.80 L196.72,1514.80 L197.53,1514.80 L198.33,1514.80 L199.14,1514.80 L199.95,1514.80 L200.76,1514.80 L201.57,1514.80 L202.38,1514.80 L203.20,1514.80 L204.02,1514.80 L204.84,1514.80 L205.66,1514.80 L206.48,1514.80 L207.30,1514.80 L208.13,1514.80 L208.96,1514.80 L209.79,1514.80 L210.62,1514.80 L211.45,1514.80 L212.29,1514.80 L213.12,1514.80 L213.96,1514.80 L214.80,1514.80 L215.65,1514.80 L216.49,1514.80 L217.33,1514.80 L218.18,1514.80 L219.03,1514.80 L219.88,1514.80 L220.73,1514.80 L221.59,1514.80 L222.44,1514.80 L223.30,1514.80 L224.16,1514.80 L225.02,1514.80 L225.88,1514.79 L226.75,1514.78 L227.61,1514.77 L228.48,1514.76 L229.35,1514.75 L230.22,1514.75 L231.10,1514.74 L231.97,1514.73 L232.85,1514.73 L233.73,1514.72 L234.61,1514.71 L235.49,1514.71 L236.37,1514.70 L237.25,1514.69 L238.14,1514.69 L239.03,1514.68 L239.92,1514.68 L240.81,1514.68 L241.70,1514.67 L242.60,1514.67 L243.49,1514.66 L244.39,1514.66 L245.29,1514.66 L246.19,1514.65 L247.10,1514.65 L248.00,1514.65 L248.91,1514.65 L249.82,1514.65 L250.73,1514.64 L251.64,1514.64 L252.55,1514.64 L253.47,1514.64 L254.38,1514.64 L255.30,1514.64 L256.22,1514.64 L257.14,1514.64 L258.06,1514.64 L258.99,1514.64 L259.92,1514.64 L260.84,1514.64 L261.77,1514.64 L262.70,1514.64 L263.64,1514.65 L264.57,1514.65 L265.51,1514.65 L266.44,1514.65 L267.38,1514.65 L268.32,1514.66 L269.27,1514.66 L270.21,1514.66 L271.16,1514.66 L272.10,1514.67 L273.05,1514.67 L274.00,1514.67 L274.96,1514.67 L275.91,1514.68 L276.86,1514.68 L277.82,1514.68 L278.78,1514.69 L279.74,1514.69 L280.70,1514.70 L281.66,1514.70 L282.63,1514.70 L283.60,1514.71 L284.56,1514.71 L285.53,1514.71 L286.50,1514.72 L287.48,1514.72 L288.45,1514.72 L289.43,1514.73 L290.40,1514.73 L291.38,1514.74 L292.36,1514.74 L293.35,1514.74 L294.33,1514.75 L295.32,1514.75 L296.30,1514.75 L297.29,1514.76 L298.28,1514.76 L299.27,1514.76 L300.27,1514.77 L301.26,1514.77 L302.26,1514.77 L303.25,1514.78 L304.25,1514.78 L305.26,1514.78 L306.26,1514.79 L307.26,1514.79 L308.27,1514.79 L309.27,1514.79 L310.28,1514.79 L311.29,1514.80 L312.30,1514.80 L313.32,1514.80 L314.33,1514.80 L315.35,1514.80 L316.37,1514.80" stroke="#0000ff" stroke-dasharray="8.22 2.05 4.11 2.21"/>
<path d="M62.34,1143.97 L62.36,1144.43 L62.40,1145.35 L62.45,1146.62 L62.50,1148.16 L62.57,1149.96 L62.65,1151.99 L62.74,1154.22 L62.83,1156.65 L62.93,1159.26 L63.04,1162.05 L63.16,1165.00 L63.28,1168.11 L63.40,1171.37 L63.54,1174.76 L63.68,1178.29 L63.82,1181.94 L63.97,1185.72 L64.13,1189.61 L64.29,1193.60 L64.46,1197.70 L64.63,1201.89 L64.81,1206.17 L64.99,1210.53 L65.17,1214.96 L65.36,1219.47 L65.56,1224.03 L65.76,1228.66 L65.96,1233.33 L66.17,1238.05 L66.39,1242.80 L66.60,1247.59 L66.83,1252.40 L67.05,1257.23 L67.28,1262.07 L67.52,1266.92 L67.76,1271.77 L68.00,1276.62 L68.25,1281.45 L68.50,1286.27 L68.75,1291.06 L69.01,1295.83 L69.27,1300.56 L69.54,1305.26 L69.81,1309.91 L70.08,1314.52 L70.36,1319.07 L70.64,1323.57 L70.92,1328.00 L71.21,1332.38 L71.50,1336.68 L71.79,1340.92 L72.09,1345.10 L72.39,1349.21 L72.70,1353.24 L73.01,1357.22 L73.32,1361.12 L73.63,1364.95 L73.95,1368.72 L74.27,1372.42 L74.60,1376.05 L74.93,1379.61 L75.26,1383.10 L75.60,1386.53 L75.93,1389.89 L76.27,1393.19 L76.62,1396.41 L76.97,1399.58 L77.32,1402.67 L77.67,1405.71 L78.03,1408.68 L78.39,1411.59 L78.75,1414.43 L79.12,1417.22 L79.49,1419.94 L79.86,1422.61 L80.23,1425.22 L80.61,1427.77 L80.99,1430.26 L81.38,1432.70 L81.76,1435.08 L82.15,1437.41 L82.55,1439.69 L82.94,1441.91 L83.34,1444.08 L83.74,1446.21 L84.15,1448.28 L84.55,1450.30 L84.96,1452.28 L85.38,1454.21 L85.79,1456.09 L86.21,1457.92 L86.63,1459.71 L87.05,1461.46 L87.48,1463.15 L87.91,1464.81 L88.34,1466.42 L88.78,1467.99 L89.21,1469.52 L89.65,1471.00 L90.10,1472.45 L90.54,1473.86 L90.99,1475.22 L91.44,1476.55 L91.89,1477.84 L92.35,1479.10 L92.81,1480.32 L93.27,1481.50 L93.73,1482.65 L94.20,1483.77 L94.67,1484.85 L95.14,1485.91 L95.61,1486.93 L96.09,1487.92 L96.57,1488.88 L97.05,1489.81 L97.54,1490.71 L98.02,1491.58 L98.51,1492.43 L99.00,1493.25 L99.50,1494.04 L99.99,1494.81 L100.49,1495.56 L101.00,1496.28 L101.50,1496.98 L102.01,1497.66 L102.51,1498.31 L103.03,1498.94 L103.54,1499.55 L104.06,1500.15 L104.57,1500.72 L105.10,1501.27 L105.62,1501.81 L106.14,1502.32 L106.67,1502.82 L107.20,1503.31 L107.74,1503.77 L108.27,1504.22 L108.81,1504.66 L109.35,1505.08 L109.89,1505.49 L110.44,1505.88 L110.98,1506.26 L111.53,1506.62 L112.08,1506.98 L112.64,1507.32 L113.19,1507.64 L113.75,1507.96 L114.31,1508.27 L114.87,1508.56 L115.44,1508.84 L116.01,1509.12 L116.58,1509.38 L117.15,1509.64 L117.72,1509.88 L118.30,1510.12 L118.88,1510.35 L119.46,1510.57 L120.04,1510.78 L120.63,1510.98 L121.22,1511.18 L121.81,1511.37 L122.40,1511.55 L122.99,1511.72 L123.59,1511.89 L124.19,1512.05 L124.79,1512.21 L125.39,1512.36 L126.00,1512.50 L126.60,1512.64 L127.21,1512.77 L127.82,1512.90 L128.44,1513.02 L129.05,1513.14 L129.67,1513.25 L130.29,1513.36 L130.91,1513.47 L131.54,1513.57 L132.17,1513.66 L132.79,1513.76 L133.42,1513.85 L134.06,1513.93 L134.69,1514.01 L135.33,1514.09 L135.97,1514.17 L136.61,1514.24 L137.25,1514.31 L137.90,1514.38 L138.55,1514.44 L139.20,1514.51 L139.85,1514.56 L140.50,1514.62 L141.16,1514.68 L141.81,1514.73 L142.47,1514.78 L143.14,1514.80 L143.80,1514.80 L144.47,1514.80 L145.13,1514.80 L145.80,1514.80 L146.48,1514.80 L147.15,1514.80 L147.83,1514.80 L148.50,1514.80 L149.18,1514.80 L149.87,1514.80 L150.55,1514.80 L151.24,1514.80 L151.93,1514.80 L152.62,1514.80 L153.31,1514.80 L154.00,1514.80 L154.70,1514.80 L155.40,1514.80 L156.10,1514.80 L156.80,1514.80 L157.50,1514.80 L158.21,1514.80 L158.91,1514.80 L159.62,1514.80 L160.34,1514.80 L161.05,1514.80 L161.77,1514.80 L162.48,1514.80 L163.20,1514.80 L163.92,1514.80 L164.65,1514.80 L165.37,1514.80 L166.10,1514.80 L166.83,1514.80 L167.56,1514.80 L168.29,1514.80 L169.03,1514.80 L169.76,1514.80 L170.50,1514.80 L171.24,1514.80 L171.99,1514.80 L172.73,1514.80 L173.48,1514.80 L174.22,1514.80 L174.97,1514.80 L175.73,1514.80 L176.48,1514.80 L177.24,1514.80 L177.99,1514.80 L178.75,1514.80 L179.51,1514.80 L180.28,1514.80 L181.04,1514.80 L181.81,1514.80 L182.58,1514.80 L183.35,1514.80 L184.12,1514.80 L184.89,1514.80 L185.67,1514.80 L186.45,1514.80 L187.23,1514.80 L188.01,1514.80 L188.79,1514.80 L189.58,1514.80 L190.36,1514.80 L191.15,1514.80 L191.94,1514.80 L192.73,1514.80 L193.53,1514.80 L194.32,1514.80 L195.12,1514.80 L195.92,1514.80 L196.72,1514.80 L197.53,1514.80 L198.33,1514.80 L199.14,1514.80 L199.95,1514.80 L200.76,1514.80 L201.57,1514.80 L202.38,1514.80 L203.20,1514.80 L204.02,1514.77 L204.84,1514.74 L205.66,1514.72 L206.48,1514.69 L207.30,1514.66 L208.13,1514.63 L208.96,1514.60 L209.79,1514.58 L210.62,1514.55 L211.45,1514.52 L212.29,1514.49 L213.12,1514.47 L213.96,1514.44 L214.80,1514.41 L215.65,1514.39 L216.49,1514.36 L217.33,1514.34 L218.18,1514.32 L219.03,1514.29 L219.88,1514.27 L220.73,1514.25 L221.59,1514.23 L222.44,1514.21 L223.30,1514.19 L224.16,1514.17 L225.02,1514.16 L225.88,1514.14 L226.75,1514.13 L227.61,1514.12 L228.48,1514.11 L229.35,1514.10 L230.22,1514.09 L231.10,1514.08 L231.97,1514.08 L232.85,1514.08 L233.73,1514.08 L234.61,1514.08 L235.49,1514.08 L236.37,1514.09 L237.25,1514.09 L238.14,1514.10 L239.03,1514.11 L239.92,1514.12 L240.81,1514.13 L241.70,1514.15 L242.60,1514.16 L243.49,1514.18 L244.39,1514.19 L245.29,1514.21 L246.19,1514.23 L247.10,1514.25 L248.00,1514.27 L248.91,1514.29 L249.82,1514.32 L250.73,1514.34 L251.64,1514.36 L252.55,1514.39 L253.47,1514.41 L254.38,1514.44 L255.30,1514.46 L256.22,1514.49 L257.14,1514.52 L258.06,1514.54 L258.99,1514.57 L259.92,1514.60 L260.84,1514.63 L261.77,1514.65 L262.70,1514.68 L263.64,1514.71 L264.57,1514.74 L265.51,1514.76 L266.44,1514.79 L267.38,1514.80 L268.32,1514.80 L269.27,1514.80 L270.21,1514.80 L271.16,1514.80 L272.10,1514.80 L273.05,1514.80 L274.00,1514.80 L274.96,1514.80 L275.91,1514.80 L276.86,1514.80 L277.82,1514.80 L278.78,1514.80 L279.74,1514.80 L280.70,1514.80 L281.66,1514.80 L282.63,1514.80 L283.60,1514.80 L284.56,1514.80 L285.53,1514.80 L286.50,1514.80 L287.48,1514.80 L288.45,1514.80 L289.43,1514.80 L290.40,1514.80 L291.38,1514.80 L292.36,1514.80 L293.35,1514.80 L294.33,1514.80 L295.32,1514.80 L296.30,1514.80 L297.29,1514.80 L298.28,1514.80 L299.27,1514.80 L300.27,1514.80 L301.26,1514.80 L302.26,1514.80 L303.25,1514.80 L304.25,1514.80 L305.26,1514.80 L306.26,1514.80 L307.26,1514.80 L308.27,1514.80 L309.27,1514.80 L310.28,1514.80 L311.29,1514.80 L312.30,1514.80 L313.32,1514.80 L314.33,1514.80 L315.35,1514.80 L316.37,1514.79" stroke="#00ffff"/>
</g>
<rect x="231.90" y="1153.90" width="156.40" height="95.00" fill="#fff" stroke="#0a0a0a" stroke-width="1.35"/>
<g transform="scale(1.28,1)" fill="none" stroke-width="2.9160000000000004">
<path d="M189.61,1167.80H228.93" stroke="#ff0000" stroke-dasharray="2.05 2.08"/>
<path d="M189.61,1190.30H232.81" stroke="#00ff00" stroke-dasharray="8.22 8.37"/>
<path d="M189.61,1212.90H232.81" stroke="#0000ff" stroke-dasharray="8.22 2.05 4.11 2.21"/>
<path d="M189.61,1235.40H232.81" stroke="#00ffff"/>
</g>
<text transform="translate(301.65,1174.65) scale(1.3109,1.0000)" font-size="19.03" text-anchor="start" font-family="Liberation Serif" font-weight="bold" font-style="italic"  xml:space="preserve">M</text>
<text transform="translate(328.75,1174.65) scale(1.5308,1.0000)" font-size="19.03" text-anchor="start" font-family="Liberation Serif" font-weight="bold" font-style="italic"  xml:space="preserve">=</text>
<text transform="translate(350.95,1174.65) scale(1.3159,1.0000)" font-size="19.03" text-anchor="start" font-family="Liberation Serif" font-weight="bold" font-style="italic"  xml:space="preserve">0.5</text>
<text transform="translate(301.65,1197.15) scale(1.3109,1.0000)" font-size="19.03" text-anchor="start" font-family="Liberation Serif" font-weight="bold" font-style="italic"  xml:space="preserve">M</text>
<text transform="translate(328.75,1197.15) scale(1.5308,1.0000)" font-size="19.03" text-anchor="start" font-family="Liberation Serif" font-weight="bold" font-style="italic"  xml:space="preserve">=</text>
<text transform="translate(351.20,1197.15) scale(1.3159,1.0000)" font-size="19.03" text-anchor="start" font-family="Liberation Serif" font-weight="bold" font-style="italic"  xml:space="preserve">1.0</text>
<text transform="translate(301.65,1219.65) scale(1.3109,1.0000)" font-size="19.03" text-anchor="start" font-family="Liberation Serif" font-weight="bold" font-style="italic"  xml:space="preserve">M</text>
<text transform="translate(328.75,1219.65) scale(1.5308,1.0000)" font-size="19.03" text-anchor="start" font-family="Liberation Serif" font-weight="bold" font-style="italic"  xml:space="preserve">=</text>
<text transform="translate(351.20,1219.65) scale(1.3159,1.0000)" font-size="19.03" text-anchor="start" font-family="Liberation Serif" font-weight="bold" font-style="italic"  xml:space="preserve">1.5</text>
<text transform="translate(301.65,1242.15) scale(1.3109,1.0000)" font-size="19.03" text-anchor="start" font-family="Liberation Serif" font-weight="bold" font-style="italic"  xml:space="preserve">M</text>
<text transform="translate(328.75,1242.15) scale(1.5308,1.0000)" font-size="19.03" text-anchor="start" font-family="Liberation Serif" font-weight="bold" font-style="italic"  xml:space="preserve">=</text>
<text transform="translate(351.95,1242.15) scale(1.3159,1.0000)" font-size="19.03" text-anchor="start" font-family="Liberation Serif" font-weight="bold" font-style="italic"  xml:space="preserve">2.0</text>
<g transform="scale(1.28,1)"><path d="M79.22,1502.80L107.40,1469.54" stroke="#000" stroke-width="1.42" fill="none"/><path d="M115.23,1460.30L108.85,1476.63L107.40,1469.54L100.17,1469.28Z" fill="#000"/></g>
<text transform="translate(57.02,1521.97) scale(1.3900,1.0000)" font-size="19.60" text-anchor="start" font-family="Liberation Serif" font-weight="bold" font-style="italic"  xml:space="preserve">0</text>
<text transform="translate(57.30,1459.86) scale(1.3900,1.0000)" font-size="19.60" text-anchor="start" font-family="Liberation Serif" font-weight="bold" font-style="italic"  xml:space="preserve">5</text>
<text transform="translate(43.40,1397.66) scale(1.3900,1.0000)" font-size="19.60" text-anchor="start" font-family="Liberation Serif" font-weight="bold" font-style="italic"  xml:space="preserve">10</text>
<text transform="translate(43.67,1335.54) scale(1.3900,1.0000)" font-size="19.60" text-anchor="start" font-family="Liberation Serif" font-weight="bold" font-style="italic"  xml:space="preserve">15</text>
<text transform="translate(43.40,1273.14) scale(1.3900,1.0000)" font-size="19.60" text-anchor="start" font-family="Liberation Serif" font-weight="bold" font-style="italic"  xml:space="preserve">20</text>
<text transform="translate(43.67,1211.03) scale(1.3900,1.0000)" font-size="19.60" text-anchor="start" font-family="Liberation Serif" font-weight="bold" font-style="italic"  xml:space="preserve">25</text>
<text transform="translate(43.40,1148.72) scale(1.3900,1.0000)" font-size="19.60" text-anchor="start" font-family="Liberation Serif" font-weight="bold" font-style="italic"  xml:space="preserve">30</text>
<text transform="translate(72.85,1541.90) scale(1.3900,1.0000)" font-size="19.60" text-anchor="start" font-family="Liberation Serif" font-weight="bold" font-style="italic"  xml:space="preserve">0</text>
<text transform="translate(181.78,1541.90) scale(1.3900,1.0000)" font-size="19.60" text-anchor="start" font-family="Liberation Serif" font-weight="bold" font-style="italic"  xml:space="preserve">2</text>
<text transform="translate(290.30,1541.90) scale(1.3900,1.0000)" font-size="19.60" text-anchor="start" font-family="Liberation Serif" font-weight="bold" font-style="italic"  xml:space="preserve">4</text>
<text transform="translate(397.73,1541.90) scale(1.3900,1.0000)" font-size="19.60" text-anchor="start" font-family="Liberation Serif" font-weight="bold" font-style="italic"  xml:space="preserve">6</text>
<text transform="translate(241.83,1566.95) scale(1.5052,1.0000)" font-size="18.82" text-anchor="start" font-family="Liberation Serif" font-weight="bold" font-style="italic"  xml:space="preserve">η</text>
<text transform="translate(30.54,1350.69) scale(1.3000,1.0000) rotate(-90)" font-size="21.45" text-anchor="start" font-family="Liberation Serif" font-weight="bold" font-style="italic"  xml:space="preserve">Ns(η)</text>
<text transform="translate(-0.48,1121.60) scale(1.0000,1.0000)" font-size="42.50" text-anchor="start" font-family="Liberation Sans" font-weight="bold"  xml:space="preserve">E</text>
<path d="M619.25,1152.65V1504.25M734.30,1152.65V1504.25M504.20,1435.95H849.35M504.20,1367.65H849.35M504.20,1299.35H849.35M504.20,1231.06H849.35M504.20,1162.76H849.35" stroke="#d8d8d8" stroke-width="0.9" fill="none"/>
<path d="M619.25,1504.25v-4.6M619.25,1152.65v4.6M734.30,1504.25v-4.6M734.30,1152.65v4.6M504.20,1435.95h4.6M849.35,1435.95h-4.6M504.20,1367.65h4.6M849.35,1367.65h-4.6M504.20,1299.35h4.6M849.35,1299.35h-4.6M504.20,1231.06h4.6M849.35,1231.06h-4.6M504.20,1162.76h4.6M849.35,1162.76h-4.6" stroke="#0a0a0a" stroke-width="1.35" fill="none"/>
<rect x="504.20" y="1152.65" width="345.15" height="351.60" fill="none" stroke="#0a0a0a" stroke-width="1.35"/>
<g transform="scale(1.137,1)" fill="none" stroke-width="3.132">
<path d="M443.45,1443.47 L444.21,1442.15 L444.97,1440.76 L445.73,1439.30 L446.49,1437.78 L447.25,1436.21 L448.01,1434.59 L448.77,1432.93 L449.53,1431.25 L450.29,1429.54 L451.06,1427.82 L451.82,1426.10 L452.58,1424.38 L453.34,1422.67 L454.10,1420.97 L454.86,1419.31 L455.62,1417.68 L456.38,1416.09 L457.14,1414.55 L457.90,1413.04 L458.66,1411.57 L459.42,1410.13 L460.19,1408.70 L460.95,1407.29 L461.71,1405.89 L462.47,1404.48 L463.23,1403.08 L463.99,1401.65 L464.75,1400.22 L465.51,1398.75 L466.27,1397.26 L467.03,1395.73 L467.79,1394.15 L468.55,1392.52 L469.32,1390.84 L470.08,1389.11 L470.84,1387.31 L471.60,1385.47 L472.36,1383.58 L473.12,1381.64 L473.88,1379.66 L474.64,1377.64 L475.40,1375.58 L476.16,1373.49 L476.92,1371.36 L477.68,1369.20 L478.44,1367.01 L479.21,1364.80 L479.97,1362.57 L480.73,1360.31 L481.49,1358.03 L482.25,1355.74 L483.01,1353.44 L483.77,1351.12 L484.53,1348.78 L485.29,1346.44 L486.05,1344.08 L486.81,1341.71 L487.57,1339.33 L488.34,1336.95 L489.10,1334.55 L489.86,1332.14 L490.62,1329.73 L491.38,1327.31 L492.14,1324.89 L492.90,1322.46 L493.66,1320.03 L494.42,1317.59 L495.18,1315.15 L495.94,1312.71 L496.70,1310.27 L497.46,1307.83 L498.23,1305.39 L498.99,1302.95 L499.75,1300.51 L500.51,1298.08 L501.27,1295.65 L502.03,1293.23 L502.79,1290.81 L503.55,1288.39 L504.31,1285.98 L505.07,1283.59 L505.83,1281.19 L506.59,1278.81 L507.36,1276.44 L508.12,1274.08 L508.88,1271.74 L509.64,1269.41 L510.40,1267.11 L511.16,1264.83 L511.92,1262.57 L512.68,1260.35 L513.44,1258.15 L514.20,1255.99 L514.96,1253.87 L515.72,1251.79 L516.49,1249.75 L517.25,1247.76 L518.01,1245.82 L518.77,1243.92 L519.53,1242.08 L520.29,1240.29 L521.05,1238.54 L521.81,1236.79 L522.57,1235.05 L523.33,1233.28 L524.09,1231.47 L524.85,1229.60 L525.61,1227.67 L526.38,1225.71 L527.14,1223.74 L527.90,1221.77 L528.66,1219.82 L529.42,1217.93 L530.18,1216.10 L530.94,1214.36 L531.70,1212.72 L532.46,1211.21 L533.22,1209.83 L533.98,1208.57 L534.74,1207.42 L535.51,1206.37 L536.27,1205.41 L537.03,1204.53 L537.79,1203.71 L538.55,1202.95 L539.31,1202.24 L540.07,1201.57 L540.83,1200.93 L541.59,1200.30 L542.35,1199.68 L543.11,1199.06 L543.87,1198.42 L544.64,1197.76 L545.40,1197.07 L546.16,1196.35 L546.92,1195.60 L547.68,1194.83 L548.44,1194.04 L549.20,1193.24 L549.96,1192.43 L550.72,1191.60 L551.48,1190.78 L552.24,1189.95 L553.00,1189.12 L553.76,1188.31 L554.53,1187.50 L555.29,1186.71 L556.05,1185.93 L556.81,1185.18 L557.57,1184.45 L558.33,1183.75 L559.09,1183.07 L559.85,1182.42 L560.61,1181.80 L561.37,1181.19 L562.13,1180.62 L562.89,1180.06 L563.66,1179.52 L564.42,1179.00 L565.18,1178.50 L565.94,1178.02 L566.70,1177.56 L567.46,1177.11 L568.22,1176.68 L568.98,1176.27 L569.74,1175.86 L570.50,1175.47 L571.26,1175.09 L572.02,1174.73 L572.78,1174.37 L573.55,1174.03 L574.31,1173.69 L575.07,1173.37 L575.83,1173.06 L576.59,1172.76 L577.35,1172.46 L578.11,1172.18 L578.87,1171.91 L579.63,1171.64 L580.39,1171.39 L581.15,1171.14 L581.91,1170.90 L582.68,1170.67 L583.44,1170.44 L584.20,1170.22 L584.96,1170.01 L585.72,1169.81 L586.48,1169.61 L587.24,1169.42 L588.00,1169.23 L588.76,1169.05 L589.52,1168.87 L590.28,1168.70 L591.04,1168.53 L591.81,1168.37 L592.57,1168.21 L593.33,1168.06 L594.09,1167.90 L594.85,1167.75 L595.61,1167.61 L596.37,1167.46 L597.13,1167.32 L597.89,1167.18 L598.65,1167.04 L599.41,1166.91 L600.17,1166.78 L600.93,1166.65 L601.70,1166.52 L602.46,1166.40 L603.22,1166.27 L603.98,1166.15 L604.74,1166.03 L605.50,1165.92 L606.26,1165.80 L607.02,1165.69 L607.78,1165.58 L608.54,1165.48 L609.30,1165.37 L610.06,1165.27 L610.83,1165.17 L611.59,1165.07 L612.35,1164.97 L613.11,1164.88 L613.87,1164.79 L614.63,1164.70 L615.39,1164.61 L616.15,1164.52 L616.91,1164.44 L617.67,1164.36 L618.43,1164.28 L619.19,1164.20 L619.95,1164.12 L620.72,1164.05 L621.48,1163.97 L622.24,1163.90 L623.00,1163.83 L623.76,1163.77 L624.52,1163.70 L625.28,1163.64 L626.04,1163.58 L626.80,1163.51 L627.56,1163.46 L628.32,1163.40 L629.08,1163.34 L629.85,1163.29 L630.61,1163.24 L631.37,1163.19 L632.13,1163.14 L632.89,1163.09 L633.65,1163.05 L634.41,1163.00 L635.17,1162.96 L635.93,1162.92 L636.69,1162.88 L637.45,1162.84 L638.21,1162.80 L638.98,1162.77 L639.74,1162.73 L640.50,1162.70 L641.26,1162.67 L642.02,1162.64 L642.78,1162.61 L643.54,1162.59 L644.30,1162.56 L645.06,1162.53 L645.82,1162.51 L646.58,1162.49 L647.34,1162.47 L648.10,1162.45 L648.87,1162.43 L649.63,1162.41 L650.39,1162.40 L651.15,1162.38 L651.91,1162.37 L652.67,1162.35 L653.43,1162.34 L654.19,1162.33 L654.95,1162.32 L655.71,1162.31 L656.47,1162.30 L657.23,1162.30 L658.00,1162.29 L658.76,1162.28 L659.52,1162.28 L660.28,1162.28 L661.04,1162.27 L661.80,1162.27 L662.56,1162.27 L663.32,1162.27 L664.08,1162.27 L664.84,1162.27 L665.60,1162.28 L666.36,1162.28 L667.12,1162.28 L667.89,1162.29 L668.65,1162.29 L669.41,1162.30 L670.17,1162.30 L670.93,1162.31 L671.69,1162.32 L672.45,1162.32 L673.21,1162.33 L673.97,1162.34 L674.73,1162.35 L675.49,1162.36 L676.25,1162.37 L677.02,1162.38 L677.78,1162.39 L678.54,1162.41 L679.30,1162.42 L680.06,1162.43 L680.82,1162.44 L681.58,1162.46 L682.34,1162.47 L683.10,1162.49 L683.86,1162.50 L684.62,1162.51 L685.38,1162.53 L686.15,1162.54 L686.91,1162.56 L687.67,1162.57 L688.43,1162.59 L689.19,1162.60 L689.95,1162.62 L690.71,1162.64 L691.47,1162.65 L692.23,1162.67 L692.99,1162.68 L693.75,1162.70 L694.51,1162.72 L695.27,1162.73 L696.04,1162.75 L696.80,1162.76 L697.56,1162.78 L698.32,1162.80 L699.08,1162.81 L699.84,1162.83 L700.60,1162.84 L701.36,1162.86 L702.12,1162.87 L702.88,1162.89 L703.64,1162.90 L704.40,1162.92 L705.17,1162.93 L705.93,1162.95 L706.69,1162.96 L707.45,1162.97 L708.21,1162.99 L708.97,1163.00 L709.73,1163.01 L710.49,1163.02 L711.25,1163.03 L712.01,1163.05 L712.77,1163.06 L713.53,1163.07 L714.29,1163.08 L715.06,1163.09 L715.82,1163.09 L716.58,1163.10 L717.34,1163.11 L718.10,1163.12 L718.86,1163.12 L719.62,1163.13 L720.38,1163.13 L721.14,1163.14 L721.90,1163.14 L722.66,1163.14 L723.42,1163.15 L724.19,1163.15 L724.95,1163.15 L725.71,1163.15 L726.47,1163.15 L727.23,1163.15 L727.99,1163.14 L728.75,1163.14 L729.51,1163.14 L730.27,1163.13 L731.03,1163.13 L731.79,1163.12 L732.55,1163.11 L733.32,1163.10 L734.08,1163.09 L734.84,1163.08 L735.60,1163.07 L736.36,1163.06 L737.12,1163.04 L737.88,1163.03 L738.64,1163.01 L739.40,1162.99 L740.16,1162.98 L740.92,1162.96 L741.68,1162.94 L742.44,1162.91 L743.21,1162.89 L743.97,1162.87 L744.73,1162.84 L745.49,1162.81 L746.25,1162.78 L747.01,1162.76" stroke="#ff0000" stroke-dasharray="2.21 2.24"/>
<path d="M443.45,1446.20 L444.21,1444.46 L444.97,1442.73 L445.73,1441.02 L446.49,1439.34 L447.25,1437.67 L448.01,1436.01 L448.77,1434.37 L449.53,1432.73 L450.29,1431.11 L451.06,1429.50 L451.82,1427.90 L452.58,1426.30 L453.34,1424.70 L454.10,1423.10 L454.86,1421.51 L455.62,1419.91 L456.38,1418.32 L457.14,1416.71 L457.90,1415.10 L458.66,1413.49 L459.42,1411.86 L460.19,1410.22 L460.95,1408.57 L461.71,1406.91 L462.47,1405.23 L463.23,1403.53 L463.99,1401.82 L464.75,1400.08 L465.51,1398.32 L466.27,1396.54 L467.03,1394.73 L467.79,1392.89 L468.55,1391.03 L469.32,1389.13 L470.08,1387.21 L470.84,1385.25 L471.60,1383.26 L472.36,1381.24 L473.12,1379.19 L473.88,1377.11 L474.64,1375.00 L475.40,1372.85 L476.16,1370.68 L476.92,1368.47 L477.68,1366.24 L478.44,1363.97 L479.21,1361.67 L479.97,1359.34 L480.73,1356.98 L481.49,1354.58 L482.25,1352.16 L483.01,1349.71 L483.77,1347.23 L484.53,1344.73 L485.29,1342.20 L486.05,1339.66 L486.81,1337.10 L487.57,1334.52 L488.34,1331.94 L489.10,1329.34 L489.86,1326.74 L490.62,1324.13 L491.38,1321.53 L492.14,1318.92 L492.90,1316.31 L493.66,1313.71 L494.42,1311.12 L495.18,1308.53 L495.94,1305.96 L496.70,1303.40 L497.46,1300.86 L498.23,1298.34 L498.99,1295.84 L499.75,1293.36 L500.51,1290.90 L501.27,1288.45 L502.03,1286.03 L502.79,1283.62 L503.55,1281.22 L504.31,1278.84 L505.07,1276.47 L505.83,1274.12 L506.59,1271.78 L507.36,1269.45 L508.12,1267.14 L508.88,1264.83 L509.64,1262.54 L510.40,1260.27 L511.16,1258.01 L511.92,1255.77 L512.68,1253.54 L513.44,1251.33 L514.20,1249.14 L514.96,1246.97 L515.72,1244.82 L516.49,1242.69 L517.25,1240.58 L518.01,1238.50 L518.77,1236.43 L519.53,1234.39 L520.29,1232.38 L521.05,1230.39 L521.81,1228.42 L522.57,1226.49 L523.33,1224.59 L524.09,1222.72 L524.85,1220.88 L525.61,1219.07 L526.38,1217.30 L527.14,1215.57 L527.90,1213.88 L528.66,1212.22 L529.42,1210.61 L530.18,1209.04 L530.94,1207.52 L531.70,1206.04 L532.46,1204.60 L533.22,1203.22 L533.98,1201.88 L534.74,1200.58 L535.51,1199.33 L536.27,1198.11 L537.03,1196.94 L537.79,1195.81 L538.55,1194.71 L539.31,1193.65 L540.07,1192.63 L540.83,1191.64 L541.59,1190.69 L542.35,1189.76 L543.11,1188.87 L543.87,1188.01 L544.64,1187.17 L545.40,1186.36 L546.16,1185.57 L546.92,1184.81 L547.68,1184.08 L548.44,1183.36 L549.20,1182.67 L549.96,1181.99 L550.72,1181.33 L551.48,1180.69 L552.24,1180.07 L553.00,1179.46 L553.76,1178.86 L554.53,1178.27 L555.29,1177.70 L556.05,1177.13 L556.81,1176.57 L557.57,1176.02 L558.33,1175.48 L559.09,1174.94 L559.85,1174.41 L560.61,1173.89 L561.37,1173.37 L562.13,1172.87 L562.89,1172.38 L563.66,1171.90 L564.42,1171.44 L565.18,1170.98 L565.94,1170.55 L566.70,1170.12 L567.46,1169.71 L568.22,1169.32 L568.98,1168.95 L569.74,1168.59 L570.50,1168.26 L571.26,1167.94 L572.02,1167.64 L572.78,1167.35 L573.55,1167.09 L574.31,1166.84 L575.07,1166.60 L575.83,1166.38 L576.59,1166.18 L577.35,1165.99 L578.11,1165.81 L578.87,1165.65 L579.63,1165.50 L580.39,1165.36 L581.15,1165.23 L581.91,1165.11 L582.68,1165.00 L583.44,1164.91 L584.20,1164.82 L584.96,1164.74 L585.72,1164.66 L586.48,1164.60 L587.24,1164.54 L588.00,1164.48 L588.76,1164.44 L589.52,1164.39 L590.28,1164.36 L591.04,1164.32 L591.81,1164.29 L592.57,1164.26 L593.33,1164.23 L594.09,1164.21 L594.85,1164.19 L595.61,1164.16 L596.37,1164.14 L597.13,1164.12 L597.89,1164.09 L598.65,1164.07 L599.41,1164.05 L600.17,1164.02 L600.93,1164.00 L601.70,1163.98 L602.46,1163.96 L603.22,1163.93 L603.98,1163.91 L604.74,1163.89 L605.50,1163.87 L606.26,1163.84 L607.02,1163.82 L607.78,1163.80 L608.54,1163.78 L609.30,1163.76 L610.06,1163.74 L610.83,1163.72 L611.59,1163.69 L612.35,1163.67 L613.11,1163.65 L613.87,1163.63 L614.63,1163.61 L615.39,1163.59 L616.15,1163.57 L616.91,1163.55 L617.67,1163.53 L618.43,1163.51 L619.19,1163.49 L619.95,1163.47 L620.72,1163.45 L621.48,1163.43 L622.24,1163.41 L623.00,1163.39 L623.76,1163.37 L624.52,1163.35 L625.28,1163.34 L626.04,1163.32 L626.80,1163.30 L627.56,1163.28 L628.32,1163.26 L629.08,1163.24 L629.85,1163.23 L630.61,1163.21 L631.37,1163.19 L632.13,1163.17 L632.89,1163.16 L633.65,1163.14 L634.41,1163.12 L635.17,1163.11 L635.93,1163.09 L636.69,1163.07 L637.45,1163.06 L638.21,1163.04 L638.98,1163.02 L639.74,1163.01 L640.50,1162.99 L641.26,1162.98 L642.02,1162.96 L642.78,1162.95 L643.54,1162.93 L644.30,1162.92 L645.06,1162.90 L645.82,1162.89 L646.58,1162.87 L647.34,1162.86 L648.10,1162.84 L648.87,1162.83 L649.63,1162.81 L650.39,1162.80 L651.15,1162.79 L651.91,1162.77 L652.67,1162.76 L653.43,1162.75 L654.19,1162.74 L654.95,1162.72 L655.71,1162.71 L656.47,1162.70 L657.23,1162.69 L658.00,1162.67 L658.76,1162.66 L659.52,1162.65 L660.28,1162.64 L661.04,1162.63 L661.80,1162.62 L662.56,1162.61 L663.32,1162.60 L664.08,1162.59 L664.84,1162.58 L665.60,1162.57 L666.36,1162.56 L667.12,1162.55 L667.89,1162.54 L668.65,1162.53 L669.41,1162.52 L670.17,1162.51 L670.93,1162.50 L671.69,1162.49 L672.45,1162.48 L673.21,1162.47 L673.97,1162.47 L674.73,1162.46 L675.49,1162.45 L676.25,1162.44 L677.02,1162.44 L677.78,1162.43 L678.54,1162.42 L679.30,1162.42 L680.06,1162.41 L680.82,1162.40 L681.58,1162.40 L682.34,1162.39 L683.10,1162.39 L683.86,1162.38 L684.62,1162.38 L685.38,1162.37 L686.15,1162.37 L686.91,1162.36 L687.67,1162.36 L688.43,1162.35 L689.19,1162.35 L689.95,1162.35 L690.71,1162.34 L691.47,1162.34 L692.23,1162.34 L692.99,1162.33 L693.75,1162.33 L694.51,1162.33 L695.27,1162.33 L696.04,1162.33 L696.80,1162.32 L697.56,1162.32 L698.32,1162.32 L699.08,1162.32 L699.84,1162.32 L700.60,1162.32 L701.36,1162.32 L702.12,1162.32 L702.88,1162.32 L703.64,1162.32 L704.40,1162.32 L705.17,1162.32 L705.93,1162.32 L706.69,1162.32 L707.45,1162.33 L708.21,1162.33 L708.97,1162.33 L709.73,1162.33 L710.49,1162.33 L711.25,1162.34 L712.01,1162.34 L712.77,1162.34 L713.53,1162.35 L714.29,1162.35 L715.06,1162.35 L715.82,1162.36 L716.58,1162.36 L717.34,1162.37 L718.10,1162.37 L718.86,1162.38 L719.62,1162.38 L720.38,1162.39 L721.14,1162.40 L721.90,1162.40 L722.66,1162.41 L723.42,1162.42 L724.19,1162.42 L724.95,1162.43 L725.71,1162.44 L726.47,1162.45 L727.23,1162.45 L727.99,1162.46 L728.75,1162.47 L729.51,1162.48 L730.27,1162.49 L731.03,1162.50 L731.79,1162.51 L732.55,1162.52 L733.32,1162.53 L734.08,1162.54 L734.84,1162.55 L735.60,1162.56 L736.36,1162.57 L737.12,1162.58 L737.88,1162.59 L738.64,1162.61 L739.40,1162.62 L740.16,1162.63 L740.92,1162.64 L741.68,1162.66 L742.44,1162.67 L743.21,1162.68 L743.97,1162.70 L744.73,1162.71 L745.49,1162.73 L746.25,1162.74 L747.01,1162.76" stroke="#0000ff" stroke-dasharray="8.84 2.21 4.42 2.38"/>
<path d="M443.45,1447.91 L444.21,1446.21 L444.97,1444.53 L445.73,1442.85 L446.49,1441.19 L447.25,1439.53 L448.01,1437.87 L448.77,1436.22 L449.53,1434.57 L450.29,1432.92 L451.06,1431.27 L451.82,1429.62 L452.58,1427.96 L453.34,1426.30 L454.10,1424.64 L454.86,1422.96 L455.62,1421.28 L456.38,1419.58 L457.14,1417.87 L457.90,1416.15 L458.66,1414.42 L459.42,1412.67 L460.19,1410.90 L460.95,1409.11 L461.71,1407.30 L462.47,1405.47 L463.23,1403.61 L463.99,1401.73 L464.75,1399.83 L465.51,1397.89 L466.27,1395.93 L467.03,1393.94 L467.79,1391.91 L468.55,1389.85 L469.32,1387.76 L470.08,1385.63 L470.84,1383.47 L471.60,1381.28 L472.36,1379.06 L473.12,1376.80 L473.88,1374.52 L474.64,1372.21 L475.40,1369.87 L476.16,1367.51 L476.92,1365.13 L477.68,1362.72 L478.44,1360.28 L479.21,1357.83 L479.97,1355.36 L480.73,1352.86 L481.49,1350.35 L482.25,1347.82 L483.01,1345.28 L483.77,1342.72 L484.53,1340.15 L485.29,1337.57 L486.05,1334.97 L486.81,1332.36 L487.57,1329.74 L488.34,1327.12 L489.10,1324.49 L489.86,1321.85 L490.62,1319.20 L491.38,1316.55 L492.14,1313.90 L492.90,1311.24 L493.66,1308.59 L494.42,1305.93 L495.18,1303.27 L495.94,1300.62 L496.70,1297.97 L497.46,1295.32 L498.23,1292.68 L498.99,1290.04 L499.75,1287.41 L500.51,1284.79 L501.27,1282.17 L502.03,1279.57 L502.79,1276.98 L503.55,1274.40 L504.31,1271.83 L505.07,1269.28 L505.83,1266.74 L506.59,1264.22 L507.36,1261.72 L508.12,1259.23 L508.88,1256.76 L509.64,1254.32 L510.40,1251.89 L511.16,1249.48 L511.92,1247.09 L512.68,1244.72 L513.44,1242.38 L514.20,1240.06 L514.96,1237.76 L515.72,1235.48 L516.49,1233.23 L517.25,1231.00 L518.01,1228.79 L518.77,1226.62 L519.53,1224.47 L520.29,1222.35 L521.05,1220.26 L521.81,1218.20 L522.57,1216.18 L523.33,1214.19 L524.09,1212.23 L524.85,1210.32 L525.61,1208.44 L526.38,1206.60 L527.14,1204.80 L527.90,1203.05 L528.66,1201.34 L529.42,1199.68 L530.18,1198.06 L530.94,1196.50 L531.70,1194.98 L532.46,1193.51 L533.22,1192.10 L533.98,1190.73 L534.74,1189.42 L535.51,1188.15 L536.27,1186.93 L537.03,1185.75 L537.79,1184.62 L538.55,1183.53 L539.31,1182.48 L540.07,1181.47 L540.83,1180.51 L541.59,1179.58 L542.35,1178.69 L543.11,1177.83 L543.87,1177.01 L544.64,1176.22 L545.40,1175.47 L546.16,1174.74 L546.92,1174.05 L547.68,1173.39 L548.44,1172.75 L549.20,1172.15 L549.96,1171.56 L550.72,1171.00 L551.48,1170.47 L552.24,1169.96 L553.00,1169.47 L553.76,1168.99 L554.53,1168.54 L555.29,1168.11 L556.05,1167.69 L556.81,1167.29 L557.57,1166.90 L558.33,1166.52 L559.09,1166.16 L559.85,1165.81 L560.61,1165.48 L561.37,1165.15 L562.13,1164.85 L562.89,1164.55 L563.66,1164.27 L564.42,1164.00 L565.18,1163.75 L565.94,1163.51 L566.70,1163.28 L567.46,1163.07 L568.22,1162.87 L568.98,1162.68 L569.74,1162.51 L570.50,1162.35 L571.26,1162.20 L572.02,1162.06 L572.78,1161.94 L573.55,1161.83 L574.31,1161.73 L575.07,1161.65 L575.83,1161.57 L576.59,1161.50 L577.35,1161.45 L578.11,1161.40 L578.87,1161.36 L579.63,1161.33 L580.39,1161.30 L581.15,1161.29 L581.91,1161.28 L582.68,1161.28 L583.44,1161.28 L584.20,1161.29 L584.96,1161.31 L585.72,1161.33 L586.48,1161.35 L587.24,1161.38 L588.00,1161.42 L588.76,1161.45 L589.52,1161.49 L590.28,1161.53 L591.04,1161.57 L591.81,1161.62 L592.57,1161.66 L593.33,1161.71 L594.09,1161.75 L594.85,1161.80 L595.61,1161.84 L596.37,1161.88 L597.13,1161.93 L597.89,1161.97 L598.65,1162.01 L599.41,1162.05 L600.17,1162.09 L600.93,1162.12 L601.70,1162.16 L602.46,1162.20 L603.22,1162.23 L603.98,1162.26 L604.74,1162.30 L605.50,1162.33 L606.26,1162.36 L607.02,1162.39 L607.78,1162.42 L608.54,1162.45 L609.30,1162.48 L610.06,1162.50 L610.83,1162.53 L611.59,1162.56 L612.35,1162.58 L613.11,1162.60 L613.87,1162.63 L614.63,1162.65 L615.39,1162.67 L616.15,1162.69 L616.91,1162.71 L617.67,1162.73 L618.43,1162.75 L619.19,1162.77 L619.95,1162.79 L620.72,1162.80 L621.48,1162.82 L622.24,1162.83 L623.00,1162.85 L623.76,1162.86 L624.52,1162.87 L625.28,1162.89 L626.04,1162.90 L626.80,1162.91 L627.56,1162.92 L628.32,1162.93 L629.08,1162.94 L629.85,1162.95 L630.61,1162.96 L631.37,1162.97 L632.13,1162.97 L632.89,1162.98 L633.65,1162.99 L634.41,1162.99 L635.17,1163.00 L635.93,1163.00 L636.69,1163.00 L637.45,1163.01 L638.21,1163.01 L638.98,1163.01 L639.74,1163.01 L640.50,1163.02 L641.26,1163.02 L642.02,1163.02 L642.78,1163.02 L643.54,1163.02 L644.30,1163.02 L645.06,1163.02 L645.82,1163.01 L646.58,1163.01 L647.34,1163.01 L648.10,1163.01 L648.87,1163.00 L649.63,1163.00 L650.39,1163.00 L651.15,1162.99 L651.91,1162.99 L652.67,1162.98 L653.43,1162.98 L654.19,1162.97 L654.95,1162.97 L655.71,1162.96 L656.47,1162.95 L657.23,1162.95 L658.00,1162.94 L658.76,1162.93 L659.52,1162.93 L660.28,1162.92 L661.04,1162.91 L661.80,1162.90 L662.56,1162.89 L663.32,1162.89 L664.08,1162.88 L664.84,1162.87 L665.60,1162.86 L666.36,1162.85 L667.12,1162.84 L667.89,1162.83 L668.65,1162.82 L669.41,1162.81 L670.17,1162.80 L670.93,1162.79 L671.69,1162.78 L672.45,1162.77 L673.21,1162.76 L673.97,1162.75 L674.73,1162.74 L675.49,1162.73 L676.25,1162.72 L677.02,1162.71 L677.78,1162.70 L678.54,1162.69 L679.30,1162.68 L680.06,1162.67 L680.82,1162.66 L681.58,1162.65 L682.34,1162.64 L683.10,1162.63 L683.86,1162.62 L684.62,1162.60 L685.38,1162.59 L686.15,1162.58 L686.91,1162.57 L687.67,1162.56 L688.43,1162.55 L689.19,1162.54 L689.95,1162.53 L690.71,1162.52 L691.47,1162.51 L692.23,1162.50 L692.99,1162.50 L693.75,1162.49 L694.51,1162.48 L695.27,1162.47 L696.04,1162.46 L696.80,1162.45 L697.56,1162.44 L698.32,1162.44 L699.08,1162.43 L699.84,1162.42 L700.60,1162.41 L701.36,1162.41 L702.12,1162.40 L702.88,1162.39 L703.64,1162.39 L704.40,1162.38 L705.17,1162.37 L705.93,1162.37 L706.69,1162.36 L707.45,1162.36 L708.21,1162.35 L708.97,1162.35 L709.73,1162.34 L710.49,1162.34 L711.25,1162.34 L712.01,1162.34 L712.77,1162.33 L713.53,1162.33 L714.29,1162.33 L715.06,1162.33 L715.82,1162.33 L716.58,1162.33 L717.34,1162.33 L718.10,1162.33 L718.86,1162.33 L719.62,1162.33 L720.38,1162.33 L721.14,1162.33 L721.90,1162.34 L722.66,1162.34 L723.42,1162.34 L724.19,1162.35 L724.95,1162.35 L725.71,1162.36 L726.47,1162.36 L727.23,1162.37 L727.99,1162.38 L728.75,1162.38 L729.51,1162.39 L730.27,1162.40 L731.03,1162.41 L731.79,1162.42 L732.55,1162.43 L733.32,1162.44 L734.08,1162.45 L734.84,1162.47 L735.60,1162.48 L736.36,1162.49 L737.12,1162.51 L737.88,1162.52 L738.64,1162.54 L739.40,1162.55 L740.16,1162.57 L740.92,1162.59 L741.68,1162.61 L742.44,1162.63 L743.21,1162.65 L743.97,1162.67 L744.73,1162.69 L745.49,1162.71 L746.25,1162.73 L747.01,1162.76" stroke="#00ff00" stroke-dasharray="8.84 9.01"/>
<path d="M443.45,1449.95 L444.21,1448.49 L444.97,1447.00 L445.73,1445.49 L446.49,1443.96 L447.25,1442.41 L448.01,1440.83 L448.77,1439.23 L449.53,1437.61 L450.29,1435.96 L451.06,1434.29 L451.82,1432.59 L452.58,1430.87 L453.34,1429.13 L454.10,1427.35 L454.86,1425.55 L455.62,1423.73 L456.38,1421.87 L457.14,1419.99 L457.90,1418.09 L458.66,1416.15 L459.42,1414.19 L460.19,1412.20 L460.95,1410.17 L461.71,1408.12 L462.47,1406.04 L463.23,1403.93 L463.99,1401.79 L464.75,1399.62 L465.51,1397.42 L466.27,1395.18 L467.03,1392.92 L467.79,1390.62 L468.55,1388.29 L469.32,1385.92 L470.08,1383.53 L470.84,1381.10 L471.60,1378.64 L472.36,1376.16 L473.12,1373.64 L473.88,1371.10 L474.64,1368.53 L475.40,1365.94 L476.16,1363.32 L476.92,1360.68 L477.68,1358.01 L478.44,1355.33 L479.21,1352.62 L479.97,1349.90 L480.73,1347.15 L481.49,1344.39 L482.25,1341.62 L483.01,1338.82 L483.77,1336.02 L484.53,1333.20 L485.29,1330.36 L486.05,1327.52 L486.81,1324.67 L487.57,1321.80 L488.34,1318.93 L489.10,1316.05 L489.86,1313.16 L490.62,1310.27 L491.38,1307.37 L492.14,1304.47 L492.90,1301.57 L493.66,1298.67 L494.42,1295.76 L495.18,1292.86 L495.94,1289.96 L496.70,1287.06 L497.46,1284.17 L498.23,1281.29 L498.99,1278.41 L499.75,1275.55 L500.51,1272.70 L501.27,1269.86 L502.03,1267.04 L502.79,1264.23 L503.55,1261.44 L504.31,1258.67 L505.07,1255.92 L505.83,1253.20 L506.59,1250.50 L507.36,1247.82 L508.12,1245.18 L508.88,1242.56 L509.64,1239.97 L510.40,1237.42 L511.16,1234.89 L511.92,1232.41 L512.68,1229.96 L513.44,1227.55 L514.20,1225.17 L514.96,1222.85 L515.72,1220.56 L516.49,1218.32 L517.25,1216.12 L518.01,1213.97 L518.77,1211.87 L519.53,1209.82 L520.29,1207.83 L521.05,1205.88 L521.81,1203.98 L522.57,1202.14 L523.33,1200.34 L524.09,1198.58 L524.85,1196.88 L525.61,1195.22 L526.38,1193.60 L527.14,1192.02 L527.90,1190.49 L528.66,1189.00 L529.42,1187.55 L530.18,1186.14 L530.94,1184.77 L531.70,1183.44 L532.46,1182.14 L533.22,1180.88 L533.98,1179.65 L534.74,1178.46 L535.51,1177.31 L536.27,1176.19 L537.03,1175.11 L537.79,1174.06 L538.55,1173.05 L539.31,1172.08 L540.07,1171.13 L540.83,1170.22 L541.59,1169.35 L542.35,1168.51 L543.11,1167.71 L543.87,1166.94 L544.64,1166.20 L545.40,1165.49 L546.16,1164.82 L546.92,1164.19 L547.68,1163.58 L548.44,1163.00 L549.20,1162.46 L549.96,1161.94 L550.72,1161.45 L551.48,1160.99 L552.24,1160.56 L553.00,1160.16 L553.76,1159.78 L554.53,1159.43 L555.29,1159.10 L556.05,1158.79 L556.81,1158.51 L557.57,1158.26 L558.33,1158.02 L559.09,1157.81 L559.85,1157.62 L560.61,1157.45 L561.37,1157.29 L562.13,1157.16 L562.89,1157.05 L563.66,1156.95 L564.42,1156.87 L565.18,1156.81 L565.94,1156.76 L566.70,1156.72 L567.46,1156.71 L568.22,1156.70 L568.98,1156.71 L569.74,1156.73 L570.50,1156.76 L571.26,1156.80 L572.02,1156.86 L572.78,1156.92 L573.55,1156.99 L574.31,1157.07 L575.07,1157.16 L575.83,1157.26 L576.59,1157.36 L577.35,1157.47 L578.11,1157.58 L578.87,1157.70 L579.63,1157.82 L580.39,1157.94 L581.15,1158.07 L581.91,1158.19 L582.68,1158.32 L583.44,1158.45 L584.20,1158.58 L584.96,1158.71 L585.72,1158.84 L586.48,1158.98 L587.24,1159.11 L588.00,1159.24 L588.76,1159.37 L589.52,1159.50 L590.28,1159.63 L591.04,1159.76 L591.81,1159.89 L592.57,1160.02 L593.33,1160.15 L594.09,1160.28 L594.85,1160.41 L595.61,1160.54 L596.37,1160.67 L597.13,1160.80 L597.89,1160.93 L598.65,1161.05 L599.41,1161.18 L600.17,1161.31 L600.93,1161.43 L601.70,1161.55 L602.46,1161.68 L603.22,1161.80 L603.98,1161.92 L604.74,1162.03 L605.50,1162.15 L606.26,1162.27 L607.02,1162.38 L607.78,1162.50 L608.54,1162.61 L609.30,1162.72 L610.06,1162.83 L610.83,1162.93 L611.59,1163.04 L612.35,1163.14 L613.11,1163.24 L613.87,1163.34 L614.63,1163.44 L615.39,1163.54 L616.15,1163.63 L616.91,1163.72 L617.67,1163.81 L618.43,1163.90 L619.19,1163.98 L619.95,1164.06 L620.72,1164.14 L621.48,1164.22 L622.24,1164.29 L623.00,1164.37 L623.76,1164.44 L624.52,1164.50 L625.28,1164.57 L626.04,1164.63 L626.80,1164.69 L627.56,1164.75 L628.32,1164.80 L629.08,1164.86 L629.85,1164.91 L630.61,1164.95 L631.37,1165.00 L632.13,1165.05 L632.89,1165.09 L633.65,1165.13 L634.41,1165.17 L635.17,1165.20 L635.93,1165.24 L636.69,1165.27 L637.45,1165.30 L638.21,1165.33 L638.98,1165.35 L639.74,1165.38 L640.50,1165.40 L641.26,1165.42 L642.02,1165.44 L642.78,1165.46 L643.54,1165.47 L644.30,1165.49 L645.06,1165.50 L645.82,1165.51 L646.58,1165.52 L647.34,1165.52 L648.10,1165.53 L648.87,1165.53 L649.63,1165.54 L650.39,1165.54 L651.15,1165.54 L651.91,1165.53 L652.67,1165.53 L653.43,1165.53 L654.19,1165.52 L654.95,1165.51 L655.71,1165.50 L656.47,1165.49 L657.23,1165.48 L658.00,1165.47 L658.76,1165.46 L659.52,1165.44 L660.28,1165.42 L661.04,1165.41 L661.80,1165.39 L662.56,1165.37 L663.32,1165.35 L664.08,1165.33 L664.84,1165.30 L665.60,1165.28 L666.36,1165.26 L667.12,1165.23 L667.89,1165.20 L668.65,1165.18 L669.41,1165.15 L670.17,1165.12 L670.93,1165.09 L671.69,1165.06 L672.45,1165.03 L673.21,1165.00 L673.97,1164.96 L674.73,1164.93 L675.49,1164.90 L676.25,1164.86 L677.02,1164.83 L677.78,1164.79 L678.54,1164.76 L679.30,1164.72 L680.06,1164.68 L680.82,1164.65 L681.58,1164.61 L682.34,1164.57 L683.10,1164.53 L683.86,1164.49 L684.62,1164.45 L685.38,1164.41 L686.15,1164.37 L686.91,1164.33 L687.67,1164.29 L688.43,1164.25 L689.19,1164.21 L689.95,1164.17 L690.71,1164.13 L691.47,1164.09 L692.23,1164.05 L692.99,1164.01 L693.75,1163.97 L694.51,1163.93 L695.27,1163.89 L696.04,1163.85 L696.80,1163.81 L697.56,1163.77 L698.32,1163.73 L699.08,1163.69 L699.84,1163.65 L700.60,1163.61 L701.36,1163.57 L702.12,1163.53 L702.88,1163.49 L703.64,1163.46 L704.40,1163.42 L705.17,1163.38 L705.93,1163.34 L706.69,1163.31 L707.45,1163.27 L708.21,1163.24 L708.97,1163.20 L709.73,1163.17 L710.49,1163.13 L711.25,1163.10 L712.01,1163.07 L712.77,1163.04 L713.53,1163.01 L714.29,1162.98 L715.06,1162.95 L715.82,1162.92 L716.58,1162.89 L717.34,1162.86 L718.10,1162.84 L718.86,1162.81 L719.62,1162.79 L720.38,1162.77 L721.14,1162.74 L721.90,1162.72 L722.66,1162.70 L723.42,1162.68 L724.19,1162.67 L724.95,1162.65 L725.71,1162.63 L726.47,1162.62 L727.23,1162.60 L727.99,1162.59 L728.75,1162.58 L729.51,1162.57 L730.27,1162.56 L731.03,1162.56 L731.79,1162.55 L732.55,1162.55 L733.32,1162.54 L734.08,1162.54 L734.84,1162.54 L735.60,1162.54 L736.36,1162.55 L737.12,1162.55 L737.88,1162.56 L738.64,1162.57 L739.40,1162.58 L740.16,1162.59 L740.92,1162.60 L741.68,1162.61 L742.44,1162.63 L743.21,1162.65 L743.97,1162.67 L744.73,1162.69 L745.49,1162.71 L746.25,1162.74 L747.01,1162.76" stroke="#00ffff"/>
</g>
<rect x="694.30" y="1391.50" width="150.20" height="98.00" fill="#fff" stroke="#0a0a0a" stroke-width="1.35"/>
<g transform="scale(1.137,1)" fill="none" stroke-width="3.132">
<path d="M619.61,1405.40H661.92" stroke="#ff0000" stroke-dasharray="2.21 2.24"/>
<path d="M619.61,1428.90H666.75" stroke="#0000ff" stroke-dasharray="8.84 2.21 4.42 2.38"/>
<path d="M619.61,1452.40H666.75" stroke="#00ff00" stroke-dasharray="8.84 9.01"/>
<path d="M619.61,1476.00H666.75" stroke="#00ffff"/>
</g>
<text transform="translate(761.04,1412.95) scale(1.2320,1.0000)" font-size="19.55" text-anchor="start" font-family="Liberation Serif" font-weight="bold" font-style="italic"  xml:space="preserve">M</text>
<text transform="translate(787.72,1412.95) scale(1.4344,1.0000)" font-size="19.55" text-anchor="start" font-family="Liberation Serif" font-weight="bold" font-style="italic"  xml:space="preserve">=</text>
<text transform="translate(808.80,1412.95) scale(1.1978,1.0000)" font-size="19.55" text-anchor="start" font-family="Liberation Serif" font-weight="bold" font-style="italic"  xml:space="preserve">0.1</text>
<text transform="translate(761.04,1436.30) scale(1.2320,1.0000)" font-size="19.55" text-anchor="start" font-family="Liberation Serif" font-weight="bold" font-style="italic"  xml:space="preserve">M</text>
<text transform="translate(787.72,1436.30) scale(1.4344,1.0000)" font-size="19.55" text-anchor="start" font-family="Liberation Serif" font-weight="bold" font-style="italic"  xml:space="preserve">=</text>
<text transform="translate(808.80,1436.30) scale(1.1978,1.0000)" font-size="19.55" text-anchor="start" font-family="Liberation Serif" font-weight="bold" font-style="italic"  xml:space="preserve">0.2</text>
<text transform="translate(761.04,1459.65) scale(1.2320,1.0000)" font-size="19.55" text-anchor="start" font-family="Liberation Serif" font-weight="bold" font-style="italic"  xml:space="preserve">M</text>
<text transform="translate(787.72,1459.65) scale(1.4344,1.0000)" font-size="19.55" text-anchor="start" font-family="Liberation Serif" font-weight="bold" font-style="italic"  xml:space="preserve">=</text>
<text transform="translate(808.80,1459.65) scale(1.1978,1.0000)" font-size="19.55" text-anchor="start" font-family="Liberation Serif" font-weight="bold" font-style="italic"  xml:space="preserve">0.3</text>
<text transform="translate(761.04,1483.00) scale(1.2320,1.0000)" font-size="19.55" text-anchor="start" font-family="Liberation Serif" font-weight="bold" font-style="italic"  xml:space="preserve">M</text>
<text transform="translate(787.72,1483.00) scale(1.4344,1.0000)" font-size="19.55" text-anchor="start" font-family="Liberation Serif" font-weight="bold" font-style="italic"  xml:space="preserve">=</text>
<text transform="translate(808.80,1483.00) scale(1.1978,1.0000)" font-size="19.55" text-anchor="start" font-family="Liberation Serif" font-weight="bold" font-style="italic"  xml:space="preserve">0.4</text>
<g transform="scale(1.137,1)"><path d="M539.05,1171.00L554.93,1207.26" stroke="#000" stroke-width="1.53" fill="none"/><path d="M560.16,1219.20L547.39,1205.30L554.93,1207.26L558.60,1200.39Z" fill="#000"/></g>
<text transform="translate(481.88,1511.96) scale(1.2150,1.0000)" font-size="21.30" text-anchor="start" font-family="Liberation Serif" font-weight="bold" font-style="italic"  xml:space="preserve">0</text>
<text transform="translate(462.47,1443.66) scale(1.2150,1.0000)" font-size="21.30" text-anchor="start" font-family="Liberation Serif" font-weight="bold" font-style="italic"  xml:space="preserve">0.2</text>
<text transform="translate(462.73,1375.36) scale(1.2150,1.0000)" font-size="21.30" text-anchor="start" font-family="Liberation Serif" font-weight="bold" font-style="italic"  xml:space="preserve">0.4</text>
<text transform="translate(461.95,1307.06) scale(1.2150,1.0000)" font-size="21.30" text-anchor="start" font-family="Liberation Serif" font-weight="bold" font-style="italic"  xml:space="preserve">0.6</text>
<text transform="translate(462.47,1238.77) scale(1.2150,1.0000)" font-size="21.30" text-anchor="start" font-family="Liberation Serif" font-weight="bold" font-style="italic"  xml:space="preserve">0.8</text>
<text transform="translate(482.27,1170.79) scale(1.2150,1.0000)" font-size="21.30" text-anchor="start" font-family="Liberation Serif" font-weight="bold" font-style="italic"  xml:space="preserve">1</text>
<text transform="translate(497.60,1532.00) scale(1.2150,1.0000)" font-size="21.30" text-anchor="start" font-family="Liberation Serif" font-weight="bold" font-style="italic"  xml:space="preserve">0</text>
<text transform="translate(613.17,1532.00) scale(1.2150,1.0000)" font-size="21.30" text-anchor="start" font-family="Liberation Serif" font-weight="bold" font-style="italic"  xml:space="preserve">2</text>
<text transform="translate(728.35,1532.00) scale(1.2150,1.0000)" font-size="21.30" text-anchor="start" font-family="Liberation Serif" font-weight="bold" font-style="italic"  xml:space="preserve">4</text>
<text transform="translate(842.49,1532.00) scale(1.2150,1.0000)" font-size="21.30" text-anchor="start" font-family="Liberation Serif" font-weight="bold" font-style="italic"  xml:space="preserve">6</text>
<text transform="translate(675.54,1558.45) scale(1.3564,1.0000)" font-size="20.74" text-anchor="start" font-family="Liberation Serif" font-weight="bold" font-style="italic"  xml:space="preserve">η</text>
<text transform="translate(449.62,1350.68) scale(1.1926,1.0000) rotate(-90)" font-size="21.89" text-anchor="start" font-family="Liberation Serif" font-weight="bold" font-style="italic"  xml:space="preserve">Be(η)</text>
<text transform="translate(445.22,1121.60) scale(1.0000,1.0000)" font-size="42.50" text-anchor="start" font-family="Liberation Sans" font-weight="bold"  xml:space="preserve">F</text>
</g>
</svg></body></html>
